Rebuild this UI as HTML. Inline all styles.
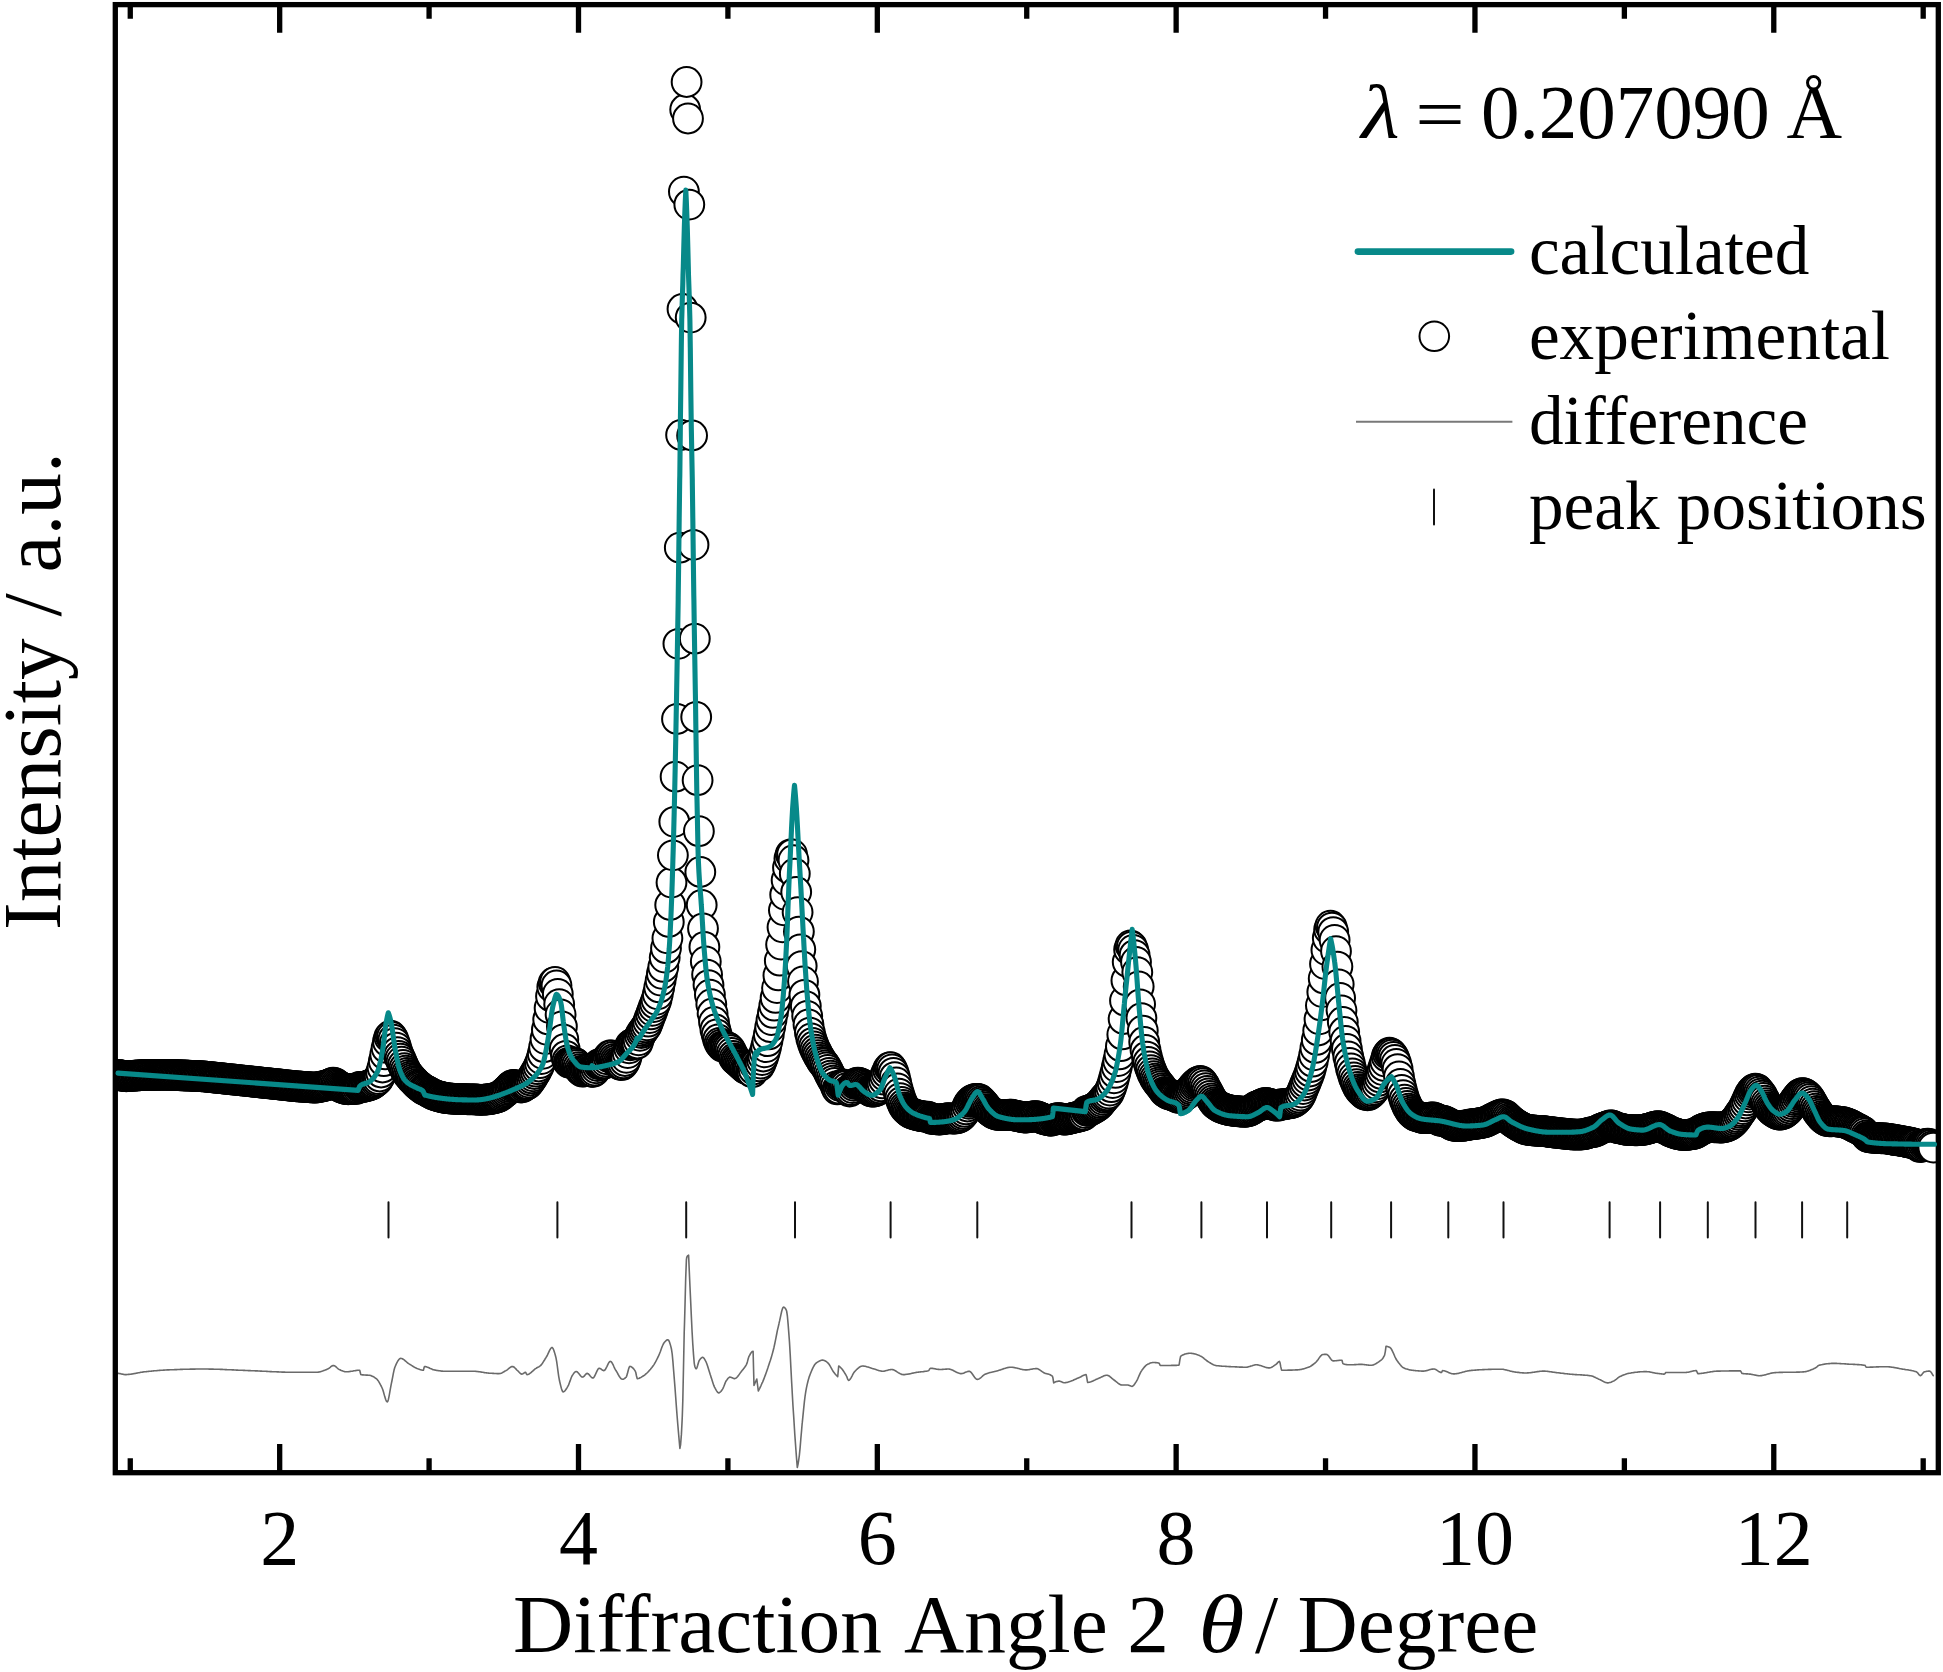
<!DOCTYPE html>
<html lang="en"><head><meta charset="utf-8"><title>Diffraction pattern</title>
<style>
html,body{margin:0;padding:0;background:#fff;overflow:hidden}
svg{display:block}
text{font-family:"Liberation Serif","Times New Roman",serif;fill:#000}
.i{font-style:italic}
</style></head><body>
<svg width="1943" height="1672" viewBox="0 0 1943 1672">
<rect width="1943" height="1672" fill="#fff"/>
<defs><clipPath id="c"><rect x="115.3" y="4.63" width="1823.0" height="1468.07"/></clipPath></defs>
<g clip-path="url(#c)">
<g fill="#fff" stroke="#000" stroke-width="2.0"><circle cx="115.3" cy="1075.6" r="14.9"/><circle cx="116.7" cy="1075.3" r="14.9"/><circle cx="118" cy="1074.9" r="14.9"/><circle cx="119.4" cy="1075" r="14.9"/><circle cx="120.8" cy="1075.3" r="14.9"/><circle cx="122.2" cy="1075.7" r="14.9"/><circle cx="123.5" cy="1076" r="14.9"/><circle cx="124.9" cy="1076.2" r="14.9"/><circle cx="126.3" cy="1076.3" r="14.9"/><circle cx="127.6" cy="1076.2" r="14.9"/><circle cx="129" cy="1076.1" r="14.9"/><circle cx="130.4" cy="1076" r="14.9"/><circle cx="131.7" cy="1075.9" r="14.9"/><circle cx="133.1" cy="1075.8" r="14.9"/><circle cx="134.5" cy="1075.7" r="14.9"/><circle cx="135.9" cy="1075.6" r="14.9"/><circle cx="137.2" cy="1075.5" r="14.9"/><circle cx="138.6" cy="1075.4" r="14.9"/><circle cx="140" cy="1075.3" r="14.9"/><circle cx="141.3" cy="1075.2" r="14.9"/><circle cx="142.7" cy="1075.1" r="14.9"/><circle cx="144.1" cy="1075" r="14.9"/><circle cx="145.4" cy="1075" r="14.9"/><circle cx="146.8" cy="1075" r="14.9"/><circle cx="148.2" cy="1074.9" r="14.9"/><circle cx="149.6" cy="1074.9" r="14.9"/><circle cx="150.9" cy="1074.9" r="14.9"/><circle cx="152.3" cy="1074.9" r="14.9"/><circle cx="153.7" cy="1074.9" r="14.9"/><circle cx="155" cy="1074.9" r="14.9"/><circle cx="156.4" cy="1074.9" r="14.9"/><circle cx="157.8" cy="1074.8" r="14.9"/><circle cx="159.1" cy="1074.8" r="14.9"/><circle cx="160.5" cy="1074.8" r="14.9"/><circle cx="161.9" cy="1074.8" r="14.9"/><circle cx="163.3" cy="1074.8" r="14.9"/><circle cx="164.6" cy="1074.8" r="14.9"/><circle cx="166" cy="1074.8" r="14.9"/><circle cx="167.4" cy="1074.8" r="14.9"/><circle cx="168.7" cy="1074.8" r="14.9"/><circle cx="170.1" cy="1074.8" r="14.9"/><circle cx="171.5" cy="1074.9" r="14.9"/><circle cx="172.8" cy="1075" r="14.9"/><circle cx="174.2" cy="1075" r="14.9"/><circle cx="175.6" cy="1075.1" r="14.9"/><circle cx="177" cy="1075.1" r="14.9"/><circle cx="178.3" cy="1075.2" r="14.9"/><circle cx="179.7" cy="1075.3" r="14.9"/><circle cx="181.1" cy="1075.3" r="14.9"/><circle cx="182.4" cy="1075.4" r="14.9"/><circle cx="183.8" cy="1075.5" r="14.9"/><circle cx="185.2" cy="1075.5" r="14.9"/><circle cx="186.5" cy="1075.6" r="14.9"/><circle cx="187.9" cy="1075.6" r="14.9"/><circle cx="189.3" cy="1075.7" r="14.9"/><circle cx="190.7" cy="1075.8" r="14.9"/><circle cx="192" cy="1075.8" r="14.9"/><circle cx="193.4" cy="1075.9" r="14.9"/><circle cx="194.8" cy="1076" r="14.9"/><circle cx="196.1" cy="1076" r="14.9"/><circle cx="197.5" cy="1076.1" r="14.9"/><circle cx="198.9" cy="1076.1" r="14.9"/><circle cx="200.2" cy="1076.2" r="14.9"/><circle cx="201.6" cy="1076.3" r="14.9"/><circle cx="203" cy="1076.4" r="14.9"/><circle cx="204.4" cy="1076.5" r="14.9"/><circle cx="205.7" cy="1076.6" r="14.9"/><circle cx="207.1" cy="1076.8" r="14.9"/><circle cx="208.5" cy="1076.9" r="14.9"/><circle cx="209.8" cy="1077.1" r="14.9"/><circle cx="211.2" cy="1077.2" r="14.9"/><circle cx="212.6" cy="1077.4" r="14.9"/><circle cx="213.9" cy="1077.5" r="14.9"/><circle cx="215.3" cy="1077.7" r="14.9"/><circle cx="216.7" cy="1077.8" r="14.9"/><circle cx="218.1" cy="1077.9" r="14.9"/><circle cx="219.4" cy="1078.1" r="14.9"/><circle cx="220.8" cy="1078.2" r="14.9"/><circle cx="222.2" cy="1078.4" r="14.9"/><circle cx="223.5" cy="1078.5" r="14.9"/><circle cx="224.9" cy="1078.7" r="14.9"/><circle cx="226.3" cy="1078.8" r="14.9"/><circle cx="227.6" cy="1079" r="14.9"/><circle cx="229" cy="1079.1" r="14.9"/><circle cx="230.4" cy="1079.3" r="14.9"/><circle cx="231.8" cy="1079.4" r="14.9"/><circle cx="233.1" cy="1079.5" r="14.9"/><circle cx="234.5" cy="1079.7" r="14.9"/><circle cx="235.9" cy="1079.8" r="14.9"/><circle cx="237.2" cy="1080" r="14.9"/><circle cx="238.6" cy="1080.1" r="14.9"/><circle cx="240" cy="1080.3" r="14.9"/><circle cx="241.3" cy="1080.4" r="14.9"/><circle cx="242.7" cy="1080.6" r="14.9"/><circle cx="244.1" cy="1080.7" r="14.9"/><circle cx="245.5" cy="1080.8" r="14.9"/><circle cx="246.8" cy="1081" r="14.9"/><circle cx="248.2" cy="1081.1" r="14.9"/><circle cx="249.6" cy="1081.3" r="14.9"/><circle cx="250.9" cy="1081.4" r="14.9"/><circle cx="252.3" cy="1081.6" r="14.9"/><circle cx="253.7" cy="1081.7" r="14.9"/><circle cx="255" cy="1081.9" r="14.9"/><circle cx="256.4" cy="1082" r="14.9"/><circle cx="257.8" cy="1082.2" r="14.9"/><circle cx="259.2" cy="1082.3" r="14.9"/><circle cx="260.5" cy="1082.5" r="14.9"/><circle cx="261.9" cy="1082.6" r="14.9"/><circle cx="263.3" cy="1082.8" r="14.9"/><circle cx="264.6" cy="1082.9" r="14.9"/><circle cx="266" cy="1083.1" r="14.9"/><circle cx="267.4" cy="1083.2" r="14.9"/><circle cx="268.7" cy="1083.4" r="14.9"/><circle cx="270.1" cy="1083.5" r="14.9"/><circle cx="271.5" cy="1083.6" r="14.9"/><circle cx="272.9" cy="1083.8" r="14.9"/><circle cx="274.2" cy="1083.9" r="14.9"/><circle cx="275.6" cy="1084.1" r="14.9"/><circle cx="277" cy="1084.2" r="14.9"/><circle cx="278.3" cy="1084.4" r="14.9"/><circle cx="279.7" cy="1084.5" r="14.9"/><circle cx="281.1" cy="1084.7" r="14.9"/><circle cx="282.4" cy="1084.8" r="14.9"/><circle cx="283.8" cy="1085" r="14.9"/><circle cx="285.2" cy="1085.1" r="14.9"/><circle cx="286.6" cy="1085.3" r="14.9"/><circle cx="287.9" cy="1085.4" r="14.9"/><circle cx="289.3" cy="1085.6" r="14.9"/><circle cx="290.7" cy="1085.7" r="14.9"/><circle cx="292" cy="1085.9" r="14.9"/><circle cx="293.4" cy="1086" r="14.9"/><circle cx="294.8" cy="1086.2" r="14.9"/><circle cx="296.1" cy="1086.3" r="14.9"/><circle cx="297.5" cy="1086.4" r="14.9"/><circle cx="298.9" cy="1086.5" r="14.9"/><circle cx="300.3" cy="1086.6" r="14.9"/><circle cx="301.6" cy="1086.7" r="14.9"/><circle cx="303" cy="1086.8" r="14.9"/><circle cx="304.4" cy="1086.9" r="14.9"/><circle cx="305.7" cy="1087" r="14.9"/><circle cx="307.1" cy="1087.1" r="14.9"/><circle cx="308.5" cy="1087.2" r="14.9"/><circle cx="309.8" cy="1087.3" r="14.9"/><circle cx="311.2" cy="1087.4" r="14.9"/><circle cx="312.6" cy="1087.5" r="14.9"/><circle cx="314" cy="1087.6" r="14.9"/><circle cx="315.3" cy="1087.6" r="14.9"/><circle cx="316.7" cy="1087.5" r="14.9"/><circle cx="318.1" cy="1087.3" r="14.9"/><circle cx="319.4" cy="1087" r="14.9"/><circle cx="320.8" cy="1086.7" r="14.9"/><circle cx="322.2" cy="1086.4" r="14.9"/><circle cx="323.5" cy="1086.1" r="14.9"/><circle cx="324.9" cy="1085.8" r="14.9"/><circle cx="326.3" cy="1085.5" r="14.9"/><circle cx="327.7" cy="1085.1" r="14.9"/><circle cx="329" cy="1084.5" r="14.9"/><circle cx="330.4" cy="1083.8" r="14.9"/><circle cx="331.8" cy="1083.1" r="14.9"/><circle cx="333.1" cy="1082.7" r="14.9"/><circle cx="334.5" cy="1083" r="14.9"/><circle cx="335.9" cy="1084" r="14.9"/><circle cx="337.2" cy="1085" r="14.9"/><circle cx="338.6" cy="1086" r="14.9"/><circle cx="340" cy="1086.8" r="14.9"/><circle cx="341.4" cy="1087.4" r="14.9"/><circle cx="342.7" cy="1087.9" r="14.9"/><circle cx="344.1" cy="1088.5" r="14.9"/><circle cx="345.5" cy="1089" r="14.9"/><circle cx="346.8" cy="1089.2" r="14.9"/><circle cx="348.2" cy="1089.3" r="14.9"/><circle cx="349.6" cy="1089.2" r="14.9"/><circle cx="350.9" cy="1089.1" r="14.9"/><circle cx="352.3" cy="1089.1" r="14.9"/><circle cx="353.7" cy="1089" r="14.9"/><circle cx="355.1" cy="1088.9" r="14.9"/><circle cx="356.4" cy="1088.9" r="14.9"/><circle cx="357.8" cy="1088.1" r="14.9"/><circle cx="359.2" cy="1086.9" r="14.9"/><circle cx="360.5" cy="1086.9" r="14.9"/><circle cx="361.9" cy="1087.2" r="14.9"/><circle cx="363.3" cy="1086.9" r="14.9"/><circle cx="364.6" cy="1086.6" r="14.9"/><circle cx="366" cy="1086.3" r="14.9"/><circle cx="367.4" cy="1085.9" r="14.9"/><circle cx="368.8" cy="1085.4" r="14.9"/><circle cx="370.1" cy="1085" r="14.9"/><circle cx="371.5" cy="1084.4" r="14.9"/><circle cx="372.9" cy="1083.7" r="14.9"/><circle cx="374.2" cy="1082.7" r="14.9"/><circle cx="375.6" cy="1081.6" r="14.9"/><circle cx="377" cy="1080.5" r="14.9"/><circle cx="378.3" cy="1079.1" r="14.9"/><circle cx="379.7" cy="1076.5" r="14.9"/><circle cx="381.1" cy="1072.5" r="14.9"/><circle cx="382.5" cy="1067.5" r="14.9"/><circle cx="383.8" cy="1061.2" r="14.9"/><circle cx="385.2" cy="1054.4" r="14.9"/><circle cx="386.6" cy="1047.9" r="14.9"/><circle cx="387.9" cy="1041.5" r="14.9"/><circle cx="389.3" cy="1037.1" r="14.9"/><circle cx="390.7" cy="1035.7" r="14.9"/><circle cx="392" cy="1036.9" r="14.9"/><circle cx="393.4" cy="1039.6" r="14.9"/><circle cx="394.8" cy="1043.2" r="14.9"/><circle cx="396.2" cy="1047.6" r="14.9"/><circle cx="397.5" cy="1052.1" r="14.9"/><circle cx="398.9" cy="1055.8" r="14.9"/><circle cx="400.3" cy="1058.7" r="14.9"/><circle cx="401.6" cy="1061.7" r="14.9"/><circle cx="403" cy="1065" r="14.9"/><circle cx="404.4" cy="1068.1" r="14.9"/><circle cx="405.7" cy="1070.7" r="14.9"/><circle cx="407.1" cy="1073" r="14.9"/><circle cx="408.5" cy="1074.9" r="14.9"/><circle cx="409.9" cy="1076.6" r="14.9"/><circle cx="411.2" cy="1078.2" r="14.9"/><circle cx="412.6" cy="1079.7" r="14.9"/><circle cx="414" cy="1081.1" r="14.9"/><circle cx="415.3" cy="1082.5" r="14.9"/><circle cx="416.7" cy="1084" r="14.9"/><circle cx="418.1" cy="1085.2" r="14.9"/><circle cx="419.4" cy="1086.2" r="14.9"/><circle cx="420.8" cy="1087.2" r="14.9"/><circle cx="422.2" cy="1088.4" r="14.9"/><circle cx="423.6" cy="1089.5" r="14.9"/><circle cx="424.9" cy="1090" r="14.9"/><circle cx="426.3" cy="1090.6" r="14.9"/><circle cx="427.7" cy="1091.4" r="14.9"/><circle cx="429" cy="1092.2" r="14.9"/><circle cx="430.4" cy="1093" r="14.9"/><circle cx="431.8" cy="1093.7" r="14.9"/><circle cx="433.1" cy="1094.4" r="14.9"/><circle cx="434.5" cy="1095.1" r="14.9"/><circle cx="435.9" cy="1095.5" r="14.9"/><circle cx="437.3" cy="1095.9" r="14.9"/><circle cx="438.6" cy="1096.3" r="14.9"/><circle cx="440" cy="1096.7" r="14.9"/><circle cx="441.4" cy="1097" r="14.9"/><circle cx="442.7" cy="1097.4" r="14.9"/><circle cx="444.1" cy="1097.7" r="14.9"/><circle cx="445.5" cy="1098" r="14.9"/><circle cx="446.8" cy="1098.2" r="14.9"/><circle cx="448.2" cy="1098.3" r="14.9"/><circle cx="449.6" cy="1098.4" r="14.9"/><circle cx="451" cy="1098.6" r="14.9"/><circle cx="452.3" cy="1098.7" r="14.9"/><circle cx="453.7" cy="1098.8" r="14.9"/><circle cx="455.1" cy="1098.8" r="14.9"/><circle cx="456.4" cy="1098.9" r="14.9"/><circle cx="457.8" cy="1099" r="14.9"/><circle cx="459.2" cy="1099" r="14.9"/><circle cx="460.5" cy="1099.1" r="14.9"/><circle cx="461.9" cy="1099.1" r="14.9"/><circle cx="463.3" cy="1099.2" r="14.9"/><circle cx="464.7" cy="1099.2" r="14.9"/><circle cx="466" cy="1099.2" r="14.9"/><circle cx="467.4" cy="1099.3" r="14.9"/><circle cx="468.8" cy="1099.3" r="14.9"/><circle cx="470.1" cy="1099.3" r="14.9"/><circle cx="471.5" cy="1099.3" r="14.9"/><circle cx="472.9" cy="1099.3" r="14.9"/><circle cx="474.2" cy="1099.4" r="14.9"/><circle cx="475.6" cy="1099.5" r="14.9"/><circle cx="477" cy="1099.6" r="14.9"/><circle cx="478.4" cy="1099.7" r="14.9"/><circle cx="479.7" cy="1099.8" r="14.9"/><circle cx="481.1" cy="1099.8" r="14.9"/><circle cx="482.5" cy="1099.8" r="14.9"/><circle cx="483.8" cy="1099.7" r="14.9"/><circle cx="485.2" cy="1099.6" r="14.9"/><circle cx="486.6" cy="1099.5" r="14.9"/><circle cx="487.9" cy="1099.4" r="14.9"/><circle cx="489.3" cy="1099.2" r="14.9"/><circle cx="490.7" cy="1099" r="14.9"/><circle cx="492.1" cy="1098.7" r="14.9"/><circle cx="493.4" cy="1098.4" r="14.9"/><circle cx="494.8" cy="1098" r="14.9"/><circle cx="496.2" cy="1097.7" r="14.9"/><circle cx="497.5" cy="1097.3" r="14.9"/><circle cx="498.9" cy="1096.7" r="14.9"/><circle cx="500.3" cy="1095.9" r="14.9"/><circle cx="501.6" cy="1094.8" r="14.9"/><circle cx="503" cy="1093.7" r="14.9"/><circle cx="504.4" cy="1092.6" r="14.9"/><circle cx="505.8" cy="1091.4" r="14.9"/><circle cx="507.1" cy="1090.1" r="14.9"/><circle cx="508.5" cy="1088.7" r="14.9"/><circle cx="509.9" cy="1087.2" r="14.9"/><circle cx="511.2" cy="1085.8" r="14.9"/><circle cx="512.6" cy="1085" r="14.9"/><circle cx="514" cy="1085" r="14.9"/><circle cx="515.3" cy="1085.5" r="14.9"/><circle cx="516.7" cy="1086" r="14.9"/><circle cx="518.1" cy="1086.6" r="14.9"/><circle cx="519.5" cy="1087.1" r="14.9"/><circle cx="520.8" cy="1087.5" r="14.9"/><circle cx="522.2" cy="1087.3" r="14.9"/><circle cx="523.6" cy="1086.3" r="14.9"/><circle cx="524.9" cy="1085.3" r="14.9"/><circle cx="526.3" cy="1084.8" r="14.9"/><circle cx="527.7" cy="1084.1" r="14.9"/><circle cx="529" cy="1082.6" r="14.9"/><circle cx="530.4" cy="1080.5" r="14.9"/><circle cx="531.8" cy="1078.4" r="14.9"/><circle cx="533.2" cy="1076.3" r="14.9"/><circle cx="534.5" cy="1074" r="14.9"/><circle cx="535.9" cy="1071.7" r="14.9"/><circle cx="537.3" cy="1069.2" r="14.9"/><circle cx="538.6" cy="1066.5" r="14.9"/><circle cx="540" cy="1063.2" r="14.9"/><circle cx="541.4" cy="1059.1" r="14.9"/><circle cx="542.8" cy="1053.8" r="14.9"/><circle cx="544.1" cy="1047.2" r="14.9"/><circle cx="545.5" cy="1039.1" r="14.9"/><circle cx="546.9" cy="1029.8" r="14.9"/><circle cx="548.2" cy="1019.5" r="14.9"/><circle cx="549.6" cy="1008.1" r="14.9"/><circle cx="551" cy="996.2" r="14.9"/><circle cx="552.3" cy="987.1" r="14.9"/><circle cx="553.7" cy="982.7" r="14.9"/><circle cx="555.1" cy="981.9" r="14.9"/><circle cx="556.5" cy="985.5" r="14.9"/><circle cx="557.8" cy="993.9" r="14.9"/><circle cx="559.2" cy="1004.2" r="14.9"/><circle cx="560.6" cy="1014.4" r="14.9"/><circle cx="561.9" cy="1026.5" r="14.9"/><circle cx="563.3" cy="1039.3" r="14.9"/><circle cx="564.7" cy="1049" r="14.9"/><circle cx="566" cy="1055.8" r="14.9"/><circle cx="567.4" cy="1060.5" r="14.9"/><circle cx="568.8" cy="1062.6" r="14.9"/><circle cx="570.1" cy="1062.9" r="14.9"/><circle cx="571.5" cy="1062.6" r="14.9"/><circle cx="572.9" cy="1062.4" r="14.9"/><circle cx="574.3" cy="1062.6" r="14.9"/><circle cx="575.6" cy="1063.4" r="14.9"/><circle cx="577" cy="1064.9" r="14.9"/><circle cx="578.4" cy="1067.1" r="14.9"/><circle cx="579.7" cy="1069.2" r="14.9"/><circle cx="581.1" cy="1070.8" r="14.9"/><circle cx="582.5" cy="1071.7" r="14.9"/><circle cx="583.8" cy="1071.4" r="14.9"/><circle cx="585.2" cy="1070.5" r="14.9"/><circle cx="586.6" cy="1069.8" r="14.9"/><circle cx="588" cy="1070" r="14.9"/><circle cx="589.3" cy="1070.9" r="14.9"/><circle cx="590.7" cy="1071.5" r="14.9"/><circle cx="592.1" cy="1071.8" r="14.9"/><circle cx="593.4" cy="1071.8" r="14.9"/><circle cx="594.8" cy="1070.6" r="14.9"/><circle cx="596.2" cy="1068.3" r="14.9"/><circle cx="597.5" cy="1066.1" r="14.9"/><circle cx="598.9" cy="1064.3" r="14.9"/><circle cx="600.3" cy="1063.7" r="14.9"/><circle cx="601.7" cy="1063.9" r="14.9"/><circle cx="603" cy="1064.1" r="14.9"/><circle cx="604.4" cy="1063.4" r="14.9"/><circle cx="605.8" cy="1061.6" r="14.9"/><circle cx="607.1" cy="1059.3" r="14.9"/><circle cx="608.5" cy="1057.1" r="14.9"/><circle cx="609.9" cy="1055.4" r="14.9"/><circle cx="611.2" cy="1055.5" r="14.9"/><circle cx="612.6" cy="1057" r="14.9"/><circle cx="614" cy="1058.8" r="14.9"/><circle cx="615.4" cy="1060.5" r="14.9"/><circle cx="616.7" cy="1062.1" r="14.9"/><circle cx="618.1" cy="1063.3" r="14.9"/><circle cx="619.5" cy="1064.3" r="14.9"/><circle cx="620.8" cy="1065" r="14.9"/><circle cx="622.2" cy="1064.9" r="14.9"/><circle cx="623.6" cy="1063.4" r="14.9"/><circle cx="625" cy="1061" r="14.9"/><circle cx="626.3" cy="1057.8" r="14.9"/><circle cx="627.7" cy="1053.1" r="14.9"/><circle cx="629.1" cy="1048.3" r="14.9"/><circle cx="630.4" cy="1045.3" r="14.9"/><circle cx="631.8" cy="1044.2" r="14.9"/><circle cx="633.2" cy="1043.6" r="14.9"/><circle cx="634.5" cy="1043" r="14.9"/><circle cx="635.9" cy="1043.5" r="14.9"/><circle cx="637.3" cy="1043.5" r="14.9"/><circle cx="638.6" cy="1040.3" r="14.9"/><circle cx="640" cy="1035.8" r="14.9"/><circle cx="641.4" cy="1033" r="14.9"/><circle cx="642.8" cy="1031.2" r="14.9"/><circle cx="644.1" cy="1029.3" r="14.9"/><circle cx="645.5" cy="1027.4" r="14.9"/><circle cx="646.9" cy="1025.3" r="14.9"/><circle cx="648.2" cy="1021.7" r="14.9"/><circle cx="649.6" cy="1018.1" r="14.9"/><circle cx="651" cy="1014.4" r="14.9"/><circle cx="652.4" cy="1010.8" r="14.9"/><circle cx="653.7" cy="1007.1" r="14.9"/><circle cx="655.1" cy="1003.5" r="14.9"/><circle cx="656.5" cy="999.8" r="14.9"/><circle cx="657.8" cy="994.3" r="14.9"/><circle cx="659.2" cy="987.4" r="14.9"/><circle cx="660.6" cy="980.6" r="14.9"/><circle cx="661.9" cy="973.8" r="14.9"/><circle cx="663.3" cy="966.9" r="14.9"/><circle cx="664.7" cy="957.6" r="14.9"/><circle cx="666" cy="948.2" r="14.9"/><circle cx="667.4" cy="938.3" r="14.9"/><circle cx="668.8" cy="922" r="14.9"/><circle cx="670.2" cy="905" r="14.9"/><circle cx="671.5" cy="882.6" r="14.9"/><circle cx="672.9" cy="855.3" r="14.9"/><circle cx="674.3" cy="821.8" r="14.9"/><circle cx="675.6" cy="776.7" r="14.9"/><circle cx="677" cy="719" r="14.9"/><circle cx="678.4" cy="643.8" r="14.9"/><circle cx="679.8" cy="547.7" r="14.9"/><circle cx="681.1" cy="435" r="14.9"/><circle cx="682.5" cy="309" r="14.9"/><circle cx="683.9" cy="191.7" r="14.9"/><circle cx="685.2" cy="109.5" r="14.9"/><circle cx="686.6" cy="82" r="14.9"/><circle cx="688" cy="118.5" r="14.9"/><circle cx="689.3" cy="204.6" r="14.9"/><circle cx="690.7" cy="317.6" r="14.9"/><circle cx="692.1" cy="435.5" r="14.9"/><circle cx="693.5" cy="544.8" r="14.9"/><circle cx="694.8" cy="638.7" r="14.9"/><circle cx="696.2" cy="717" r="14.9"/><circle cx="697.6" cy="780.2" r="14.9"/><circle cx="698.9" cy="831.2" r="14.9"/><circle cx="700.3" cy="872" r="14.9"/><circle cx="701.7" cy="905" r="14.9"/><circle cx="703" cy="928.5" r="14.9"/><circle cx="704.4" cy="947" r="14.9"/><circle cx="705.8" cy="961.4" r="14.9"/><circle cx="707.1" cy="974.6" r="14.9"/><circle cx="708.5" cy="985.1" r="14.9"/><circle cx="709.9" cy="994.7" r="14.9"/><circle cx="711.3" cy="1004.2" r="14.9"/><circle cx="712.6" cy="1013.5" r="14.9"/><circle cx="714" cy="1022" r="14.9"/><circle cx="715.4" cy="1029.5" r="14.9"/><circle cx="716.7" cy="1034.5" r="14.9"/><circle cx="718.1" cy="1039.5" r="14.9"/><circle cx="719.5" cy="1042.9" r="14.9"/><circle cx="720.9" cy="1044.7" r="14.9"/><circle cx="722.2" cy="1046.4" r="14.9"/><circle cx="723.6" cy="1046.7" r="14.9"/><circle cx="725" cy="1046.6" r="14.9"/><circle cx="726.3" cy="1046.6" r="14.9"/><circle cx="727.7" cy="1047.5" r="14.9"/><circle cx="729.1" cy="1048.4" r="14.9"/><circle cx="730.4" cy="1050.1" r="14.9"/><circle cx="731.8" cy="1052.9" r="14.9"/><circle cx="733.2" cy="1055.8" r="14.9"/><circle cx="734.5" cy="1058.4" r="14.9"/><circle cx="735.9" cy="1060" r="14.9"/><circle cx="737.3" cy="1061.1" r="14.9"/><circle cx="738.7" cy="1062.3" r="14.9"/><circle cx="740" cy="1063.5" r="14.9"/><circle cx="741.4" cy="1064.8" r="14.9"/><circle cx="742.8" cy="1066" r="14.9"/><circle cx="744.1" cy="1067.2" r="14.9"/><circle cx="745.5" cy="1068.4" r="14.9"/><circle cx="746.9" cy="1069.1" r="14.9"/><circle cx="748.2" cy="1069" r="14.9"/><circle cx="749.6" cy="1069.7" r="14.9"/><circle cx="751" cy="1071.5" r="14.9"/><circle cx="752.4" cy="1072.2" r="14.9"/><circle cx="753.7" cy="1069.5" r="14.9"/><circle cx="755.1" cy="1065.5" r="14.9"/><circle cx="756.5" cy="1064.3" r="14.9"/><circle cx="757.8" cy="1066.1" r="14.9"/><circle cx="759.2" cy="1066.3" r="14.9"/><circle cx="760.6" cy="1063.6" r="14.9"/><circle cx="762" cy="1060.1" r="14.9"/><circle cx="763.3" cy="1056.5" r="14.9"/><circle cx="764.7" cy="1052.3" r="14.9"/><circle cx="766.1" cy="1047.1" r="14.9"/><circle cx="767.4" cy="1041.2" r="14.9"/><circle cx="768.8" cy="1034.4" r="14.9"/><circle cx="770.2" cy="1027.1" r="14.9"/><circle cx="771.5" cy="1020" r="14.9"/><circle cx="772.9" cy="1012.9" r="14.9"/><circle cx="774.3" cy="1005.7" r="14.9"/><circle cx="775.6" cy="997.9" r="14.9"/><circle cx="777" cy="988.1" r="14.9"/><circle cx="778.4" cy="975.4" r="14.9"/><circle cx="779.8" cy="960.7" r="14.9"/><circle cx="781.1" cy="944.6" r="14.9"/><circle cx="782.5" cy="927.3" r="14.9"/><circle cx="783.9" cy="910.3" r="14.9"/><circle cx="785.2" cy="894.8" r="14.9"/><circle cx="786.6" cy="880.3" r="14.9"/><circle cx="788" cy="867.7" r="14.9"/><circle cx="789.4" cy="858.6" r="14.9"/><circle cx="790.7" cy="854.3" r="14.9"/><circle cx="792.1" cy="854.4" r="14.9"/><circle cx="793.5" cy="860.2" r="14.9"/><circle cx="794.8" cy="873.7" r="14.9"/><circle cx="796.2" cy="892" r="14.9"/><circle cx="797.6" cy="912.2" r="14.9"/><circle cx="798.9" cy="931.6" r="14.9"/><circle cx="800.3" cy="949.5" r="14.9"/><circle cx="801.7" cy="966.1" r="14.9"/><circle cx="803" cy="981.4" r="14.9"/><circle cx="804.4" cy="994.8" r="14.9"/><circle cx="805.8" cy="1006.1" r="14.9"/><circle cx="807.2" cy="1015.9" r="14.9"/><circle cx="808.5" cy="1024.5" r="14.9"/><circle cx="809.9" cy="1032.6" r="14.9"/><circle cx="811.3" cy="1038.4" r="14.9"/><circle cx="812.6" cy="1042.8" r="14.9"/><circle cx="814" cy="1046.5" r="14.9"/><circle cx="815.4" cy="1049.7" r="14.9"/><circle cx="816.8" cy="1052.5" r="14.9"/><circle cx="818.1" cy="1055.1" r="14.9"/><circle cx="819.5" cy="1057.6" r="14.9"/><circle cx="820.9" cy="1059.8" r="14.9"/><circle cx="822.2" cy="1061.9" r="14.9"/><circle cx="823.6" cy="1063.5" r="14.9"/><circle cx="825" cy="1065.3" r="14.9"/><circle cx="826.3" cy="1067.5" r="14.9"/><circle cx="827.7" cy="1070" r="14.9"/><circle cx="829.1" cy="1072.9" r="14.9"/><circle cx="830.5" cy="1075.7" r="14.9"/><circle cx="831.8" cy="1078.2" r="14.9"/><circle cx="833.2" cy="1080.6" r="14.9"/><circle cx="834.6" cy="1082.9" r="14.9"/><circle cx="835.9" cy="1086.4" r="14.9"/><circle cx="837.3" cy="1089.4" r="14.9"/><circle cx="838.7" cy="1088.6" r="14.9"/><circle cx="840" cy="1086.1" r="14.9"/><circle cx="841.4" cy="1084.9" r="14.9"/><circle cx="842.8" cy="1084.5" r="14.9"/><circle cx="844.1" cy="1084.8" r="14.9"/><circle cx="845.5" cy="1085.8" r="14.9"/><circle cx="846.9" cy="1088" r="14.9"/><circle cx="848.3" cy="1090.6" r="14.9"/><circle cx="849.6" cy="1091.5" r="14.9"/><circle cx="851" cy="1090.2" r="14.9"/><circle cx="852.4" cy="1088.1" r="14.9"/><circle cx="853.7" cy="1085.8" r="14.9"/><circle cx="855.1" cy="1084" r="14.9"/><circle cx="856.5" cy="1082.9" r="14.9"/><circle cx="857.9" cy="1082.7" r="14.9"/><circle cx="859.2" cy="1082.9" r="14.9"/><circle cx="860.6" cy="1083.5" r="14.9"/><circle cx="862" cy="1084.2" r="14.9"/><circle cx="863.3" cy="1085.3" r="14.9"/><circle cx="864.7" cy="1086.6" r="14.9"/><circle cx="866.1" cy="1087.8" r="14.9"/><circle cx="867.4" cy="1089" r="14.9"/><circle cx="868.8" cy="1090.1" r="14.9"/><circle cx="870.2" cy="1091" r="14.9"/><circle cx="871.5" cy="1091.5" r="14.9"/><circle cx="872.9" cy="1091.7" r="14.9"/><circle cx="874.3" cy="1091.6" r="14.9"/><circle cx="875.7" cy="1091.1" r="14.9"/><circle cx="877" cy="1090.5" r="14.9"/><circle cx="878.4" cy="1089.6" r="14.9"/><circle cx="879.8" cy="1088.4" r="14.9"/><circle cx="881.1" cy="1086.4" r="14.9"/><circle cx="882.5" cy="1083.4" r="14.9"/><circle cx="883.9" cy="1079.7" r="14.9"/><circle cx="885.2" cy="1076" r="14.9"/><circle cx="886.6" cy="1072.7" r="14.9"/><circle cx="888" cy="1069.6" r="14.9"/><circle cx="889.4" cy="1067.4" r="14.9"/><circle cx="890.7" cy="1067.2" r="14.9"/><circle cx="892.1" cy="1069.3" r="14.9"/><circle cx="893.5" cy="1072.8" r="14.9"/><circle cx="894.8" cy="1077.1" r="14.9"/><circle cx="896.2" cy="1082.5" r="14.9"/><circle cx="897.6" cy="1088.4" r="14.9"/><circle cx="899" cy="1093.7" r="14.9"/><circle cx="900.3" cy="1098.1" r="14.9"/><circle cx="901.7" cy="1101.8" r="14.9"/><circle cx="903.1" cy="1105" r="14.9"/><circle cx="904.4" cy="1107.3" r="14.9"/><circle cx="905.8" cy="1108.9" r="14.9"/><circle cx="907.2" cy="1110.2" r="14.9"/><circle cx="908.5" cy="1111.4" r="14.9"/><circle cx="909.9" cy="1112.4" r="14.9"/><circle cx="911.3" cy="1113.2" r="14.9"/><circle cx="912.6" cy="1113.8" r="14.9"/><circle cx="914" cy="1114.3" r="14.9"/><circle cx="915.4" cy="1114.7" r="14.9"/><circle cx="916.8" cy="1115.1" r="14.9"/><circle cx="918.1" cy="1115.5" r="14.9"/><circle cx="919.5" cy="1115.8" r="14.9"/><circle cx="920.9" cy="1116" r="14.9"/><circle cx="922.2" cy="1116.3" r="14.9"/><circle cx="923.6" cy="1116.5" r="14.9"/><circle cx="925" cy="1116.6" r="14.9"/><circle cx="926.4" cy="1116.8" r="14.9"/><circle cx="927.7" cy="1116.7" r="14.9"/><circle cx="929.1" cy="1117.1" r="14.9"/><circle cx="930.5" cy="1118.2" r="14.9"/><circle cx="931.8" cy="1118.9" r="14.9"/><circle cx="933.2" cy="1119.1" r="14.9"/><circle cx="934.6" cy="1119.2" r="14.9"/><circle cx="935.9" cy="1119.3" r="14.9"/><circle cx="937.3" cy="1119.4" r="14.9"/><circle cx="938.7" cy="1119.5" r="14.9"/><circle cx="940" cy="1119.5" r="14.9"/><circle cx="941.4" cy="1119.4" r="14.9"/><circle cx="942.8" cy="1119.2" r="14.9"/><circle cx="944.2" cy="1119" r="14.9"/><circle cx="945.5" cy="1118.7" r="14.9"/><circle cx="946.9" cy="1118.4" r="14.9"/><circle cx="948.3" cy="1118.2" r="14.9"/><circle cx="949.6" cy="1118.3" r="14.9"/><circle cx="951" cy="1118.4" r="14.9"/><circle cx="952.4" cy="1118.6" r="14.9"/><circle cx="953.8" cy="1118.6" r="14.9"/><circle cx="955.1" cy="1118.6" r="14.9"/><circle cx="956.5" cy="1118.4" r="14.9"/><circle cx="957.9" cy="1118.1" r="14.9"/><circle cx="959.2" cy="1117.6" r="14.9"/><circle cx="960.6" cy="1116.8" r="14.9"/><circle cx="962" cy="1115.6" r="14.9"/><circle cx="963.3" cy="1114" r="14.9"/><circle cx="964.7" cy="1111.9" r="14.9"/><circle cx="966.1" cy="1109.4" r="14.9"/><circle cx="967.5" cy="1106.5" r="14.9"/><circle cx="968.8" cy="1103.8" r="14.9"/><circle cx="970.2" cy="1101.9" r="14.9"/><circle cx="971.6" cy="1100.7" r="14.9"/><circle cx="972.9" cy="1100" r="14.9"/><circle cx="974.3" cy="1099.2" r="14.9"/><circle cx="975.7" cy="1098.8" r="14.9"/><circle cx="977" cy="1098.8" r="14.9"/><circle cx="978.4" cy="1098.9" r="14.9"/><circle cx="979.8" cy="1099.7" r="14.9"/><circle cx="981.1" cy="1101.1" r="14.9"/><circle cx="982.5" cy="1102.5" r="14.9"/><circle cx="983.9" cy="1104" r="14.9"/><circle cx="985.3" cy="1105.7" r="14.9"/><circle cx="986.6" cy="1107.5" r="14.9"/><circle cx="988" cy="1109.2" r="14.9"/><circle cx="989.4" cy="1110.4" r="14.9"/><circle cx="990.7" cy="1111.5" r="14.9"/><circle cx="992.1" cy="1112.5" r="14.9"/><circle cx="993.5" cy="1113.4" r="14.9"/><circle cx="994.9" cy="1114.1" r="14.9"/><circle cx="996.2" cy="1114.6" r="14.9"/><circle cx="997.6" cy="1114.9" r="14.9"/><circle cx="999" cy="1115.1" r="14.9"/><circle cx="1000.3" cy="1115.1" r="14.9"/><circle cx="1001.7" cy="1115.1" r="14.9"/><circle cx="1003.1" cy="1115.1" r="14.9"/><circle cx="1004.4" cy="1115" r="14.9"/><circle cx="1005.8" cy="1115" r="14.9"/><circle cx="1007.2" cy="1114.9" r="14.9"/><circle cx="1008.6" cy="1114.8" r="14.9"/><circle cx="1009.9" cy="1114.6" r="14.9"/><circle cx="1011.3" cy="1114.7" r="14.9"/><circle cx="1012.7" cy="1115" r="14.9"/><circle cx="1014" cy="1115.4" r="14.9"/><circle cx="1015.4" cy="1115.7" r="14.9"/><circle cx="1016.8" cy="1116" r="14.9"/><circle cx="1018.1" cy="1116.3" r="14.9"/><circle cx="1019.5" cy="1116.5" r="14.9"/><circle cx="1020.9" cy="1116.8" r="14.9"/><circle cx="1022.2" cy="1117" r="14.9"/><circle cx="1023.6" cy="1117.3" r="14.9"/><circle cx="1025" cy="1117.5" r="14.9"/><circle cx="1026.4" cy="1117.5" r="14.9"/><circle cx="1027.7" cy="1117.4" r="14.9"/><circle cx="1029.1" cy="1117.2" r="14.9"/><circle cx="1030.5" cy="1116.9" r="14.9"/><circle cx="1031.8" cy="1116.7" r="14.9"/><circle cx="1033.2" cy="1116.5" r="14.9"/><circle cx="1034.6" cy="1116.2" r="14.9"/><circle cx="1036" cy="1116.1" r="14.9"/><circle cx="1037.3" cy="1116.4" r="14.9"/><circle cx="1038.7" cy="1117" r="14.9"/><circle cx="1040.1" cy="1117.6" r="14.9"/><circle cx="1041.4" cy="1118.1" r="14.9"/><circle cx="1042.8" cy="1118.7" r="14.9"/><circle cx="1044.2" cy="1119.2" r="14.9"/><circle cx="1045.5" cy="1119.6" r="14.9"/><circle cx="1046.9" cy="1119.9" r="14.9"/><circle cx="1048.3" cy="1120.3" r="14.9"/><circle cx="1049.7" cy="1120.5" r="14.9"/><circle cx="1051" cy="1120.8" r="14.9"/><circle cx="1052.4" cy="1120.4" r="14.9"/><circle cx="1053.8" cy="1119.4" r="14.9"/><circle cx="1055.1" cy="1118.7" r="14.9"/><circle cx="1056.5" cy="1118.5" r="14.9"/><circle cx="1057.9" cy="1118.2" r="14.9"/><circle cx="1059.2" cy="1118.1" r="14.9"/><circle cx="1060.6" cy="1118.4" r="14.9"/><circle cx="1062" cy="1119" r="14.9"/><circle cx="1063.3" cy="1119.5" r="14.9"/><circle cx="1064.7" cy="1119.7" r="14.9"/><circle cx="1066.1" cy="1119.5" r="14.9"/><circle cx="1067.5" cy="1119.2" r="14.9"/><circle cx="1068.8" cy="1118.9" r="14.9"/><circle cx="1070.2" cy="1118.6" r="14.9"/><circle cx="1071.6" cy="1118.3" r="14.9"/><circle cx="1072.9" cy="1118" r="14.9"/><circle cx="1074.3" cy="1117.6" r="14.9"/><circle cx="1075.7" cy="1117.3" r="14.9"/><circle cx="1077.1" cy="1117" r="14.9"/><circle cx="1078.4" cy="1116.7" r="14.9"/><circle cx="1079.8" cy="1116.3" r="14.9"/><circle cx="1081.2" cy="1115.9" r="14.9"/><circle cx="1082.5" cy="1115.4" r="14.9"/><circle cx="1083.9" cy="1115" r="14.9"/><circle cx="1085.3" cy="1113.1" r="14.9"/><circle cx="1086.6" cy="1110.8" r="14.9"/><circle cx="1088" cy="1110.7" r="14.9"/><circle cx="1089.4" cy="1110.9" r="14.9"/><circle cx="1090.8" cy="1110" r="14.9"/><circle cx="1092.1" cy="1109.2" r="14.9"/><circle cx="1093.5" cy="1108.5" r="14.9"/><circle cx="1094.9" cy="1107.7" r="14.9"/><circle cx="1096.2" cy="1106.9" r="14.9"/><circle cx="1097.6" cy="1105.9" r="14.9"/><circle cx="1099" cy="1104.7" r="14.9"/><circle cx="1100.3" cy="1103.2" r="14.9"/><circle cx="1101.7" cy="1101.6" r="14.9"/><circle cx="1103.1" cy="1099.8" r="14.9"/><circle cx="1104.5" cy="1097.9" r="14.9"/><circle cx="1105.8" cy="1096.4" r="14.9"/><circle cx="1107.2" cy="1095.3" r="14.9"/><circle cx="1108.6" cy="1093.6" r="14.9"/><circle cx="1109.9" cy="1090.6" r="14.9"/><circle cx="1111.3" cy="1087.2" r="14.9"/><circle cx="1112.7" cy="1083.1" r="14.9"/><circle cx="1114" cy="1078.3" r="14.9"/><circle cx="1115.4" cy="1072.9" r="14.9"/><circle cx="1116.8" cy="1067.1" r="14.9"/><circle cx="1118.2" cy="1061.1" r="14.9"/><circle cx="1119.5" cy="1054.4" r="14.9"/><circle cx="1120.9" cy="1046.2" r="14.9"/><circle cx="1122.3" cy="1034.4" r="14.9"/><circle cx="1123.6" cy="1019" r="14.9"/><circle cx="1125" cy="1000.7" r="14.9"/><circle cx="1126.4" cy="980.5" r="14.9"/><circle cx="1127.7" cy="961.9" r="14.9"/><circle cx="1129.1" cy="949.4" r="14.9"/><circle cx="1130.5" cy="945.4" r="14.9"/><circle cx="1131.8" cy="946.6" r="14.9"/><circle cx="1133.2" cy="949.9" r="14.9"/><circle cx="1134.6" cy="955.1" r="14.9"/><circle cx="1136" cy="961.9" r="14.9"/><circle cx="1137.3" cy="972.2" r="14.9"/><circle cx="1138.7" cy="986.5" r="14.9"/><circle cx="1140.1" cy="1004.3" r="14.9"/><circle cx="1141.4" cy="1018.1" r="14.9"/><circle cx="1142.8" cy="1030.6" r="14.9"/><circle cx="1144.2" cy="1042" r="14.9"/><circle cx="1145.5" cy="1050" r="14.9"/><circle cx="1146.9" cy="1056.6" r="14.9"/><circle cx="1148.3" cy="1062" r="14.9"/><circle cx="1149.7" cy="1066.4" r="14.9"/><circle cx="1151" cy="1070.1" r="14.9"/><circle cx="1152.4" cy="1073.4" r="14.9"/><circle cx="1153.8" cy="1076.2" r="14.9"/><circle cx="1155.1" cy="1078.7" r="14.9"/><circle cx="1156.5" cy="1080.7" r="14.9"/><circle cx="1157.9" cy="1082.7" r="14.9"/><circle cx="1159.2" cy="1084.4" r="14.9"/><circle cx="1160.6" cy="1086.1" r="14.9"/><circle cx="1162" cy="1088.1" r="14.9"/><circle cx="1163.4" cy="1090" r="14.9"/><circle cx="1164.7" cy="1091.8" r="14.9"/><circle cx="1166.1" cy="1092.8" r="14.9"/><circle cx="1167.5" cy="1093.6" r="14.9"/><circle cx="1168.8" cy="1094.3" r="14.9"/><circle cx="1170.2" cy="1094.8" r="14.9"/><circle cx="1171.6" cy="1095.1" r="14.9"/><circle cx="1173" cy="1095.5" r="14.9"/><circle cx="1174.3" cy="1095.9" r="14.9"/><circle cx="1175.7" cy="1096.4" r="14.9"/><circle cx="1177.1" cy="1097.2" r="14.9"/><circle cx="1178.4" cy="1097.9" r="14.9"/><circle cx="1179.8" cy="1098" r="14.9"/><circle cx="1181.2" cy="1097.6" r="14.9"/><circle cx="1182.5" cy="1097" r="14.9"/><circle cx="1183.9" cy="1096.1" r="14.9"/><circle cx="1185.3" cy="1095.1" r="14.9"/><circle cx="1186.7" cy="1093.9" r="14.9"/><circle cx="1188" cy="1092.6" r="14.9"/><circle cx="1189.4" cy="1091.1" r="14.9"/><circle cx="1190.8" cy="1089.5" r="14.9"/><circle cx="1192.1" cy="1087.8" r="14.9"/><circle cx="1193.5" cy="1086.1" r="14.9"/><circle cx="1194.9" cy="1084.6" r="14.9"/><circle cx="1196.2" cy="1083.3" r="14.9"/><circle cx="1197.6" cy="1082.2" r="14.9"/><circle cx="1199" cy="1081.3" r="14.9"/><circle cx="1200.4" cy="1081" r="14.9"/><circle cx="1201.7" cy="1081.6" r="14.9"/><circle cx="1203.1" cy="1083.2" r="14.9"/><circle cx="1204.5" cy="1085.5" r="14.9"/><circle cx="1205.8" cy="1088.2" r="14.9"/><circle cx="1207.2" cy="1090.8" r="14.9"/><circle cx="1208.6" cy="1093.3" r="14.9"/><circle cx="1209.9" cy="1095.9" r="14.9"/><circle cx="1211.3" cy="1098.3" r="14.9"/><circle cx="1212.7" cy="1100.5" r="14.9"/><circle cx="1214" cy="1102.5" r="14.9"/><circle cx="1215.4" cy="1104" r="14.9"/><circle cx="1216.8" cy="1105.1" r="14.9"/><circle cx="1218.2" cy="1105.9" r="14.9"/><circle cx="1219.5" cy="1106.7" r="14.9"/><circle cx="1220.9" cy="1107.4" r="14.9"/><circle cx="1222.3" cy="1108" r="14.9"/><circle cx="1223.6" cy="1108.5" r="14.9"/><circle cx="1225" cy="1109.1" r="14.9"/><circle cx="1226.4" cy="1109.5" r="14.9"/><circle cx="1227.8" cy="1109.8" r="14.9"/><circle cx="1229.1" cy="1110.1" r="14.9"/><circle cx="1230.5" cy="1110.4" r="14.9"/><circle cx="1231.9" cy="1110.6" r="14.9"/><circle cx="1233.2" cy="1110.8" r="14.9"/><circle cx="1234.6" cy="1110.9" r="14.9"/><circle cx="1236" cy="1111.1" r="14.9"/><circle cx="1237.3" cy="1111.2" r="14.9"/><circle cx="1238.7" cy="1111.4" r="14.9"/><circle cx="1240.1" cy="1111.5" r="14.9"/><circle cx="1241.5" cy="1111.6" r="14.9"/><circle cx="1242.8" cy="1111.7" r="14.9"/><circle cx="1244.2" cy="1111.8" r="14.9"/><circle cx="1245.6" cy="1111.8" r="14.9"/><circle cx="1246.9" cy="1111.6" r="14.9"/><circle cx="1248.3" cy="1111.3" r="14.9"/><circle cx="1249.7" cy="1110.8" r="14.9"/><circle cx="1251" cy="1110.1" r="14.9"/><circle cx="1252.4" cy="1109.2" r="14.9"/><circle cx="1253.8" cy="1108.3" r="14.9"/><circle cx="1255.2" cy="1107.3" r="14.9"/><circle cx="1256.5" cy="1106.4" r="14.9"/><circle cx="1257.9" cy="1105.9" r="14.9"/><circle cx="1259.3" cy="1105.5" r="14.9"/><circle cx="1260.6" cy="1104.9" r="14.9"/><circle cx="1262" cy="1104.2" r="14.9"/><circle cx="1263.4" cy="1103.5" r="14.9"/><circle cx="1264.7" cy="1103.1" r="14.9"/><circle cx="1266.1" cy="1102.9" r="14.9"/><circle cx="1267.5" cy="1103.2" r="14.9"/><circle cx="1268.9" cy="1103.7" r="14.9"/><circle cx="1270.2" cy="1104.2" r="14.9"/><circle cx="1271.6" cy="1104.5" r="14.9"/><circle cx="1273" cy="1104.8" r="14.9"/><circle cx="1274.3" cy="1105.1" r="14.9"/><circle cx="1275.7" cy="1105.5" r="14.9"/><circle cx="1277.1" cy="1105.7" r="14.9"/><circle cx="1278.4" cy="1105.7" r="14.9"/><circle cx="1279.8" cy="1105" r="14.9"/><circle cx="1281.2" cy="1104.2" r="14.9"/><circle cx="1282.5" cy="1104.3" r="14.9"/><circle cx="1283.9" cy="1104.4" r="14.9"/><circle cx="1285.3" cy="1104" r="14.9"/><circle cx="1286.7" cy="1103.8" r="14.9"/><circle cx="1288" cy="1103.6" r="14.9"/><circle cx="1289.4" cy="1103.4" r="14.9"/><circle cx="1290.8" cy="1103.2" r="14.9"/><circle cx="1292.1" cy="1102.8" r="14.9"/><circle cx="1293.5" cy="1102.3" r="14.9"/><circle cx="1294.9" cy="1101.6" r="14.9"/><circle cx="1296.2" cy="1100.6" r="14.9"/><circle cx="1297.6" cy="1099.3" r="14.9"/><circle cx="1299" cy="1097.7" r="14.9"/><circle cx="1300.4" cy="1095.6" r="14.9"/><circle cx="1301.7" cy="1092.6" r="14.9"/><circle cx="1303.1" cy="1089.1" r="14.9"/><circle cx="1304.5" cy="1085.5" r="14.9"/><circle cx="1305.8" cy="1082.4" r="14.9"/><circle cx="1307.2" cy="1079.1" r="14.9"/><circle cx="1308.6" cy="1075.5" r="14.9"/><circle cx="1310" cy="1071.5" r="14.9"/><circle cx="1311.3" cy="1067" r="14.9"/><circle cx="1312.7" cy="1061.7" r="14.9"/><circle cx="1314.1" cy="1055.3" r="14.9"/><circle cx="1315.4" cy="1047.9" r="14.9"/><circle cx="1316.8" cy="1039.9" r="14.9"/><circle cx="1318.2" cy="1030.5" r="14.9"/><circle cx="1319.5" cy="1019.3" r="14.9"/><circle cx="1320.9" cy="1005.4" r="14.9"/><circle cx="1322.3" cy="992.1" r="14.9"/><circle cx="1323.7" cy="978.4" r="14.9"/><circle cx="1325" cy="964.1" r="14.9"/><circle cx="1326.4" cy="950.1" r="14.9"/><circle cx="1327.8" cy="938.1" r="14.9"/><circle cx="1329.1" cy="929.5" r="14.9"/><circle cx="1330.5" cy="925.7" r="14.9"/><circle cx="1331.9" cy="927.6" r="14.9"/><circle cx="1333.2" cy="932.1" r="14.9"/><circle cx="1334.6" cy="939.9" r="14.9"/><circle cx="1336" cy="951.2" r="14.9"/><circle cx="1337.4" cy="966.6" r="14.9"/><circle cx="1338.7" cy="984.3" r="14.9"/><circle cx="1340.1" cy="997.9" r="14.9"/><circle cx="1341.5" cy="1010.4" r="14.9"/><circle cx="1342.8" cy="1022" r="14.9"/><circle cx="1344.2" cy="1032" r="14.9"/><circle cx="1345.6" cy="1040.9" r="14.9"/><circle cx="1346.9" cy="1049" r="14.9"/><circle cx="1348.3" cy="1056.5" r="14.9"/><circle cx="1349.7" cy="1062.8" r="14.9"/><circle cx="1351" cy="1068.4" r="14.9"/><circle cx="1352.4" cy="1073.3" r="14.9"/><circle cx="1353.8" cy="1077.4" r="14.9"/><circle cx="1355.2" cy="1080.9" r="14.9"/><circle cx="1356.5" cy="1084.1" r="14.9"/><circle cx="1357.9" cy="1086.9" r="14.9"/><circle cx="1359.3" cy="1089.1" r="14.9"/><circle cx="1360.6" cy="1090.7" r="14.9"/><circle cx="1362" cy="1092.1" r="14.9"/><circle cx="1363.4" cy="1093.4" r="14.9"/><circle cx="1364.8" cy="1094.4" r="14.9"/><circle cx="1366.1" cy="1095.1" r="14.9"/><circle cx="1367.5" cy="1095.3" r="14.9"/><circle cx="1368.9" cy="1094.9" r="14.9"/><circle cx="1370.2" cy="1094" r="14.9"/><circle cx="1371.6" cy="1092.7" r="14.9"/><circle cx="1373" cy="1091.2" r="14.9"/><circle cx="1374.3" cy="1089.6" r="14.9"/><circle cx="1375.7" cy="1087.3" r="14.9"/><circle cx="1377.1" cy="1084.3" r="14.9"/><circle cx="1378.5" cy="1080.9" r="14.9"/><circle cx="1379.8" cy="1077.4" r="14.9"/><circle cx="1381.2" cy="1073.9" r="14.9"/><circle cx="1382.6" cy="1070.1" r="14.9"/><circle cx="1383.9" cy="1066" r="14.9"/><circle cx="1385.3" cy="1061.6" r="14.9"/><circle cx="1386.7" cy="1056.5" r="14.9"/><circle cx="1388" cy="1053.9" r="14.9"/><circle cx="1389.4" cy="1052.7" r="14.9"/><circle cx="1390.8" cy="1053.3" r="14.9"/><circle cx="1392.2" cy="1054.7" r="14.9"/><circle cx="1393.5" cy="1056.8" r="14.9"/><circle cx="1394.9" cy="1060" r="14.9"/><circle cx="1396.3" cy="1063.9" r="14.9"/><circle cx="1397.6" cy="1069.1" r="14.9"/><circle cx="1399" cy="1076.5" r="14.9"/><circle cx="1400.4" cy="1084" r="14.9"/><circle cx="1401.7" cy="1089.8" r="14.9"/><circle cx="1403.1" cy="1095.1" r="14.9"/><circle cx="1404.5" cy="1099.6" r="14.9"/><circle cx="1405.9" cy="1103" r="14.9"/><circle cx="1407.2" cy="1106" r="14.9"/><circle cx="1408.6" cy="1108.6" r="14.9"/><circle cx="1410" cy="1110.7" r="14.9"/><circle cx="1411.3" cy="1112.4" r="14.9"/><circle cx="1412.7" cy="1113.8" r="14.9"/><circle cx="1414.1" cy="1115.1" r="14.9"/><circle cx="1415.4" cy="1115.8" r="14.9"/><circle cx="1416.8" cy="1116.2" r="14.9"/><circle cx="1418.2" cy="1116.6" r="14.9"/><circle cx="1419.5" cy="1117.1" r="14.9"/><circle cx="1420.9" cy="1117.6" r="14.9"/><circle cx="1422.3" cy="1118" r="14.9"/><circle cx="1423.7" cy="1118.2" r="14.9"/><circle cx="1425" cy="1118.2" r="14.9"/><circle cx="1426.4" cy="1118.1" r="14.9"/><circle cx="1427.8" cy="1118" r="14.9"/><circle cx="1429.1" cy="1117.8" r="14.9"/><circle cx="1430.5" cy="1117.7" r="14.9"/><circle cx="1431.9" cy="1117.5" r="14.9"/><circle cx="1433.2" cy="1117.5" r="14.9"/><circle cx="1434.6" cy="1117.8" r="14.9"/><circle cx="1436" cy="1118.4" r="14.9"/><circle cx="1437.4" cy="1119.2" r="14.9"/><circle cx="1438.7" cy="1120" r="14.9"/><circle cx="1440.1" cy="1120.8" r="14.9"/><circle cx="1441.5" cy="1121.1" r="14.9"/><circle cx="1442.8" cy="1120.7" r="14.9"/><circle cx="1444.2" cy="1120.8" r="14.9"/><circle cx="1445.6" cy="1121.6" r="14.9"/><circle cx="1447" cy="1122.3" r="14.9"/><circle cx="1448.3" cy="1123" r="14.9"/><circle cx="1449.7" cy="1123.8" r="14.9"/><circle cx="1451.1" cy="1124.5" r="14.9"/><circle cx="1452.4" cy="1125.3" r="14.9"/><circle cx="1453.8" cy="1125.8" r="14.9"/><circle cx="1455.2" cy="1126" r="14.9"/><circle cx="1456.5" cy="1126" r="14.9"/><circle cx="1457.9" cy="1126" r="14.9"/><circle cx="1459.3" cy="1126" r="14.9"/><circle cx="1460.7" cy="1126" r="14.9"/><circle cx="1462" cy="1125.9" r="14.9"/><circle cx="1463.4" cy="1125.7" r="14.9"/><circle cx="1464.8" cy="1125.6" r="14.9"/><circle cx="1466.1" cy="1125.3" r="14.9"/><circle cx="1467.5" cy="1125.1" r="14.9"/><circle cx="1468.9" cy="1124.8" r="14.9"/><circle cx="1470.2" cy="1124.5" r="14.9"/><circle cx="1471.6" cy="1124.4" r="14.9"/><circle cx="1473" cy="1124.2" r="14.9"/><circle cx="1474.4" cy="1124" r="14.9"/><circle cx="1475.7" cy="1123.9" r="14.9"/><circle cx="1477.1" cy="1123.7" r="14.9"/><circle cx="1478.5" cy="1123.4" r="14.9"/><circle cx="1479.8" cy="1123.2" r="14.9"/><circle cx="1481.2" cy="1123" r="14.9"/><circle cx="1482.6" cy="1122.8" r="14.9"/><circle cx="1483.9" cy="1122.4" r="14.9"/><circle cx="1485.3" cy="1122" r="14.9"/><circle cx="1486.7" cy="1121.4" r="14.9"/><circle cx="1488" cy="1120.8" r="14.9"/><circle cx="1489.4" cy="1120.1" r="14.9"/><circle cx="1490.8" cy="1119.4" r="14.9"/><circle cx="1492.2" cy="1118.6" r="14.9"/><circle cx="1493.5" cy="1117.9" r="14.9"/><circle cx="1494.9" cy="1117.3" r="14.9"/><circle cx="1496.3" cy="1116.7" r="14.9"/><circle cx="1497.6" cy="1116" r="14.9"/><circle cx="1499" cy="1115.3" r="14.9"/><circle cx="1500.4" cy="1114.7" r="14.9"/><circle cx="1501.8" cy="1114.4" r="14.9"/><circle cx="1503.1" cy="1114.4" r="14.9"/><circle cx="1504.5" cy="1114.9" r="14.9"/><circle cx="1505.9" cy="1115.7" r="14.9"/><circle cx="1507.2" cy="1117" r="14.9"/><circle cx="1508.6" cy="1118.3" r="14.9"/><circle cx="1510" cy="1119.7" r="14.9"/><circle cx="1511.3" cy="1120.9" r="14.9"/><circle cx="1512.7" cy="1122" r="14.9"/><circle cx="1514.1" cy="1123" r="14.9"/><circle cx="1515.5" cy="1123.8" r="14.9"/><circle cx="1516.8" cy="1124.7" r="14.9"/><circle cx="1518.2" cy="1125.5" r="14.9"/><circle cx="1519.6" cy="1126.3" r="14.9"/><circle cx="1520.9" cy="1127.1" r="14.9"/><circle cx="1522.3" cy="1127.8" r="14.9"/><circle cx="1523.7" cy="1128.5" r="14.9"/><circle cx="1525" cy="1129.1" r="14.9"/><circle cx="1526.4" cy="1129.5" r="14.9"/><circle cx="1527.8" cy="1129.7" r="14.9"/><circle cx="1529.2" cy="1129.9" r="14.9"/><circle cx="1530.5" cy="1130.1" r="14.9"/><circle cx="1531.9" cy="1130.3" r="14.9"/><circle cx="1533.3" cy="1130.4" r="14.9"/><circle cx="1534.6" cy="1130.6" r="14.9"/><circle cx="1536" cy="1130.7" r="14.9"/><circle cx="1537.4" cy="1130.8" r="14.9"/><circle cx="1538.7" cy="1130.9" r="14.9"/><circle cx="1540.1" cy="1131" r="14.9"/><circle cx="1541.5" cy="1131" r="14.9"/><circle cx="1542.9" cy="1131.1" r="14.9"/><circle cx="1544.2" cy="1131.2" r="14.9"/><circle cx="1545.6" cy="1131.4" r="14.9"/><circle cx="1547" cy="1131.6" r="14.9"/><circle cx="1548.3" cy="1131.8" r="14.9"/><circle cx="1549.7" cy="1132" r="14.9"/><circle cx="1551.1" cy="1132.2" r="14.9"/><circle cx="1552.4" cy="1132.3" r="14.9"/><circle cx="1553.8" cy="1132.5" r="14.9"/><circle cx="1555.2" cy="1132.7" r="14.9"/><circle cx="1556.5" cy="1132.8" r="14.9"/><circle cx="1557.9" cy="1133" r="14.9"/><circle cx="1559.3" cy="1133.1" r="14.9"/><circle cx="1560.7" cy="1133.3" r="14.9"/><circle cx="1562" cy="1133.4" r="14.9"/><circle cx="1563.4" cy="1133.6" r="14.9"/><circle cx="1564.8" cy="1133.7" r="14.9"/><circle cx="1566.1" cy="1133.9" r="14.9"/><circle cx="1567.5" cy="1134" r="14.9"/><circle cx="1568.9" cy="1134.2" r="14.9"/><circle cx="1570.2" cy="1134.3" r="14.9"/><circle cx="1571.6" cy="1134.4" r="14.9"/><circle cx="1573" cy="1134.5" r="14.9"/><circle cx="1574.4" cy="1134.6" r="14.9"/><circle cx="1575.7" cy="1134.6" r="14.9"/><circle cx="1577.1" cy="1134.6" r="14.9"/><circle cx="1578.5" cy="1134.6" r="14.9"/><circle cx="1579.8" cy="1134.6" r="14.9"/><circle cx="1581.2" cy="1134.5" r="14.9"/><circle cx="1582.6" cy="1134.4" r="14.9"/><circle cx="1584" cy="1134.2" r="14.9"/><circle cx="1585.3" cy="1133.9" r="14.9"/><circle cx="1586.7" cy="1133.5" r="14.9"/><circle cx="1588.1" cy="1133.1" r="14.9"/><circle cx="1589.4" cy="1132.7" r="14.9"/><circle cx="1590.8" cy="1132.4" r="14.9"/><circle cx="1592.2" cy="1132.2" r="14.9"/><circle cx="1593.5" cy="1132.1" r="14.9"/><circle cx="1594.9" cy="1131.7" r="14.9"/><circle cx="1596.3" cy="1131.1" r="14.9"/><circle cx="1597.7" cy="1130.4" r="14.9"/><circle cx="1599" cy="1129.6" r="14.9"/><circle cx="1600.4" cy="1128.9" r="14.9"/><circle cx="1601.8" cy="1128.3" r="14.9"/><circle cx="1603.1" cy="1127.8" r="14.9"/><circle cx="1604.5" cy="1127.4" r="14.9"/><circle cx="1605.9" cy="1127" r="14.9"/><circle cx="1607.2" cy="1126.5" r="14.9"/><circle cx="1608.6" cy="1125.9" r="14.9"/><circle cx="1610" cy="1125.3" r="14.9"/><circle cx="1611.4" cy="1125.3" r="14.9"/><circle cx="1612.7" cy="1125.7" r="14.9"/><circle cx="1614.1" cy="1126.4" r="14.9"/><circle cx="1615.5" cy="1127.2" r="14.9"/><circle cx="1616.8" cy="1127.8" r="14.9"/><circle cx="1618.2" cy="1128.2" r="14.9"/><circle cx="1619.6" cy="1128.4" r="14.9"/><circle cx="1620.9" cy="1128.6" r="14.9"/><circle cx="1622.3" cy="1129" r="14.9"/><circle cx="1623.7" cy="1129.3" r="14.9"/><circle cx="1625" cy="1129.6" r="14.9"/><circle cx="1626.4" cy="1129.9" r="14.9"/><circle cx="1627.8" cy="1130" r="14.9"/><circle cx="1629.2" cy="1130.1" r="14.9"/><circle cx="1630.5" cy="1130.1" r="14.9"/><circle cx="1631.9" cy="1130.2" r="14.9"/><circle cx="1633.3" cy="1130.2" r="14.9"/><circle cx="1634.6" cy="1130.3" r="14.9"/><circle cx="1636" cy="1130.3" r="14.9"/><circle cx="1637.4" cy="1130.3" r="14.9"/><circle cx="1638.8" cy="1130.2" r="14.9"/><circle cx="1640.1" cy="1130.2" r="14.9"/><circle cx="1641.5" cy="1130.1" r="14.9"/><circle cx="1642.9" cy="1130" r="14.9"/><circle cx="1644.2" cy="1129.7" r="14.9"/><circle cx="1645.6" cy="1129.3" r="14.9"/><circle cx="1647" cy="1129" r="14.9"/><circle cx="1648.3" cy="1128.7" r="14.9"/><circle cx="1649.7" cy="1128.3" r="14.9"/><circle cx="1651.1" cy="1127.8" r="14.9"/><circle cx="1652.5" cy="1127.4" r="14.9"/><circle cx="1653.8" cy="1126.9" r="14.9"/><circle cx="1655.2" cy="1126.6" r="14.9"/><circle cx="1656.6" cy="1126.4" r="14.9"/><circle cx="1657.9" cy="1126.2" r="14.9"/><circle cx="1659.3" cy="1126.3" r="14.9"/><circle cx="1660.7" cy="1126.6" r="14.9"/><circle cx="1662" cy="1127.3" r="14.9"/><circle cx="1663.4" cy="1128.1" r="14.9"/><circle cx="1664.8" cy="1128.7" r="14.9"/><circle cx="1666.2" cy="1129.1" r="14.9"/><circle cx="1667.5" cy="1129.8" r="14.9"/><circle cx="1668.9" cy="1130.8" r="14.9"/><circle cx="1670.3" cy="1131.5" r="14.9"/><circle cx="1671.6" cy="1132.1" r="14.9"/><circle cx="1673" cy="1132.6" r="14.9"/><circle cx="1674.4" cy="1133.1" r="14.9"/><circle cx="1675.7" cy="1133.5" r="14.9"/><circle cx="1677.1" cy="1133.9" r="14.9"/><circle cx="1678.5" cy="1134.3" r="14.9"/><circle cx="1679.9" cy="1134.6" r="14.9"/><circle cx="1681.2" cy="1134.8" r="14.9"/><circle cx="1682.6" cy="1134.9" r="14.9"/><circle cx="1684" cy="1135" r="14.9"/><circle cx="1685.3" cy="1135" r="14.9"/><circle cx="1686.7" cy="1134.9" r="14.9"/><circle cx="1688.1" cy="1134.8" r="14.9"/><circle cx="1689.4" cy="1134.6" r="14.9"/><circle cx="1690.8" cy="1134.4" r="14.9"/><circle cx="1692.2" cy="1134.2" r="14.9"/><circle cx="1693.6" cy="1134" r="14.9"/><circle cx="1694.9" cy="1133.6" r="14.9"/><circle cx="1696.3" cy="1132.9" r="14.9"/><circle cx="1697.7" cy="1132.1" r="14.9"/><circle cx="1699" cy="1131.2" r="14.9"/><circle cx="1700.4" cy="1130.3" r="14.9"/><circle cx="1701.8" cy="1129.5" r="14.9"/><circle cx="1703.1" cy="1128.8" r="14.9"/><circle cx="1704.5" cy="1128.3" r="14.9"/><circle cx="1705.9" cy="1127.8" r="14.9"/><circle cx="1707.2" cy="1127.6" r="14.9"/><circle cx="1708.6" cy="1127.4" r="14.9"/><circle cx="1710" cy="1127.3" r="14.9"/><circle cx="1711.4" cy="1127.2" r="14.9"/><circle cx="1712.7" cy="1127.2" r="14.9"/><circle cx="1714.1" cy="1127.3" r="14.9"/><circle cx="1715.5" cy="1127.3" r="14.9"/><circle cx="1716.8" cy="1127.3" r="14.9"/><circle cx="1718.2" cy="1127.4" r="14.9"/><circle cx="1719.6" cy="1127.5" r="14.9"/><circle cx="1721" cy="1127.5" r="14.9"/><circle cx="1722.3" cy="1127.5" r="14.9"/><circle cx="1723.7" cy="1127.3" r="14.9"/><circle cx="1725.1" cy="1127" r="14.9"/><circle cx="1726.4" cy="1126.5" r="14.9"/><circle cx="1727.8" cy="1125.9" r="14.9"/><circle cx="1729.2" cy="1125.3" r="14.9"/><circle cx="1730.5" cy="1124.5" r="14.9"/><circle cx="1731.9" cy="1123.5" r="14.9"/><circle cx="1733.3" cy="1122.2" r="14.9"/><circle cx="1734.7" cy="1120.7" r="14.9"/><circle cx="1736" cy="1119" r="14.9"/><circle cx="1737.4" cy="1117.2" r="14.9"/><circle cx="1738.8" cy="1115" r="14.9"/><circle cx="1740.1" cy="1112.9" r="14.9"/><circle cx="1741.5" cy="1111.2" r="14.9"/><circle cx="1742.9" cy="1109.1" r="14.9"/><circle cx="1744.2" cy="1106.4" r="14.9"/><circle cx="1745.6" cy="1103.5" r="14.9"/><circle cx="1747" cy="1100.4" r="14.9"/><circle cx="1748.4" cy="1097.3" r="14.9"/><circle cx="1749.7" cy="1094.5" r="14.9"/><circle cx="1751.1" cy="1092.3" r="14.9"/><circle cx="1752.5" cy="1090.6" r="14.9"/><circle cx="1753.8" cy="1089.4" r="14.9"/><circle cx="1755.2" cy="1088.6" r="14.9"/><circle cx="1756.6" cy="1088.8" r="14.9"/><circle cx="1757.9" cy="1089.9" r="14.9"/><circle cx="1759.3" cy="1091.7" r="14.9"/><circle cx="1760.7" cy="1093.6" r="14.9"/><circle cx="1762.1" cy="1095.6" r="14.9"/><circle cx="1763.4" cy="1098" r="14.9"/><circle cx="1764.8" cy="1100.7" r="14.9"/><circle cx="1766.2" cy="1103.2" r="14.9"/><circle cx="1767.5" cy="1105.4" r="14.9"/><circle cx="1768.9" cy="1107.3" r="14.9"/><circle cx="1770.3" cy="1109" r="14.9"/><circle cx="1771.6" cy="1110.4" r="14.9"/><circle cx="1773" cy="1111.4" r="14.9"/><circle cx="1774.4" cy="1112.3" r="14.9"/><circle cx="1775.8" cy="1113.2" r="14.9"/><circle cx="1777.1" cy="1114" r="14.9"/><circle cx="1778.5" cy="1114.5" r="14.9"/><circle cx="1779.9" cy="1114.7" r="14.9"/><circle cx="1781.2" cy="1114.5" r="14.9"/><circle cx="1782.6" cy="1114" r="14.9"/><circle cx="1784" cy="1113.4" r="14.9"/><circle cx="1785.3" cy="1112.6" r="14.9"/><circle cx="1786.7" cy="1111.6" r="14.9"/><circle cx="1788.1" cy="1110.3" r="14.9"/><circle cx="1789.5" cy="1108.5" r="14.9"/><circle cx="1790.8" cy="1106.4" r="14.9"/><circle cx="1792.2" cy="1104.2" r="14.9"/><circle cx="1793.6" cy="1102.1" r="14.9"/><circle cx="1794.9" cy="1100.2" r="14.9"/><circle cx="1796.3" cy="1098.4" r="14.9"/><circle cx="1797.7" cy="1096.6" r="14.9"/><circle cx="1799" cy="1095" r="14.9"/><circle cx="1800.4" cy="1093.8" r="14.9"/><circle cx="1801.8" cy="1093.2" r="14.9"/><circle cx="1803.2" cy="1093.2" r="14.9"/><circle cx="1804.5" cy="1093.7" r="14.9"/><circle cx="1805.9" cy="1094.6" r="14.9"/><circle cx="1807.3" cy="1095.7" r="14.9"/><circle cx="1808.6" cy="1097.1" r="14.9"/><circle cx="1810" cy="1098.9" r="14.9"/><circle cx="1811.4" cy="1101.2" r="14.9"/><circle cx="1812.7" cy="1103.7" r="14.9"/><circle cx="1814.1" cy="1106.2" r="14.9"/><circle cx="1815.5" cy="1108.6" r="14.9"/><circle cx="1816.9" cy="1110.8" r="14.9"/><circle cx="1818.2" cy="1112.7" r="14.9"/><circle cx="1819.6" cy="1114.5" r="14.9"/><circle cx="1821" cy="1116.2" r="14.9"/><circle cx="1822.3" cy="1117.7" r="14.9"/><circle cx="1823.7" cy="1118.9" r="14.9"/><circle cx="1825.1" cy="1120" r="14.9"/><circle cx="1826.4" cy="1120.8" r="14.9"/><circle cx="1827.8" cy="1121.2" r="14.9"/><circle cx="1829.2" cy="1121.3" r="14.9"/><circle cx="1830.6" cy="1121.3" r="14.9"/><circle cx="1831.9" cy="1121.3" r="14.9"/><circle cx="1833.3" cy="1121.2" r="14.9"/><circle cx="1834.7" cy="1121.2" r="14.9"/><circle cx="1836" cy="1121.4" r="14.9"/><circle cx="1837.4" cy="1121.5" r="14.9"/><circle cx="1838.8" cy="1121.7" r="14.9"/><circle cx="1840.1" cy="1121.8" r="14.9"/><circle cx="1841.5" cy="1122" r="14.9"/><circle cx="1842.9" cy="1122.2" r="14.9"/><circle cx="1844.2" cy="1122.5" r="14.9"/><circle cx="1845.6" cy="1122.9" r="14.9"/><circle cx="1847" cy="1123.4" r="14.9"/><circle cx="1848.4" cy="1123.9" r="14.9"/><circle cx="1849.7" cy="1124.5" r="14.9"/><circle cx="1851.1" cy="1125.2" r="14.9"/><circle cx="1852.5" cy="1126" r="14.9"/><circle cx="1853.8" cy="1126.7" r="14.9"/><circle cx="1855.2" cy="1127.4" r="14.9"/><circle cx="1856.6" cy="1128.1" r="14.9"/><circle cx="1858" cy="1128.8" r="14.9"/><circle cx="1859.3" cy="1129.5" r="14.9"/><circle cx="1860.7" cy="1130.3" r="14.9"/><circle cx="1862.1" cy="1131.1" r="14.9"/><circle cx="1863.4" cy="1132" r="14.9"/><circle cx="1864.8" cy="1133.4" r="14.9"/><circle cx="1866.2" cy="1135.3" r="14.9"/><circle cx="1867.5" cy="1136.8" r="14.9"/><circle cx="1868.9" cy="1137.3" r="14.9"/><circle cx="1870.3" cy="1137.4" r="14.9"/><circle cx="1871.7" cy="1137.6" r="14.9"/><circle cx="1873" cy="1137.7" r="14.9"/><circle cx="1874.4" cy="1137.9" r="14.9"/><circle cx="1875.8" cy="1138" r="14.9"/><circle cx="1877.1" cy="1138.1" r="14.9"/><circle cx="1878.5" cy="1138.1" r="14.9"/><circle cx="1879.9" cy="1138.2" r="14.9"/><circle cx="1881.2" cy="1138.3" r="14.9"/><circle cx="1882.6" cy="1138.3" r="14.9"/><circle cx="1884" cy="1138.3" r="14.9"/><circle cx="1885.4" cy="1138.4" r="14.9"/><circle cx="1886.7" cy="1138.6" r="14.9"/><circle cx="1888.1" cy="1138.8" r="14.9"/><circle cx="1889.5" cy="1139" r="14.9"/><circle cx="1890.8" cy="1139.3" r="14.9"/><circle cx="1892.2" cy="1139.5" r="14.9"/><circle cx="1893.6" cy="1139.7" r="14.9"/><circle cx="1894.9" cy="1139.9" r="14.9"/><circle cx="1896.3" cy="1140.2" r="14.9"/><circle cx="1897.7" cy="1140.4" r="14.9"/><circle cx="1899.1" cy="1140.6" r="14.9"/><circle cx="1900.4" cy="1140.8" r="14.9"/><circle cx="1901.8" cy="1141.1" r="14.9"/><circle cx="1903.2" cy="1141.3" r="14.9"/><circle cx="1904.5" cy="1141.6" r="14.9"/><circle cx="1905.9" cy="1141.8" r="14.9"/><circle cx="1907.3" cy="1142.1" r="14.9"/><circle cx="1908.6" cy="1142.4" r="14.9"/><circle cx="1910" cy="1142.7" r="14.9"/><circle cx="1911.4" cy="1143" r="14.9"/><circle cx="1912.8" cy="1143.3" r="14.9"/><circle cx="1914.1" cy="1143.6" r="14.9"/><circle cx="1915.5" cy="1144" r="14.9"/><circle cx="1916.9" cy="1144.7" r="14.9"/><circle cx="1918.2" cy="1145.8" r="14.9"/><circle cx="1919.6" cy="1146.9" r="14.9"/><circle cx="1921" cy="1147" r="14.9"/><circle cx="1922.3" cy="1146" r="14.9"/><circle cx="1923.7" cy="1144.8" r="14.9"/><circle cx="1925.1" cy="1144.1" r="14.9"/><circle cx="1926.5" cy="1143.8" r="14.9"/><circle cx="1927.8" cy="1143.6" r="14.9"/><circle cx="1929.2" cy="1143.8" r="14.9"/><circle cx="1930.6" cy="1144.9" r="14.9"/><circle cx="1931.9" cy="1146.4" r="14.9"/><circle cx="1933.3" cy="1147.6" r="14.9"/></g>
<path d="M115.8 1374.6 L116.5 1374.1 L117.2 1373.7 L117.9 1373.4 L118.1 1373.4 L118.6 1373.4 L119.3 1373.5 L120 1373.6 L120.7 1373.8 L121.4 1374 L122.1 1374.1 L122.8 1374.3 L123.5 1374.4 L124.2 1374.5 L124.9 1374.6 L125.1 1374.6 L125.6 1374.6 L126.3 1374.6 L127 1374.5 L127.7 1374.5 L128.4 1374.4 L129.1 1374.4 L129.8 1374.3 L130.5 1374.2 L131.2 1374.1 L131.9 1374 L132.6 1373.9 L133.3 1373.7 L134 1373.6 L134.7 1373.5 L135.4 1373.4 L136.1 1373.2 L136.8 1373.1 L137.5 1373 L138.2 1372.8 L138.9 1372.7 L139.6 1372.6 L140.3 1372.4 L141 1372.3 L141.7 1372.2 L142.4 1372.1 L143.1 1372 L143.8 1371.9 L144.5 1371.8 L144.7 1371.8 L145.2 1371.7 L145.9 1371.7 L146.6 1371.6 L147.3 1371.5 L148 1371.5 L148.7 1371.4 L149.4 1371.3 L150.1 1371.2 L150.8 1371.2 L151.5 1371.1 L152.2 1371 L152.9 1371 L153.6 1370.9 L154.3 1370.8 L155 1370.8 L155.7 1370.7 L156.4 1370.7 L157.1 1370.6 L157.8 1370.5 L158.5 1370.5 L159.2 1370.4 L159.9 1370.4 L160.6 1370.3 L161.3 1370.3 L162 1370.2 L162.7 1370.2 L163.5 1370.1 L164.2 1370.1 L164.9 1370 L165.6 1370 L166.3 1370 L167 1369.9 L167.7 1369.9 L167.9 1369.9 L168.4 1369.9 L169.1 1369.9 L169.8 1369.8 L170.5 1369.8 L171.2 1369.8 L171.9 1369.7 L172.6 1369.7 L173.3 1369.7 L174 1369.7 L174.7 1369.6 L175.4 1369.6 L176.1 1369.6 L176.8 1369.6 L177.5 1369.5 L178.2 1369.5 L178.9 1369.5 L179.6 1369.5 L180.3 1369.4 L181 1369.4 L181.7 1369.4 L182.4 1369.4 L183.1 1369.3 L183.8 1369.3 L184.5 1369.3 L185.2 1369.3 L185.9 1369.3 L186.6 1369.2 L187.3 1369.2 L188 1369.2 L188.7 1369.2 L189.4 1369.2 L190.1 1369.1 L190.8 1369.1 L191.5 1369.1 L192.2 1369.1 L192.9 1369.1 L193.6 1369.1 L194.3 1369.1 L195 1369.1 L195.7 1369 L196.4 1369 L197.1 1369 L197.8 1369 L198.5 1369 L199.2 1369 L199.9 1369 L200.6 1369 L201.3 1369 L202 1369 L202.6 1369 L202.7 1369 L203.4 1369 L204.1 1369 L204.8 1369 L205.5 1369 L206.2 1369 L206.9 1369 L207.6 1369 L208.3 1369 L209 1369.1 L209.7 1369.1 L210.4 1369.1 L211.1 1369.1 L211.8 1369.1 L212.5 1369.1 L213.2 1369.1 L213.9 1369.2 L214.6 1369.2 L215.3 1369.2 L216 1369.2 L216.7 1369.2 L217.4 1369.3 L218.1 1369.3 L218.8 1369.3 L219.5 1369.3 L220.2 1369.4 L220.9 1369.4 L221.6 1369.4 L222.3 1369.4 L223 1369.5 L223.7 1369.5 L224.4 1369.5 L225.1 1369.6 L225.8 1369.6 L226.5 1369.6 L227.2 1369.7 L227.9 1369.7 L228.6 1369.7 L229.3 1369.7 L230 1369.8 L230.7 1369.8 L231.4 1369.8 L232.1 1369.9 L232.8 1369.9 L233.5 1369.9 L234.2 1370 L234.9 1370 L235.6 1370 L236.3 1370.1 L237 1370.1 L237.7 1370.1 L238.4 1370.2 L239.1 1370.2 L239.8 1370.2 L240.5 1370.3 L241.2 1370.3 L241.9 1370.3 L242.6 1370.3 L243.3 1370.4 L244 1370.4 L244.7 1370.4 L245.4 1370.5 L246.1 1370.5 L246.8 1370.5 L247.5 1370.5 L248.2 1370.6 L248.9 1370.6 L249 1370.6 L249.6 1370.6 L250.3 1370.6 L251 1370.7 L251.7 1370.7 L252.4 1370.7 L253.1 1370.8 L253.8 1370.8 L254.5 1370.8 L255.2 1370.9 L255.9 1370.9 L256.6 1370.9 L257.4 1370.9 L258.1 1371 L258.8 1371 L259.5 1371 L260.2 1371.1 L260.9 1371.1 L261.6 1371.1 L262.3 1371.2 L263 1371.2 L263.7 1371.2 L264.4 1371.3 L265.1 1371.3 L265.8 1371.3 L266.5 1371.4 L267.2 1371.4 L267.9 1371.5 L268.6 1371.5 L269.3 1371.5 L270 1371.6 L270.7 1371.6 L271.4 1371.6 L272.1 1371.7 L272.8 1371.7 L273.5 1371.7 L274.2 1371.7 L274.9 1371.8 L275.6 1371.8 L276.3 1371.8 L277 1371.9 L277.7 1371.9 L278.4 1371.9 L279.1 1372 L279.8 1372 L280.5 1372 L281.2 1372 L281.9 1372.1 L282.6 1372.1 L283.3 1372.1 L284 1372.1 L284.7 1372.1 L285.4 1372.2 L286.1 1372.2 L286.8 1372.2 L287.5 1372.2 L288.2 1372.2 L288.9 1372.2 L289.6 1372.3 L290.3 1372.3 L291 1372.3 L291.7 1372.3 L292.4 1372.3 L293.1 1372.3 L293.8 1372.3 L294.5 1372.3 L295.2 1372.3 L295.3 1372.3 L295.9 1372.3 L296.6 1372.3 L297.3 1372.3 L298 1372.3 L298.7 1372.3 L299.4 1372.3 L300.1 1372.3 L300.8 1372.3 L301.5 1372.3 L302.2 1372.3 L302.9 1372.3 L303.6 1372.3 L304.3 1372.3 L305 1372.3 L305.7 1372.3 L306.4 1372.3 L307.1 1372.3 L307.8 1372.3 L308.5 1372.3 L309.2 1372.3 L309.9 1372.3 L310.6 1372.3 L311.3 1372.3 L312 1372.3 L312.7 1372.3 L313.4 1372.3 L314.1 1372.3 L314.8 1372.3 L315.5 1372.3 L316.1 1372.3 L316.2 1372.3 L316.9 1372.3 L317.6 1372.2 L318.3 1372.1 L319 1372 L319.7 1371.9 L320.4 1371.7 L321.1 1371.5 L321.8 1371.3 L322.5 1371 L323.2 1370.8 L323.9 1370.5 L324.6 1370.2 L325.3 1370 L326 1369.7 L326.7 1369.4 L327.4 1369.1 L327.7 1369 L328.1 1368.8 L328.8 1368.4 L329.5 1367.8 L330.2 1367.3 L330.9 1366.7 L331.6 1366.2 L332.3 1365.8 L333 1365.6 L333.5 1365.5 L333.7 1365.5 L334.4 1365.7 L335.1 1366.1 L335.8 1366.7 L336.5 1367.3 L337.2 1368 L337.9 1368.6 L338.6 1369.1 L339.3 1369.5 L339.3 1369.5 L340 1369.8 L340.7 1370.2 L341.4 1370.5 L342.1 1370.8 L342.8 1371.1 L343.5 1371.3 L344.2 1371.5 L344.9 1371.7 L345.6 1371.8 L346.2 1371.8 L346.3 1371.8 L347 1371.8 L347.7 1371.7 L348.4 1371.7 L349.1 1371.6 L349.8 1371.5 L350.5 1371.4 L351.3 1371.3 L352 1371.2 L352.7 1371.1 L353.4 1370.9 L354.1 1370.8 L354.8 1370.7 L355.5 1370.6 L356.2 1370.5 L356.9 1370.4 L357.6 1370.3 L358.3 1370.3 L359 1370.2 L359.7 1370.2 L359.7 1370.2 L360.4 1373 L360.8 1374.6 L361.1 1374.7 L361.8 1374.8 L362.5 1374.9 L363.2 1374.9 L363.9 1375 L364.6 1375 L365.3 1375 L366 1375.1 L366.7 1375.1 L367.4 1375.1 L368.1 1375.2 L368.8 1375.2 L369.4 1375.3 L369.5 1375.3 L370.2 1375.4 L370.9 1375.6 L371.6 1375.9 L372.3 1376.2 L373 1376.5 L373.7 1376.9 L374.4 1377.3 L375.1 1377.8 L375.8 1378.3 L376.3 1378.7 L376.5 1378.8 L377.2 1379.5 L377.9 1380.4 L378.6 1381.4 L379.3 1382.6 L380 1383.8 L380.7 1385.2 L381.4 1386.5 L382.1 1388 L382.1 1388 L382.8 1389.7 L383.5 1392 L384.2 1394.6 L384.9 1397.1 L385.6 1399.3 L386.3 1401 L387 1401.8 L387.2 1401.9 L387.7 1401.4 L388.4 1399.4 L389.1 1396.1 L389.8 1392.2 L390.5 1388.1 L391.2 1384.4 L391.4 1383.4 L391.9 1381 L392.6 1377.3 L393.3 1373.6 L394 1370.3 L394.7 1367.7 L394.9 1367.2 L395.4 1366 L396.1 1364.4 L396.8 1362.9 L397.5 1361.6 L398.2 1360.4 L398.9 1359.5 L399.6 1358.8 L400.3 1358.5 L400.7 1358.4 L401 1358.4 L401.7 1358.6 L402.4 1358.8 L403.1 1359.2 L403.8 1359.7 L404.5 1360.2 L405.2 1360.8 L405.9 1361.4 L406.6 1362 L407.3 1362.6 L408 1363.2 L408.7 1363.6 L408.8 1363.7 L409.4 1364.1 L410.1 1364.5 L410.8 1364.9 L411.5 1365.4 L412.2 1365.8 L412.9 1366.3 L413.6 1366.7 L414.3 1367.1 L415 1367.5 L415.7 1367.8 L416.4 1368.2 L417.1 1368.5 L417.8 1368.7 L418 1368.8 L418.5 1369 L419.2 1369.2 L419.9 1369.5 L420.6 1369.7 L421.3 1369.9 L422 1370.1 L422.7 1370.2 L423.4 1370.2 L423.4 1370.2 L424.1 1367.5 L424.5 1366.5 L424.8 1366.5 L425.5 1366.6 L426.2 1366.7 L426.9 1367 L427.6 1367.2 L428.3 1367.5 L429 1367.8 L429.7 1368.2 L430.4 1368.5 L431.1 1368.8 L431.8 1369.1 L432.5 1369.4 L433.2 1369.7 L433.9 1369.8 L434.2 1369.9 L434.6 1370 L435.3 1370.1 L436 1370.2 L436.7 1370.4 L437.4 1370.5 L438.1 1370.6 L438.8 1370.7 L439.5 1370.8 L440.2 1370.9 L440.9 1371 L441.6 1371.1 L442.3 1371.1 L443 1371.2 L443.7 1371.2 L444.4 1371.3 L445.2 1371.3 L445.8 1371.3 L445.9 1371.3 L446.6 1371.3 L447.3 1371.3 L448 1371.3 L448.7 1371.3 L449.4 1371.3 L450.1 1371.3 L450.8 1371.3 L451.5 1371.3 L452.2 1371.3 L452.9 1371.3 L453.6 1371.3 L454.3 1371.3 L455 1371.3 L455.7 1371.3 L456.4 1371.3 L457.1 1371.3 L457.8 1371.3 L458.5 1371.3 L459.2 1371.3 L459.9 1371.3 L460.6 1371.3 L461.3 1371.3 L462 1371.3 L462.7 1371.3 L463.4 1371.3 L464.1 1371.3 L464.8 1371.3 L465.5 1371.3 L466.2 1371.3 L466.9 1371.3 L467.6 1371.3 L468.3 1371.3 L469 1371.3 L469.7 1371.3 L470.4 1371.3 L471.1 1371.3 L471.8 1371.3 L472.5 1371.3 L473.2 1371.3 L473.6 1371.3 L473.9 1371.3 L474.6 1371.3 L475.3 1371.3 L476 1371.4 L476.7 1371.5 L477.4 1371.5 L478.1 1371.6 L478.8 1371.7 L479.5 1371.8 L480.2 1371.9 L480.9 1372 L481.6 1372.1 L482.3 1372.2 L483 1372.3 L483.7 1372.5 L484.4 1372.6 L485.1 1372.7 L485.8 1372.8 L486.5 1372.9 L487.2 1373 L487.9 1373 L488.6 1373.1 L489.3 1373.2 L489.8 1373.2 L490 1373.2 L490.7 1373.3 L491.4 1373.3 L492.1 1373.3 L492.8 1373.4 L493.5 1373.4 L494.2 1373.5 L494.9 1373.5 L495.6 1373.5 L496.3 1373.5 L497 1373.6 L497.7 1373.6 L498.4 1373.6 L499.1 1373.6 L499.1 1373.6 L499.8 1373.5 L500.5 1373.4 L501.2 1373.2 L501.9 1372.9 L502.6 1372.5 L503.3 1372.1 L504 1371.7 L504.7 1371.3 L505.4 1370.9 L506 1370.6 L506.1 1370.5 L506.8 1370.1 L507.5 1369.6 L508.2 1369 L508.9 1368.4 L509.6 1367.8 L510.3 1367.3 L511 1366.9 L511.7 1366.6 L512.4 1366.5 L512.5 1366.5 L513.1 1366.6 L513.8 1367 L514.5 1367.5 L515.2 1368.2 L515.9 1368.9 L516.6 1369.7 L517.3 1370.4 L517.6 1370.6 L518 1371 L518.7 1371.7 L519.4 1372.5 L520.1 1373.2 L520.8 1373.8 L521.5 1374.1 L521.8 1374.1 L522.2 1374 L522.9 1373.7 L523.6 1373.3 L524.3 1372.8 L525 1372.4 L525.7 1372.3 L525.7 1372.3 L526.4 1373.8 L526.9 1374.6 L527.1 1374.6 L527.8 1374.5 L528.5 1374.2 L529.2 1373.9 L529.9 1373.4 L530.6 1372.9 L531.3 1372.3 L532 1371.7 L532.7 1371.1 L533.4 1370.4 L534.1 1369.8 L534.8 1369.2 L535.5 1368.7 L536.1 1368.3 L536.2 1368.2 L536.9 1367.8 L537.6 1367.4 L538.3 1367.1 L539.1 1366.7 L539.8 1366.2 L540 1366 L540.5 1365.6 L541.2 1364.9 L541.9 1364 L542.6 1363 L543.3 1361.9 L544 1360.8 L544.7 1359.7 L545.4 1358.5 L546.1 1357.4 L546.5 1356.7 L546.8 1356.3 L547.5 1354.9 L548.2 1353.4 L548.9 1351.9 L549.6 1350.4 L550.3 1349.1 L551 1348.1 L551.7 1347.6 L552 1347.5 L552.4 1347.6 L553.1 1348.6 L553.8 1350.2 L554.5 1352.4 L555.2 1354.8 L555.7 1356.7 L555.9 1357.4 L556.6 1361.1 L557.3 1366 L558 1371.3 L558.7 1376.3 L559.4 1380.2 L559.5 1380.8 L560.1 1383.2 L560.8 1386.1 L561.5 1388.7 L562.2 1390.7 L562.9 1391.8 L563.2 1391.9 L563.6 1391.8 L564.3 1391.4 L565 1390.7 L565.7 1389.8 L566.4 1388.7 L567.1 1387.6 L567.8 1386.4 L567.8 1386.4 L568.5 1385.1 L569.2 1383.3 L569.9 1381.4 L570.6 1379.4 L571.3 1377.5 L572 1376 L572.4 1375.3 L572.7 1374.9 L573.4 1373.9 L574.1 1372.9 L574.8 1372.2 L575.5 1371.7 L576.1 1371.5 L576.2 1371.5 L576.9 1371.7 L577.6 1372.2 L578.3 1373 L579 1373.8 L579.7 1374.7 L580.4 1375.6 L581.1 1376.3 L581.8 1376.9 L582.5 1377.1 L582.6 1377.1 L583.2 1376.9 L583.9 1376.4 L584.6 1375.6 L585.3 1374.8 L586 1374 L586.7 1373.5 L587.2 1373.4 L587.4 1373.4 L588.1 1373.7 L588.8 1374.3 L589.5 1375.1 L590.2 1376 L590.9 1376.8 L591.6 1377.5 L592.3 1377.9 L592.8 1378 L593 1378 L593.7 1377.5 L594.4 1376.5 L595.1 1375.2 L595.8 1373.6 L596.5 1372.1 L597.2 1370.6 L597.9 1369.3 L598.6 1368.5 L599.3 1368.2 L599.3 1368.2 L600 1368.4 L600.7 1368.7 L601.4 1369.3 L602.1 1369.8 L602.8 1370.3 L603.5 1370.6 L603.9 1370.6 L604.2 1370.5 L604.9 1370 L605.6 1369 L606.3 1367.7 L607 1366.3 L607.7 1364.8 L608.4 1363.4 L609.1 1362.3 L609.8 1361.6 L610.4 1361.4 L610.5 1361.4 L611.2 1361.8 L611.9 1362.6 L612.6 1363.8 L613.3 1365.2 L614 1366.8 L614.7 1368.3 L615.4 1369.7 L616 1370.6 L616.1 1370.8 L616.8 1371.9 L617.5 1373.2 L618.2 1374.5 L618.9 1375.7 L619.6 1376.8 L620.3 1377.8 L621 1378.6 L621.7 1379.1 L622.4 1379.3 L622.4 1379.3 L623.1 1379.2 L623.8 1378.9 L624.5 1378.5 L625.2 1378 L625.9 1377.3 L626.2 1377.1 L626.6 1376.3 L627.3 1374.1 L628 1371.3 L628.7 1368.6 L629.4 1366.8 L629.9 1366.4 L630.1 1366.4 L630.8 1366.6 L631.5 1366.9 L632.2 1367.5 L633 1368.1 L633.7 1368.9 L634.4 1369.9 L635.1 1370.9 L635.4 1371.5 L635.8 1372.5 L636.5 1376 L637.2 1378.5 L637.3 1378.6 L637.9 1378.6 L638.6 1378.4 L639.3 1378.2 L640 1377.8 L640.7 1377.5 L641.4 1377.1 L642.1 1376.6 L642.8 1376.2 L642.8 1376.2 L643.5 1375.8 L644.2 1375.3 L644.9 1374.8 L645.6 1374.2 L646.3 1373.6 L647 1373 L647.7 1372.3 L648.4 1371.6 L649.1 1370.8 L649.8 1370 L650.5 1369.2 L651.2 1368.3 L651.9 1367.5 L652.6 1366.6 L653 1366 L653.3 1365.6 L654 1364.6 L654.7 1363.4 L655.4 1362.2 L656.1 1360.9 L656.8 1359.5 L657.5 1358.1 L658.2 1356.7 L658.6 1355.8 L658.9 1355.2 L659.6 1353.5 L660.3 1351.7 L661 1349.7 L661.7 1347.8 L662.4 1346 L663.1 1344.5 L663.8 1343.2 L664.1 1342.8 L664.5 1342.3 L665.2 1341.5 L665.9 1340.8 L666.6 1340.2 L667.3 1339.8 L667.8 1339.7 L668 1339.7 L668.7 1340.4 L669.4 1341.8 L670.1 1343.9 L670.8 1346.4 L671.5 1349.3 L671.5 1349.3 L672.2 1354 L672.9 1361.4 L673.6 1370.2 L674.3 1378.9 L674.3 1379 L675 1387.7 L675.7 1397.2 L676.4 1406.9 L677.1 1416 L677.1 1416 L677.8 1424.5 L678.5 1432.7 L679.2 1440.7 L679.9 1448.4 L680.6 1444.5 L681.4 1434.4 L682.1 1420.6 L682.3 1416 L682.8 1400.7 L683.5 1367.5 L684.2 1333.1 L684.5 1323.4 L685 1305.5 L685.7 1278.1 L686.4 1259.9 L686.7 1257.6 L687.1 1256.6 L687.9 1255.6 L688.6 1255.2 L689.3 1271.4 L690 1287 L690.4 1295.6 L690.7 1302.1 L691.4 1317.5 L692.1 1332 L692.8 1344.2 L692.9 1345.6 L693.5 1354.4 L694.2 1362.8 L694.7 1366 L694.9 1366.6 L695.6 1368.3 L696.2 1368.8 L696.3 1368.8 L697 1367.6 L697.7 1365.3 L698.4 1362.7 L699.1 1360.7 L699.3 1360.4 L699.8 1359.7 L700.5 1358.8 L701.2 1358.1 L701.9 1357.5 L702.6 1357.3 L702.7 1357.3 L703.3 1357.6 L704 1358.3 L704.7 1359.4 L705.4 1360.7 L705.8 1361.4 L706.1 1362 L706.8 1363.7 L707.5 1365.7 L708.2 1368 L708.9 1370.3 L709.6 1372.6 L710.3 1374.8 L710.5 1375.3 L711 1376.9 L711.7 1379.1 L712.4 1381.3 L713.1 1383.4 L713.8 1385.4 L714.5 1387.1 L715.1 1388.2 L715.2 1388.4 L715.9 1389.7 L716.6 1390.9 L717.3 1391.9 L718 1392.6 L718.7 1392.9 L718.8 1392.9 L719.4 1392.7 L720.1 1392.2 L720.9 1391.5 L721.6 1390.5 L722.3 1389.5 L722.5 1389.2 L723 1388.4 L723.7 1386.8 L724.4 1385 L725.1 1383.1 L725.8 1381.5 L726.2 1380.8 L726.5 1380.4 L727.2 1379.5 L727.9 1378.5 L728.6 1377.8 L729.3 1377.3 L729.9 1377.1 L730 1377.1 L730.7 1377.2 L731.4 1377.5 L732.1 1377.8 L732.8 1378.1 L733.5 1378.4 L734.2 1378.6 L734.5 1378.6 L734.9 1378.6 L735.6 1378.3 L736.3 1377.9 L737 1377.2 L737.7 1376.5 L738.4 1375.6 L739.1 1374.6 L739.8 1373.6 L740.5 1372.6 L741.2 1371.7 L741.9 1370.7 L742 1370.6 L742.6 1369.9 L743.3 1369.1 L744 1368.2 L744.7 1367.3 L745.4 1366.3 L746.1 1365.1 L746.6 1364.1 L746.8 1363.7 L747.5 1361.4 L748.2 1358.7 L748.9 1356.6 L749 1356.4 L749.6 1355.3 L750.3 1354 L751 1352.9 L751.7 1352 L752.4 1351.4 L753.1 1351.2 L754 1385.4 L756.8 1379 L758.3 1391 L759 1389.7 L759.7 1388.3 L760.4 1386.8 L761.1 1385.3 L761.8 1383.7 L762.3 1382.7 L762.6 1382.1 L763.3 1380.4 L764 1378.6 L764.7 1376.8 L765.4 1374.9 L766.1 1373 L766.8 1371 L767.5 1368.9 L767.9 1367.8 L768.2 1366.8 L768.9 1364.7 L769.6 1362.5 L770.4 1360.3 L771.1 1358 L771.8 1355.6 L772.5 1353.1 L773.2 1350.5 L773.5 1349.3 L773.9 1347.7 L774.6 1344.5 L775.3 1341.1 L776 1337.6 L776.7 1334 L777.4 1330.4 L778.2 1327.1 L778.9 1324 L779 1323.4 L779.6 1320.9 L780.3 1317.6 L781 1314.3 L781.7 1311.3 L782.4 1308.9 L783.1 1307.4 L783.6 1307.1 L783.8 1307.1 L784.5 1307.5 L785.2 1308.3 L786 1309.5 L786.4 1310.4 L786.7 1311.3 L787.4 1316.2 L788.1 1323.9 L788.8 1332.9 L789.2 1338.2 L789.5 1342.4 L790.2 1354.3 L790.9 1367.9 L791.6 1381.5 L792 1388.2 L792.3 1394 L793 1406.2 L793.8 1418.1 L794.5 1429.5 L794.8 1434.5 L795.2 1439.9 L795.9 1449.7 L796.6 1458.9 L797.3 1467.5 L798 1464.3 L798.7 1460 L799.4 1455 L799.4 1454.8 L800.1 1447.9 L800.8 1439.2 L801.6 1430.3 L802.2 1423 L802.3 1422.4 L803 1415.3 L803.7 1408.3 L804.4 1401.7 L805.1 1396 L805.8 1391.3 L805.9 1390.8 L806.5 1387.7 L807.2 1384.4 L807.9 1381.5 L808.6 1378.9 L809.3 1376.6 L810.1 1374.5 L810.5 1373.4 L810.8 1372.7 L811.5 1371 L812.2 1369.4 L812.9 1367.9 L813.6 1366.5 L814.3 1365.3 L815 1364.3 L815.7 1363.5 L816.1 1363.2 L816.4 1362.9 L817.1 1362.4 L817.9 1361.9 L818.6 1361.5 L819.3 1361.1 L820 1360.7 L820.7 1360.4 L821.4 1360.2 L822.1 1360.1 L822.6 1360.1 L822.8 1360.1 L823.5 1360.2 L824.2 1360.5 L824.9 1360.8 L825.7 1361.2 L826.4 1361.7 L827.1 1362.2 L827.2 1362.3 L827.8 1362.8 L828.5 1363.6 L829.2 1364.5 L829.9 1365.7 L830.6 1366.9 L831.3 1368.1 L832 1369.4 L832.7 1370.6 L833.4 1371.8 L834.2 1372.8 L834.6 1373.4 L834.9 1373.7 L835.6 1374.5 L836.3 1375.3 L837 1376 L837.7 1376.7 L838.7 1366 L839.4 1366.4 L840.1 1367 L840.8 1367.7 L841.5 1368.5 L842.2 1369.3 L842.9 1370.3 L843.6 1371.3 L844.3 1372.4 L845 1373.5 L845.7 1374.7 L846.4 1375.9 L846.6 1376.2 L847.1 1377.4 L847.8 1379.4 L848.5 1380.4 L848.5 1380.4 L849.2 1380.2 L849.9 1379.5 L850.6 1378.6 L851.3 1377.4 L852 1376.1 L852.7 1374.7 L853.4 1373.4 L854.1 1372.3 L854.8 1371.4 L855 1371.2 L855.5 1370.7 L856.2 1370 L856.9 1369.3 L857.6 1368.7 L858.3 1368.1 L859 1367.5 L859.7 1367 L860.4 1366.6 L861.1 1366.2 L861.8 1366.1 L862.4 1366 L862.5 1366 L863.2 1366 L863.9 1366.1 L864.6 1366.2 L865.3 1366.3 L866 1366.5 L866.7 1366.7 L867.4 1366.9 L868.1 1367.1 L868.8 1367.3 L869.5 1367.6 L870.2 1367.8 L870.9 1368 L871.6 1368.3 L872.3 1368.5 L873 1368.7 L873.5 1368.8 L873.7 1368.9 L874.4 1369.1 L875.1 1369.3 L875.8 1369.5 L876.5 1369.7 L877.2 1370 L877.9 1370.2 L878.6 1370.4 L879.3 1370.7 L880 1370.8 L880.7 1371 L881.4 1371.1 L882.1 1371.2 L882.8 1371.2 L882.8 1371.2 L883.5 1371.2 L884.2 1371.1 L884.9 1371 L885.6 1370.8 L886.3 1370.6 L887 1370.4 L887.7 1370.2 L888.4 1370 L889.1 1369.8 L889.8 1369.7 L890.5 1369.6 L891.2 1369.5 L891.6 1369.5 L891.9 1369.5 L892.6 1369.6 L893.3 1369.8 L894 1370.1 L894.7 1370.4 L895.4 1370.8 L896.1 1371.2 L896.8 1371.7 L897.5 1372.1 L898.2 1372.6 L898.9 1373 L899.6 1373.4 L900.3 1373.8 L901 1374.1 L901.7 1374.4 L902.4 1374.5 L903.1 1374.6 L903.2 1374.6 L903.8 1374.6 L904.5 1374.6 L905.2 1374.5 L905.9 1374.4 L906.6 1374.3 L907.3 1374.2 L908 1374.1 L908.7 1374 L909.4 1373.9 L910.1 1373.7 L910.8 1373.6 L911.5 1373.4 L912.2 1373.3 L912.9 1373.1 L913.6 1373 L914.3 1372.8 L915 1372.7 L915.7 1372.5 L916.4 1372.4 L917.1 1372.3 L917.1 1372.3 L917.8 1372.2 L918.5 1372.1 L919.2 1372 L919.9 1372 L920.6 1371.9 L921.3 1371.8 L922 1371.8 L922.7 1371.7 L923.4 1371.6 L924.1 1371.5 L924.8 1371.4 L925.5 1371.3 L926.2 1371.2 L926.9 1371.1 L927.6 1370.9 L928.3 1370.7 L928.6 1370.6 L929 1370.2 L929.7 1369 L930.4 1368.3 L930.5 1368.3 L931.1 1368.3 L931.8 1368.4 L932.5 1368.4 L933.2 1368.5 L933.9 1368.6 L934.6 1368.8 L935.3 1368.9 L936 1369 L936.7 1369.2 L937.4 1369.3 L938.1 1369.4 L938.8 1369.4 L939.5 1369.5 L940.2 1369.5 L940.2 1369.5 L940.9 1369.5 L941.6 1369.5 L942.3 1369.4 L943 1369.4 L943.7 1369.3 L944.4 1369.2 L945.1 1369.2 L945.8 1369.1 L946.6 1369.1 L947.3 1369 L948 1369 L948.3 1369 L948.7 1369 L949.4 1369.1 L950.1 1369.2 L950.8 1369.4 L951.5 1369.7 L952.2 1370 L952.9 1370.3 L953.6 1370.7 L954.3 1371.1 L955 1371.4 L955.7 1371.8 L956.4 1372.2 L957.1 1372.5 L957.8 1372.8 L958.5 1373.1 L959.2 1373.3 L959.9 1373.5 L960.6 1373.6 L961.1 1373.6 L961.3 1373.6 L962 1373.5 L962.7 1373.4 L963.4 1373.2 L964.1 1372.9 L964.8 1372.6 L965.5 1372.3 L966.2 1372 L966.9 1371.8 L967.6 1371.5 L968.3 1371.4 L969 1371.3 L969.2 1371.3 L969.7 1371.4 L970.4 1371.8 L971.1 1372.4 L971.8 1373.2 L972.5 1374.2 L973.2 1375.2 L973.9 1376.3 L974.6 1377.3 L975.3 1378.1 L976 1378.8 L976.7 1379.3 L977.3 1379.4 L977.4 1379.4 L978.1 1379.3 L978.8 1379 L979.5 1378.6 L980.2 1378.1 L980.9 1377.6 L981.6 1377 L982.3 1376.3 L983 1375.7 L983.7 1375.2 L984.4 1374.7 L985.1 1374.2 L985.4 1374.1 L985.8 1374 L986.5 1373.7 L987.2 1373.4 L987.9 1373.2 L988.6 1373 L989.3 1372.8 L990 1372.6 L990.7 1372.4 L991.4 1372.2 L992.1 1372.1 L992.8 1371.9 L993.5 1371.7 L994.2 1371.6 L994.9 1371.4 L995.6 1371.2 L996.3 1371.1 L997 1370.9 L997.7 1370.7 L998.1 1370.6 L998.4 1370.5 L999.1 1370.3 L999.8 1370.1 L1000.5 1369.9 L1001.2 1369.6 L1001.9 1369.4 L1002.6 1369.1 L1003.3 1368.9 L1004 1368.6 L1004.7 1368.4 L1005.4 1368.2 L1006.1 1368 L1006.8 1367.8 L1007.5 1367.6 L1008.2 1367.5 L1008.9 1367.4 L1009.6 1367.3 L1010.3 1367.2 L1010.9 1367.2 L1011 1367.2 L1011.7 1367.2 L1012.4 1367.3 L1013.1 1367.4 L1013.8 1367.5 L1014.5 1367.6 L1015.2 1367.7 L1015.9 1367.9 L1016.6 1368.1 L1017.3 1368.3 L1018 1368.4 L1018.7 1368.6 L1019.4 1368.8 L1020.1 1369 L1020.8 1369.2 L1021.5 1369.3 L1022.2 1369.5 L1022.9 1369.6 L1023.6 1369.7 L1024.3 1369.8 L1025 1369.9 L1025.7 1369.9 L1025.9 1369.9 L1026.4 1369.9 L1027.1 1369.9 L1027.8 1369.8 L1028.5 1369.7 L1029.2 1369.6 L1029.9 1369.5 L1030.6 1369.3 L1031.3 1369.2 L1032 1369.1 L1032.7 1369 L1033.4 1368.8 L1034.1 1368.8 L1034.8 1368.7 L1035.5 1368.6 L1036.2 1368.6 L1036.3 1368.6 L1036.9 1368.6 L1037.6 1368.8 L1038.3 1369.1 L1039 1369.5 L1039.7 1369.9 L1040.4 1370.4 L1041.1 1370.9 L1041.8 1371.4 L1042.5 1371.9 L1043.2 1372.3 L1043.9 1372.7 L1044.4 1373 L1044.6 1373.1 L1045.3 1373.4 L1046 1373.6 L1046.7 1373.8 L1047.4 1373.9 L1048.1 1374.1 L1048.8 1374.3 L1049.5 1374.5 L1050.2 1374.8 L1050.9 1375.2 L1051.6 1375.6 L1052.3 1376.2 L1052.5 1376.4 L1053 1378.3 L1053.7 1382.9 L1054.4 1382.5 L1055.1 1382.1 L1055.8 1381.8 L1056.5 1381.5 L1057.2 1381.4 L1057.9 1381.2 L1058.6 1381.1 L1059.3 1381.1 L1059.5 1381.1 L1060 1381.2 L1060.7 1381.4 L1061.4 1381.7 L1062.1 1382.1 L1062.8 1382.4 L1063.5 1382.6 L1064.1 1382.7 L1064.2 1382.7 L1064.9 1382.7 L1065.6 1382.6 L1066.3 1382.5 L1067 1382.4 L1067.7 1382.2 L1068.4 1382 L1069.1 1381.8 L1069.8 1381.6 L1070.5 1381.3 L1071.2 1381.1 L1071.9 1380.8 L1072.6 1380.5 L1073.3 1380.2 L1074 1379.8 L1074.7 1379.5 L1075.4 1379.2 L1076.1 1378.9 L1076.8 1378.6 L1077.5 1378.3 L1078.2 1378 L1078.9 1377.7 L1079.2 1377.6 L1079.6 1377.4 L1080.3 1377.1 L1081 1376.7 L1081.7 1376.3 L1082.4 1375.9 L1083.1 1375.5 L1083.8 1375.2 L1084.5 1374.9 L1085.2 1374.7 L1085.9 1374.6 L1086.1 1374.6 L1086.6 1376.7 L1087.4 1381.4 L1087.7 1382.4 L1088.1 1382.4 L1088.8 1382.3 L1089.5 1382.2 L1090.2 1382 L1090.9 1381.8 L1091.6 1381.5 L1092.3 1381.2 L1093 1380.9 L1093.7 1380.6 L1094.4 1380.2 L1095.1 1379.9 L1095.8 1379.5 L1096.5 1379.2 L1097.2 1378.9 L1097.7 1378.7 L1097.9 1378.6 L1098.6 1378.4 L1099.3 1378 L1100 1377.7 L1100.7 1377.4 L1101.4 1377 L1102.1 1376.7 L1102.8 1376.4 L1103.5 1376.1 L1104.2 1375.8 L1104.9 1375.6 L1105.6 1375.4 L1106.3 1375.3 L1107 1375.3 L1107 1375.3 L1107.7 1375.4 L1108.4 1375.6 L1109.1 1376 L1109.8 1376.5 L1110.5 1377.1 L1111.2 1377.7 L1111.9 1378.3 L1112.6 1378.9 L1113.3 1379.5 L1113.9 1379.9 L1114 1380 L1114.7 1380.5 L1115.4 1381 L1116.1 1381.6 L1116.8 1382.2 L1117.5 1382.7 L1118.2 1383.3 L1118.9 1383.8 L1119.6 1384.2 L1120.3 1384.6 L1121 1384.9 L1121.7 1385 L1122 1385 L1122.4 1385 L1123.1 1385 L1123.8 1385 L1124.5 1385 L1125.2 1385 L1125.9 1385 L1126.6 1385 L1127.3 1385 L1127.8 1385 L1128 1385 L1128.7 1385.2 L1129.4 1385.5 L1130.1 1385.8 L1130.8 1386.1 L1131.5 1386.3 L1132 1386.4 L1132.2 1386.4 L1132.9 1386 L1133.6 1385.4 L1134.3 1384.5 L1135 1383.5 L1135.7 1382.4 L1135.9 1382.2 L1136.4 1381.4 L1137.1 1380.1 L1137.8 1378.6 L1138.5 1377 L1139.2 1375.4 L1139.9 1373.9 L1140.6 1372.4 L1141.3 1371.2 L1141.7 1370.6 L1142 1370.1 L1142.7 1369.2 L1143.4 1368.3 L1144.1 1367.4 L1144.8 1366.6 L1145.5 1365.9 L1146.2 1365.2 L1146.9 1364.7 L1147.5 1364.4 L1147.6 1364.3 L1148.3 1364 L1149 1363.7 L1149.7 1363.3 L1150.4 1363.1 L1151.1 1362.8 L1151.8 1362.7 L1152.5 1362.5 L1153.2 1362.5 L1153.3 1362.5 L1154 1362.5 L1154.7 1362.5 L1155.4 1362.6 L1156.1 1362.6 L1156.8 1362.7 L1157.5 1362.8 L1158.2 1363 L1158.9 1363.1 L1159.1 1363.2 L1159.6 1364.1 L1160.2 1365.5 L1160.3 1365.5 L1161 1365.5 L1161.7 1365.5 L1162.4 1365.5 L1163.1 1365.5 L1163.8 1365.5 L1164.5 1365.5 L1165.2 1365.5 L1165.9 1365.5 L1166.6 1365.5 L1167.3 1365.5 L1168 1365.5 L1168.7 1365.5 L1169.4 1365.5 L1170.1 1365.5 L1170.8 1365.5 L1171.5 1365.4 L1172.2 1365.4 L1172.9 1365.4 L1173.6 1365.4 L1174.3 1365.4 L1175 1365.4 L1175.7 1365.4 L1176.4 1365.4 L1177.1 1365.3 L1177.8 1365.3 L1178.5 1365.3 L1178.8 1365.3 L1179.2 1364.3 L1179.9 1359.6 L1180.6 1356.3 L1180.6 1356.3 L1181.3 1355.8 L1182 1355.4 L1182.7 1355 L1183.4 1354.7 L1184.1 1354.4 L1184.8 1354.1 L1185.5 1353.9 L1186.2 1353.7 L1186.9 1353.6 L1187.6 1353.5 L1188.3 1353.4 L1189 1353.3 L1189.7 1353.3 L1190.3 1353.3 L1190.4 1353.3 L1191.1 1353.3 L1191.8 1353.4 L1192.5 1353.5 L1193.2 1353.6 L1193.9 1353.8 L1194.6 1353.9 L1195.3 1354.1 L1196 1354.3 L1196.7 1354.6 L1197.4 1354.8 L1198.1 1355.1 L1198.8 1355.3 L1199.5 1355.6 L1199.6 1355.6 L1200.2 1355.9 L1200.9 1356.2 L1201.6 1356.6 L1202.3 1357.1 L1203 1357.6 L1203.7 1358.2 L1204.4 1358.8 L1205.1 1359.3 L1205.8 1359.9 L1206.5 1360.5 L1207.2 1361 L1207.9 1361.5 L1208.6 1361.9 L1208.9 1362.1 L1209.3 1362.4 L1210 1362.8 L1210.7 1363.2 L1211.4 1363.6 L1212.1 1364.1 L1212.8 1364.4 L1213.5 1364.8 L1214.2 1365.1 L1214.9 1365.3 L1215.6 1365.5 L1215.8 1365.5 L1216.3 1365.6 L1217 1365.7 L1217.7 1365.8 L1218.4 1365.8 L1219.1 1365.9 L1219.8 1366 L1220.6 1366 L1221.3 1366.1 L1222 1366.2 L1222.7 1366.2 L1223.4 1366.3 L1224.1 1366.3 L1224.8 1366.3 L1225.5 1366.4 L1226.2 1366.4 L1226.9 1366.5 L1227.6 1366.5 L1228.3 1366.5 L1229 1366.6 L1229.7 1366.6 L1230.4 1366.6 L1231.1 1366.7 L1231.8 1366.7 L1232 1366.7 L1232.5 1366.7 L1233.2 1366.8 L1233.9 1366.8 L1234.6 1366.8 L1235.3 1366.9 L1236 1366.9 L1236.7 1366.9 L1237.4 1367 L1238.1 1367 L1238.8 1367 L1239.5 1367.1 L1240.2 1367.1 L1240.9 1367.1 L1241.6 1367.1 L1242.3 1367.1 L1243 1367.2 L1243.7 1367.2 L1244.4 1367.2 L1245.1 1367.2 L1245.8 1367.2 L1245.9 1367.2 L1246.5 1367.2 L1247.2 1367.1 L1247.9 1367 L1248.6 1366.8 L1249.3 1366.6 L1250 1366.4 L1250.7 1366.1 L1251.4 1365.9 L1252.1 1365.7 L1252.8 1365.4 L1253.5 1365.2 L1254.2 1365.1 L1254.9 1364.9 L1255.6 1364.8 L1256.3 1364.8 L1256.3 1364.8 L1257 1364.8 L1257.7 1364.9 L1258.4 1365 L1259.1 1365.2 L1259.8 1365.4 L1260.5 1365.6 L1261.2 1365.8 L1261.9 1366.1 L1262.6 1366.3 L1263.3 1366.6 L1264 1366.8 L1264.7 1367.1 L1265.4 1367.3 L1266.1 1367.5 L1266.8 1367.6 L1267.5 1367.8 L1268.2 1367.9 L1268.9 1367.9 L1269.1 1367.9 L1269.6 1367.9 L1270.3 1367.7 L1271 1367.5 L1271.7 1367.2 L1272.4 1366.8 L1273.1 1366.4 L1273.8 1365.9 L1274.5 1365.4 L1275.2 1364.9 L1275.9 1364.4 L1276 1364.4 L1276.6 1363.9 L1277.3 1363.1 L1278 1362.3 L1278.7 1361.7 L1279.4 1361.4 L1279.5 1361.4 L1280.1 1363.1 L1280.8 1366.9 L1281.5 1369.9 L1281.8 1370.2 L1282.2 1370.2 L1282.9 1370.2 L1283.6 1370.2 L1284.3 1370.2 L1285 1370.2 L1285.7 1370.2 L1286.5 1370.2 L1287.2 1370.2 L1287.9 1370.1 L1288.6 1370.1 L1289.3 1370.1 L1290 1370.1 L1290.7 1370.1 L1291.4 1370.1 L1292.1 1370.1 L1292.8 1370 L1293.5 1370 L1294.2 1370 L1294.9 1370 L1295.6 1369.9 L1296.3 1369.9 L1296.9 1369.9 L1297 1369.9 L1297.7 1369.9 L1298.4 1369.8 L1299.1 1369.7 L1299.8 1369.6 L1300.5 1369.5 L1301.2 1369.4 L1301.9 1369.2 L1302.6 1369 L1303.3 1368.9 L1304 1368.7 L1304.7 1368.5 L1305.4 1368.3 L1306.1 1368 L1306.8 1367.8 L1307.5 1367.6 L1308.2 1367.3 L1308.5 1367.2 L1308.9 1367.1 L1309.6 1366.7 L1310.3 1366.4 L1311 1366 L1311.7 1365.5 L1312.4 1365 L1313.1 1364.5 L1313.8 1364 L1314.5 1363.4 L1315.2 1362.8 L1315.6 1362.5 L1315.9 1362.2 L1316.6 1361.5 L1317.3 1360.6 L1318 1359.7 L1318.7 1358.6 L1319.4 1357.6 L1320.1 1356.7 L1320.8 1355.9 L1321.5 1355.2 L1322.2 1354.7 L1322.9 1354.5 L1323 1354.5 L1323.6 1354.5 L1324.3 1354.4 L1325 1354.4 L1325.7 1354.4 L1326.4 1354.4 L1326.5 1354.4 L1327.1 1354.6 L1327.8 1355.1 L1328.5 1355.8 L1329.2 1356.7 L1329.9 1357.7 L1330.6 1358.7 L1331.3 1359.6 L1332 1360.4 L1332.7 1360.8 L1333.2 1360.9 L1333.4 1360.9 L1334.1 1360.9 L1334.8 1360.8 L1335.5 1360.8 L1336.2 1360.7 L1336.9 1360.6 L1337.6 1360.5 L1338.3 1360.5 L1339 1360.4 L1339.7 1360.3 L1340.4 1360.3 L1341.1 1360.2 L1341.8 1360.2 L1342 1360.2 L1342.5 1362.2 L1342.9 1363.5 L1343.2 1363.7 L1343.9 1363.9 L1344.6 1364.2 L1345.3 1364.4 L1346 1364.5 L1346.7 1364.6 L1347.4 1364.7 L1348.1 1364.8 L1348.8 1364.8 L1349.4 1364.8 L1349.5 1364.8 L1350.2 1364.8 L1350.9 1364.8 L1351.6 1364.8 L1352.3 1364.7 L1353.1 1364.7 L1353.8 1364.7 L1354.5 1364.6 L1355.2 1364.6 L1355.9 1364.6 L1356.6 1364.5 L1357.3 1364.5 L1358 1364.5 L1358.7 1364.4 L1359.4 1364.4 L1360.1 1364.4 L1360.8 1364.4 L1361 1364.4 L1361.5 1364.4 L1362.2 1364.4 L1362.9 1364.5 L1363.6 1364.5 L1364.3 1364.6 L1365 1364.7 L1365.7 1364.8 L1366.4 1364.9 L1367.1 1365 L1367.8 1365 L1368.5 1365.1 L1369.2 1365.2 L1369.9 1365.2 L1370.6 1365.3 L1371.3 1365.3 L1371.4 1365.3 L1372 1365.3 L1372.7 1365.1 L1373.4 1364.9 L1374.1 1364.6 L1374.8 1364.3 L1375.5 1363.9 L1376.2 1363.5 L1376.9 1363 L1377.6 1362.6 L1378.3 1362.1 L1378.3 1362.1 L1379 1361.7 L1379.7 1361.2 L1380.4 1360.7 L1381.1 1360.2 L1381.8 1359.5 L1382.5 1358.7 L1383.2 1357.7 L1383.9 1356.5 L1384.6 1355.1 L1384.6 1355.1 L1385.3 1351.6 L1386 1346.3 L1386.7 1346.4 L1387.4 1346.5 L1388.1 1346.7 L1388.8 1347 L1389.5 1347.3 L1389.9 1347.5 L1390.2 1347.7 L1390.9 1348.4 L1391.6 1349.5 L1392.3 1350.8 L1393 1352.3 L1393.7 1353.9 L1394.4 1355.5 L1395.1 1357.1 L1395.8 1358.5 L1396.5 1359.8 L1396.8 1360.2 L1397.2 1360.8 L1397.9 1361.7 L1398.6 1362.7 L1399.3 1363.6 L1400 1364.5 L1400.7 1365.3 L1401.4 1366.1 L1402.1 1366.8 L1402.8 1367.3 L1403.5 1367.8 L1403.8 1367.9 L1404.2 1368.1 L1404.9 1368.4 L1405.6 1368.7 L1406.3 1368.9 L1407 1369.1 L1407.7 1369.3 L1408.4 1369.5 L1409.1 1369.7 L1409.8 1369.9 L1410.5 1370 L1411.2 1370.1 L1411.9 1370.2 L1411.9 1370.2 L1412.6 1370.3 L1413.3 1370.4 L1414 1370.5 L1414.7 1370.5 L1415.4 1370.6 L1416.1 1370.7 L1416.8 1370.8 L1417.5 1370.8 L1418.2 1370.9 L1418.9 1370.9 L1419.6 1371 L1420.3 1371 L1421 1371 L1421.7 1371.1 L1422.4 1371.1 L1423.1 1371.1 L1423.5 1371.1 L1423.8 1371.1 L1424.5 1371 L1425.2 1370.9 L1425.9 1370.8 L1426.6 1370.6 L1427.3 1370.5 L1428 1370.2 L1428.7 1370 L1429.4 1369.8 L1430.1 1369.6 L1430.8 1369.4 L1431.5 1369.3 L1432.2 1369.1 L1432.9 1369.1 L1433.6 1369 L1433.9 1369 L1434.3 1369 L1435 1369.2 L1435.7 1369.5 L1436.4 1369.9 L1437.1 1370.4 L1437.8 1370.9 L1438.5 1371.3 L1439.2 1371.8 L1439.9 1372.1 L1440.6 1372.4 L1441.4 1372.5 L1441.5 1372.5 L1442.1 1371.4 L1442.5 1370.6 L1442.8 1370.6 L1443.5 1370.7 L1444.2 1370.8 L1444.9 1371 L1445.6 1371.2 L1446.3 1371.5 L1447 1371.8 L1447.7 1372.1 L1448.4 1372.4 L1449.1 1372.7 L1449.8 1373 L1450.5 1373.3 L1451.2 1373.5 L1451.9 1373.7 L1452.6 1373.8 L1453.3 1373.9 L1453.6 1373.9 L1454 1373.9 L1454.7 1373.9 L1455.4 1373.8 L1456.1 1373.7 L1456.8 1373.6 L1457.5 1373.5 L1458.2 1373.4 L1458.9 1373.2 L1459.6 1373 L1460.3 1372.8 L1461 1372.7 L1461.7 1372.5 L1462.4 1372.3 L1463.1 1372.1 L1463.8 1371.9 L1464.5 1371.7 L1465.2 1371.5 L1465.9 1371.3 L1466.6 1371.2 L1467.3 1371 L1468 1370.9 L1468.7 1370.7 L1469.4 1370.6 L1469.8 1370.6 L1470.1 1370.6 L1470.8 1370.5 L1471.5 1370.4 L1472.2 1370.4 L1472.9 1370.3 L1473.6 1370.2 L1474.3 1370.2 L1475 1370.1 L1475.7 1370.1 L1476.4 1370 L1477.1 1370 L1477.8 1369.9 L1478.5 1369.9 L1479.2 1369.8 L1479.9 1369.8 L1480.6 1369.7 L1481.3 1369.7 L1482 1369.7 L1482.7 1369.6 L1483.4 1369.6 L1484.1 1369.6 L1484.8 1369.5 L1485.5 1369.5 L1486 1369.5 L1486.2 1369.5 L1486.9 1369.5 L1487.6 1369.5 L1488.3 1369.4 L1489 1369.4 L1489.7 1369.4 L1490.4 1369.4 L1491.1 1369.4 L1491.8 1369.3 L1492.5 1369.3 L1493.2 1369.3 L1493.9 1369.3 L1494.6 1369.3 L1495.3 1369.3 L1496 1369.2 L1496.7 1369.2 L1497.4 1369.2 L1498.1 1369.2 L1498.8 1369.2 L1499.5 1369.2 L1500.2 1369.2 L1500.9 1369.2 L1501.1 1369.2 L1501.6 1369.2 L1502.3 1369.3 L1503 1369.3 L1503.7 1369.4 L1504.4 1369.6 L1505.1 1369.7 L1505.8 1369.9 L1506.5 1370 L1507.2 1370.2 L1507.9 1370.4 L1508.6 1370.6 L1509.3 1370.8 L1510 1371 L1510.7 1371.2 L1511.4 1371.3 L1512.1 1371.5 L1512.8 1371.6 L1513.5 1371.8 L1513.8 1371.8 L1514.2 1371.9 L1514.9 1372 L1515.6 1372.1 L1516.3 1372.2 L1517 1372.3 L1517.7 1372.4 L1518.4 1372.4 L1519.1 1372.5 L1519.8 1372.6 L1520.5 1372.7 L1521.2 1372.8 L1521.9 1372.8 L1522.6 1372.9 L1523.3 1372.9 L1524 1373 L1524.7 1373 L1525.4 1373 L1525.4 1373 L1526.1 1373 L1526.8 1373 L1527.5 1372.9 L1528.2 1372.9 L1528.9 1372.8 L1529.6 1372.7 L1530.3 1372.7 L1531 1372.6 L1531.7 1372.5 L1532.4 1372.4 L1533.1 1372.3 L1533.8 1372.2 L1534.5 1372.1 L1535.2 1372 L1535.9 1371.9 L1536.6 1371.7 L1537.3 1371.6 L1538 1371.6 L1538.7 1371.5 L1539.4 1371.4 L1540.1 1371.3 L1540.8 1371.2 L1541.5 1371.2 L1542.2 1371.1 L1542.9 1371.1 L1543.6 1371.1 L1543.9 1371.1 L1544.3 1371.1 L1545 1371.1 L1545.7 1371.2 L1546.4 1371.2 L1547.1 1371.3 L1547.8 1371.4 L1548.5 1371.5 L1549.2 1371.6 L1549.9 1371.7 L1550.7 1371.8 L1551.4 1371.9 L1552.1 1372 L1552.8 1372.1 L1553.5 1372.2 L1554.2 1372.3 L1554.9 1372.4 L1555.5 1372.5 L1555.6 1372.5 L1556.3 1372.6 L1557 1372.7 L1557.7 1372.8 L1558.4 1372.8 L1559.1 1372.9 L1559.8 1373 L1560.5 1373.1 L1561.2 1373.2 L1561.9 1373.2 L1562.6 1373.3 L1563.3 1373.4 L1564 1373.5 L1564.7 1373.6 L1565.4 1373.7 L1566.1 1373.7 L1566.8 1373.8 L1567.5 1373.9 L1568.2 1374 L1568.9 1374 L1569.6 1374.1 L1570.3 1374.2 L1571 1374.2 L1571.7 1374.3 L1571.7 1374.3 L1572.4 1374.4 L1573.1 1374.4 L1573.8 1374.5 L1574.5 1374.5 L1575.2 1374.6 L1575.9 1374.6 L1576.6 1374.6 L1577.3 1374.7 L1578 1374.7 L1578.7 1374.8 L1579.4 1374.8 L1580.1 1374.8 L1580.8 1374.9 L1581.5 1374.9 L1582.2 1375 L1582.9 1375 L1583.6 1375.1 L1584.3 1375.1 L1585 1375.2 L1585.7 1375.2 L1586.4 1375.3 L1587.1 1375.3 L1587.8 1375.4 L1588.5 1375.5 L1589.2 1375.6 L1589.9 1375.7 L1590.2 1375.7 L1590.6 1375.8 L1591.3 1375.9 L1592 1376.1 L1592.7 1376.3 L1593.4 1376.6 L1594.1 1376.9 L1594.8 1377.2 L1595.5 1377.5 L1596.2 1377.9 L1596.9 1378.2 L1597.6 1378.5 L1598.3 1378.9 L1599 1379.2 L1599.5 1379.4 L1599.7 1379.5 L1600.4 1379.8 L1601.1 1380.2 L1601.8 1380.6 L1602.5 1381 L1603.2 1381.4 L1603.9 1381.8 L1604.6 1382.1 L1605.3 1382.4 L1606 1382.6 L1606.7 1382.8 L1607.4 1382.9 L1607.6 1382.9 L1608.1 1382.9 L1608.8 1382.8 L1609.5 1382.6 L1610.2 1382.4 L1610.9 1382.2 L1611.6 1381.9 L1612.3 1381.6 L1613 1381.3 L1613.4 1381.1 L1613.7 1381 L1614.4 1380.6 L1615.1 1380.1 L1615.8 1379.6 L1616.5 1379.1 L1617.2 1378.5 L1617.9 1377.9 L1618.6 1377.4 L1619.3 1376.9 L1620 1376.5 L1620.3 1376.4 L1620.7 1376.2 L1621.4 1375.9 L1622.1 1375.6 L1622.8 1375.3 L1623.5 1375 L1624.2 1374.7 L1624.9 1374.5 L1625.6 1374.2 L1626.3 1374 L1627 1373.8 L1627.7 1373.6 L1628.4 1373.4 L1629.1 1373.3 L1629.6 1373.2 L1629.8 1373.2 L1630.5 1373.1 L1631.2 1372.9 L1631.9 1372.8 L1632.6 1372.7 L1633.3 1372.6 L1634 1372.5 L1634.7 1372.4 L1635.4 1372.3 L1636.1 1372.3 L1636.8 1372.2 L1637.5 1372.1 L1638.2 1372 L1638.9 1371.9 L1639.6 1371.9 L1640.3 1371.8 L1641 1371.8 L1641.7 1371.7 L1642.4 1371.7 L1643.1 1371.7 L1643.8 1371.6 L1644.5 1371.6 L1645.2 1371.6 L1645.8 1371.6 L1645.9 1371.6 L1646.6 1371.6 L1647.3 1371.7 L1648 1371.7 L1648.7 1371.8 L1649.4 1371.9 L1650.1 1372 L1650.8 1372.2 L1651.5 1372.3 L1652.2 1372.5 L1652.9 1372.6 L1653.6 1372.7 L1654.3 1372.9 L1655 1373 L1655.7 1373.2 L1656.4 1373.3 L1657.1 1373.4 L1657.4 1373.4 L1657.8 1373.5 L1658.5 1373.5 L1659.2 1373.6 L1660 1373.7 L1660.7 1373.8 L1661.4 1373.9 L1662.1 1374 L1662.8 1374 L1663.5 1374.1 L1664.2 1374.1 L1664.3 1374.1 L1664.9 1373.7 L1665.6 1372.7 L1665.9 1372.5 L1666.3 1372.5 L1667 1372.5 L1667.7 1372.5 L1668.4 1372.5 L1669.1 1372.5 L1669.8 1372.5 L1670.5 1372.5 L1671.2 1372.5 L1671.9 1372.5 L1672.6 1372.5 L1673.3 1372.5 L1674 1372.5 L1674.7 1372.5 L1675.4 1372.5 L1676.1 1372.5 L1676.8 1372.5 L1677.5 1372.5 L1678.2 1372.5 L1678.9 1372.5 L1679.6 1372.5 L1680.3 1372.5 L1681 1372.5 L1681.7 1372.5 L1682.4 1372.5 L1683.1 1372.5 L1683.8 1372.5 L1684.5 1372.5 L1685.2 1372.5 L1685.2 1372.5 L1685.9 1372.5 L1686.6 1372.4 L1687.3 1372.3 L1688 1372.2 L1688.7 1372.1 L1689.4 1371.9 L1690.1 1371.7 L1690.8 1371.5 L1691.5 1371.4 L1692.2 1371.2 L1692.9 1371 L1693.6 1370.9 L1694.3 1370.8 L1695 1370.7 L1695.7 1370.6 L1696.3 1370.6 L1696.4 1370.6 L1697.1 1372.1 L1697.8 1373.6 L1697.9 1373.6 L1698.5 1373.6 L1699.2 1373.6 L1699.9 1373.5 L1700.6 1373.5 L1701.3 1373.4 L1702 1373.3 L1702.7 1373.2 L1703.4 1373.1 L1704.1 1373 L1704.8 1372.9 L1705.5 1372.8 L1706.2 1372.7 L1706.9 1372.5 L1707.6 1372.4 L1708.3 1372.3 L1709 1372.2 L1709.7 1372 L1710.4 1371.9 L1711.1 1371.8 L1711.8 1371.7 L1712.5 1371.6 L1713.2 1371.5 L1713.9 1371.4 L1714.6 1371.3 L1715.3 1371.2 L1716 1371.2 L1716.7 1371.1 L1717.4 1371.1 L1717.6 1371.1 L1718.1 1371.1 L1718.8 1371.1 L1719.5 1371.1 L1720.2 1371.1 L1720.9 1371 L1721.6 1371 L1722.3 1371 L1723 1371 L1723.7 1371 L1724.4 1371 L1725.1 1371 L1725.8 1371 L1726.5 1371 L1727.2 1371 L1727.9 1371 L1728.6 1371 L1729.3 1370.9 L1730 1370.9 L1730.7 1370.9 L1731.4 1370.9 L1732.1 1370.9 L1732.8 1370.9 L1733.5 1370.9 L1734.2 1370.9 L1734.9 1370.9 L1735.6 1370.9 L1736.3 1370.9 L1737 1370.9 L1737.7 1370.9 L1738.4 1370.9 L1739.1 1370.9 L1739.8 1370.9 L1740.5 1370.9 L1740.5 1370.9 L1741.2 1372 L1741.9 1373.4 L1742 1373.4 L1742.6 1373.5 L1743.3 1373.6 L1744 1373.7 L1744.7 1373.8 L1745.4 1373.8 L1746.1 1373.9 L1746.8 1373.9 L1747.5 1373.9 L1748.2 1374 L1748.9 1374 L1749.6 1374.1 L1750 1374.1 L1750.3 1374.1 L1751 1374.2 L1751.7 1374.4 L1752.4 1374.5 L1753.1 1374.7 L1753.8 1374.8 L1754.5 1375 L1755.2 1375.1 L1755.9 1375.3 L1756.6 1375.4 L1757.3 1375.5 L1758 1375.6 L1758.7 1375.7 L1759.4 1375.7 L1759.5 1375.7 L1760.1 1375.7 L1760.8 1375.6 L1761.5 1375.6 L1762.2 1375.5 L1762.9 1375.3 L1763.6 1375.2 L1764.3 1375 L1765 1374.9 L1765.7 1374.7 L1766.4 1374.5 L1767.1 1374.3 L1767.8 1374.1 L1768.5 1373.9 L1769.3 1373.7 L1770 1373.5 L1770.7 1373.3 L1771.4 1373.1 L1772.1 1373 L1772.8 1372.9 L1773.5 1372.7 L1774.2 1372.7 L1774.9 1372.6 L1775 1372.6 L1775.6 1372.6 L1776.3 1372.5 L1777 1372.5 L1777.7 1372.5 L1778.4 1372.5 L1779.1 1372.4 L1779.8 1372.4 L1780.5 1372.4 L1781.2 1372.4 L1781.9 1372.4 L1782.6 1372.4 L1783.3 1372.3 L1784 1372.3 L1784.7 1372.3 L1785.4 1372.3 L1786.1 1372.3 L1786.8 1372.3 L1787.5 1372.3 L1788.2 1372.3 L1788.9 1372.3 L1789.6 1372.3 L1790.3 1372.3 L1791 1372.2 L1791.7 1372.2 L1792.4 1372.2 L1793.1 1372.2 L1793.8 1372.2 L1794.5 1372.2 L1795.2 1372.2 L1795.9 1372.2 L1796.6 1372.1 L1797.3 1372.1 L1798 1372.1 L1798.7 1372.1 L1799.4 1372.1 L1800.1 1372 L1800.8 1372 L1801.5 1372 L1802.2 1372 L1802.9 1371.9 L1803.3 1371.9 L1803.6 1371.9 L1804.3 1371.8 L1805 1371.7 L1805.7 1371.6 L1806.4 1371.5 L1807.1 1371.3 L1807.8 1371.1 L1808.5 1370.9 L1809.2 1370.6 L1809.9 1370.4 L1810.6 1370.1 L1811.3 1369.8 L1812 1369.5 L1812.7 1369.2 L1813.4 1368.9 L1814.1 1368.5 L1814.8 1368.2 L1815.5 1367.8 L1816.1 1367.5 L1816.2 1367.4 L1816.9 1366.9 L1817.6 1366.2 L1818.3 1365.6 L1818.7 1365.4 L1819 1365.3 L1819.7 1365.1 L1820.4 1365 L1821.1 1364.8 L1821.8 1364.7 L1822.5 1364.5 L1823.2 1364.4 L1823.9 1364.3 L1824.6 1364.1 L1825.3 1364 L1826 1363.9 L1826.7 1363.8 L1827.4 1363.8 L1828.1 1363.7 L1828.8 1363.6 L1829.5 1363.6 L1830.2 1363.5 L1830.9 1363.5 L1831.6 1363.4 L1832.3 1363.4 L1833 1363.4 L1833.7 1363.4 L1834.1 1363.4 L1834.4 1363.4 L1835.1 1363.4 L1835.8 1363.4 L1836.5 1363.4 L1837.2 1363.5 L1837.9 1363.5 L1838.6 1363.5 L1839.3 1363.5 L1840 1363.6 L1840.7 1363.6 L1841.4 1363.7 L1842.1 1363.7 L1842.8 1363.7 L1843.5 1363.8 L1844.2 1363.8 L1844.9 1363.9 L1845.6 1363.9 L1846.3 1364 L1847 1364 L1847.7 1364.1 L1848.4 1364.1 L1849.1 1364.2 L1849.6 1364.2 L1849.8 1364.2 L1850.5 1364.3 L1851.2 1364.3 L1851.9 1364.3 L1852.6 1364.3 L1853.3 1364.4 L1854 1364.4 L1854.7 1364.4 L1855.4 1364.5 L1856.1 1364.5 L1856.8 1364.5 L1857.5 1364.6 L1858.2 1364.6 L1858.9 1364.6 L1859.6 1364.7 L1860.3 1364.8 L1861 1364.8 L1861.7 1364.9 L1862.4 1365 L1863.1 1365.1 L1863.8 1365.2 L1864.5 1365.3 L1865 1365.4 L1865.2 1365.6 L1865.9 1366.9 L1866.3 1367.2 L1866.6 1367.2 L1867.3 1367.2 L1868 1367.2 L1868.7 1367.2 L1869.4 1367.2 L1870.1 1367.1 L1870.8 1367.1 L1871.5 1367.1 L1872.2 1367.1 L1872.9 1367.1 L1873.6 1367 L1874.3 1367 L1875 1367 L1875.7 1367 L1876.4 1366.9 L1877.1 1366.9 L1877.8 1366.9 L1878.6 1366.9 L1879.3 1366.8 L1880 1366.8 L1880.7 1366.8 L1881.4 1366.8 L1882.1 1366.7 L1882.8 1366.7 L1883.5 1366.7 L1884.2 1366.7 L1884.9 1366.7 L1885.6 1366.7 L1885.6 1366.7 L1886.3 1366.7 L1887 1366.7 L1887.7 1366.8 L1888.4 1366.8 L1889.1 1366.9 L1889.8 1366.9 L1890.5 1367 L1891.2 1367.1 L1891.9 1367.2 L1892.6 1367.3 L1893.3 1367.4 L1894 1367.5 L1894.7 1367.6 L1895.4 1367.8 L1896.1 1367.9 L1896.8 1368 L1897.5 1368.1 L1898.2 1368.3 L1898.9 1368.4 L1899.6 1368.6 L1900.3 1368.7 L1901 1368.8 L1901.7 1369 L1902.4 1369.1 L1903.1 1369.2 L1903.6 1369.3 L1903.8 1369.3 L1904.5 1369.4 L1905.2 1369.5 L1905.9 1369.7 L1906.6 1369.8 L1907.3 1369.8 L1908 1369.9 L1908.7 1370 L1909.4 1370.2 L1910.1 1370.3 L1910.8 1370.4 L1911.5 1370.5 L1912.2 1370.7 L1912.9 1370.8 L1913.6 1371 L1914.3 1371.2 L1915 1371.4 L1915.7 1371.6 L1916.4 1371.9 L1916.5 1371.9 L1917.1 1372.3 L1917.8 1373.1 L1918.5 1374 L1919.2 1374.9 L1919.9 1375.5 L1920.4 1375.7 L1920.6 1375.7 L1921.3 1375.2 L1922 1374.4 L1922.7 1373.4 L1923.4 1372.5 L1924.1 1371.9 L1924.2 1371.9 L1924.8 1371.7 L1925.5 1371.6 L1926.2 1371.4 L1926.9 1371.3 L1927.6 1371.2 L1928.3 1371.1 L1929 1371.1 L1929.4 1371.1 L1929.7 1371.1 L1930.4 1371.5 L1931.1 1372.3 L1931.8 1373.3 L1932.5 1374.5 L1933.2 1375.7" fill="none" stroke="#6a6a6a" stroke-width="1.6" stroke-linejoin="round" stroke-linecap="round"/>
<path d="M388.5 1202.2V1237.4M557.4 1202.2V1237.4M686.2 1202.2V1237.4M795 1202.2V1237.4M890.6 1202.2V1237.4M977.3 1202.2V1237.4M1131.5 1202.2V1237.4M1201.4 1202.2V1237.4M1267 1202.2V1237.4M1331.2 1202.2V1237.4M1391.1 1202.2V1237.4M1448.3 1202.2V1237.4M1503.5 1202.2V1237.4M1609.6 1202.2V1237.4M1660.1 1202.2V1237.4M1707.8 1202.2V1237.4M1755.5 1202.2V1237.4M1802.1 1202.2V1237.4M1847.2 1202.2V1237.4" fill="none" stroke="#111" stroke-width="2" stroke-linecap="round"/>
</g>
<g stroke="#000" stroke-width="5.3" fill="none"><path d="M130.27 4.63 V18.7 M130.27 1472.70 V1458.2"/><path d="M279.68 4.63 V32.8 M279.68 1472.70 V1443.9"/><path d="M429.09 4.63 V18.7 M429.09 1472.70 V1458.2"/><path d="M578.50 4.63 V32.8 M578.50 1472.70 V1443.9"/><path d="M727.91 4.63 V18.7 M727.91 1472.70 V1458.2"/><path d="M877.32 4.63 V32.8 M877.32 1472.70 V1443.9"/><path d="M1026.73 4.63 V18.7 M1026.73 1472.70 V1458.2"/><path d="M1176.14 4.63 V32.8 M1176.14 1472.70 V1443.9"/><path d="M1325.55 4.63 V18.7 M1325.55 1472.70 V1458.2"/><path d="M1474.96 4.63 V32.8 M1474.96 1472.70 V1443.9"/><path d="M1624.37 4.63 V18.7 M1624.37 1472.70 V1458.2"/><path d="M1773.78 4.63 V32.8 M1773.78 1472.70 V1443.9"/><path d="M1923.19 4.63 V18.7 M1923.19 1472.70 V1458.2"/><rect x="115.3" y="4.63" width="1823.0" height="1468.07"/></g>
<path d="M118 1073.1 L358.1 1090.4 L358.6 1089 L359.1 1087.7 L359.6 1086.6 L360.1 1085.9 L360.1 1085.9 L360.6 1085.5 L361.1 1085.1 L361.6 1084.8 L362.1 1084.6 L362.6 1084.3 L363.1 1084.1 L363.6 1084 L364.1 1083.8 L364.6 1083.6 L365.1 1083.5 L365.7 1083.4 L366.2 1083.2 L366.7 1083.1 L367.2 1082.9 L367.7 1082.7 L368.2 1082.5 L368.7 1082.2 L369.2 1081.9 L369.4 1081.8 L369.7 1081.6 L370.2 1081.3 L370.7 1080.9 L371.2 1080.4 L371.7 1080 L372.2 1079.5 L372.7 1079 L373.2 1078.4 L373.7 1077.8 L374.2 1077.2 L374.7 1076.5 L375.2 1075.7 L375.7 1074.9 L376.2 1074.1 L376.7 1073.2 L377.2 1072.2 L377.6 1071.5 L377.7 1071.2 L378.2 1070 L378.7 1068.4 L379.2 1066.6 L379.7 1064.6 L380.2 1062.4 L380.8 1060 L381.3 1057.4 L381.8 1054.7 L382.3 1051.9 L382.8 1049 L382.8 1048.8 L383.3 1045.7 L383.8 1041.6 L384.3 1037.2 L384.8 1032.7 L385.3 1028.4 L385.8 1024.8 L385.9 1024.1 L386.3 1021.9 L386.8 1019.2 L387.3 1016.8 L387.8 1014.6 L388.3 1012.8 L388.8 1014 L389.3 1015.5 L389.8 1017.2 L390.3 1019.1 L390.8 1021.2 L391 1022 L391.3 1023.5 L391.8 1026.3 L392.3 1029.6 L392.8 1033.2 L393.3 1036.9 L393.8 1040.6 L394.3 1044.1 L394.8 1047.2 L395.1 1048.8 L395.3 1050 L395.8 1052.6 L396.3 1055.2 L396.8 1057.8 L397.3 1060.2 L397.8 1062.6 L398.3 1064.8 L398.8 1066.8 L399.3 1068.6 L399.8 1070.2 L400.3 1071.5 L400.3 1071.6 L400.8 1072.8 L401.3 1073.9 L401.8 1075 L402.3 1076 L402.8 1076.9 L403.3 1077.8 L403.8 1078.6 L404.3 1079.4 L404.8 1080.1 L405.4 1080.7 L405.9 1081.3 L406.4 1081.8 L406.4 1081.8 L406.9 1082.2 L407.4 1082.6 L407.9 1083 L408.4 1083.4 L408.9 1083.7 L409.4 1084.1 L409.9 1084.4 L410.4 1084.7 L410.9 1085 L411.4 1085.2 L411.9 1085.5 L412.4 1085.8 L412.9 1086 L413.4 1086.2 L413.9 1086.5 L414.4 1086.7 L414.9 1087 L415.4 1087.2 L415.9 1087.5 L416.4 1087.7 L416.7 1087.9 L416.9 1088 L417.4 1088.2 L417.9 1088.5 L418.4 1088.7 L418.9 1088.8 L419.4 1089 L419.9 1089.2 L420.4 1089.4 L420.9 1089.7 L421.4 1089.9 L421.9 1090.2 L422.4 1090.6 L422.9 1091 L422.9 1091 L423.4 1091.8 L423.9 1093.1 L424.4 1094.3 L424.9 1095.1 L425 1095.1 L425.4 1095.2 L425.9 1095.3 L426.4 1095.5 L426.9 1095.6 L427.4 1095.7 L427.9 1095.8 L428.4 1095.9 L428.9 1096.1 L429.4 1096.2 L429.9 1096.3 L430.4 1096.4 L430.9 1096.5 L431.4 1096.6 L431.9 1096.7 L432.4 1096.8 L432.9 1096.9 L433.4 1097 L433.9 1097.1 L434.4 1097.2 L434.9 1097.3 L435.4 1097.4 L435.9 1097.4 L436.4 1097.5 L436.9 1097.6 L437.4 1097.7 L437.9 1097.8 L438.4 1097.9 L439 1097.9 L439.5 1098 L440 1098.1 L440.5 1098.1 L441 1098.2 L441.5 1098.3 L442 1098.3 L442.5 1098.4 L443 1098.5 L443.5 1098.5 L444 1098.6 L444.5 1098.6 L445 1098.7 L445.5 1098.8 L446 1098.8 L446.5 1098.9 L447 1098.9 L447.5 1099 L448 1099 L448.5 1099.1 L449 1099.1 L449.5 1099.1 L450 1099.2 L450.5 1099.2 L451 1099.3 L451.5 1099.3 L452 1099.3 L452.5 1099.4 L453 1099.4 L453.5 1099.4 L454 1099.5 L454.5 1099.5 L455 1099.5 L455.5 1099.6 L456 1099.6 L456.5 1099.6 L457 1099.6 L457.5 1099.7 L458 1099.7 L458.5 1099.7 L459 1099.7 L459.5 1099.8 L460 1099.8 L460.5 1099.8 L461 1099.8 L461.5 1099.8 L462 1099.8 L462.5 1099.9 L463 1099.9 L463.5 1099.9 L464 1099.9 L464.5 1099.9 L465 1099.9 L465.5 1099.9 L466 1099.9 L466.5 1099.9 L467 1099.9 L467.5 1100 L468 1100 L468.5 1100 L469 1100 L469.5 1100 L470 1100 L470.5 1100 L471 1100 L471.5 1100 L472 1100 L472.6 1100 L473.1 1100 L473.6 1100 L474.1 1100 L474.4 1100 L474.6 1100 L475.1 1100 L475.6 1100 L476.1 1100 L476.6 1100 L477.1 1099.9 L477.6 1099.9 L478.1 1099.9 L478.6 1099.8 L479.1 1099.8 L479.6 1099.8 L480.1 1099.7 L480.6 1099.7 L481.1 1099.6 L481.6 1099.5 L482.1 1099.5 L482.6 1099.4 L483.1 1099.3 L483.6 1099.3 L484.1 1099.2 L484.6 1099.1 L485.1 1099 L485.6 1098.9 L486.1 1098.8 L486.6 1098.7 L487.1 1098.6 L487.6 1098.5 L488.1 1098.4 L488.6 1098.3 L489.1 1098.2 L489.6 1098 L490.1 1097.9 L490.6 1097.8 L491.1 1097.7 L491.6 1097.5 L492.1 1097.4 L492.6 1097.3 L493.1 1097.1 L493.6 1097 L494.1 1096.8 L494.6 1096.7 L495.1 1096.5 L495.6 1096.4 L496.1 1096.2 L496.6 1096.1 L497.1 1095.9 L497.6 1095.7 L498.1 1095.6 L498.6 1095.4 L499.1 1095.2 L499.6 1095 L500.1 1094.9 L500.6 1094.7 L501.1 1094.5 L501.6 1094.3 L502.1 1094.1 L502.6 1094 L503.1 1093.8 L503.6 1093.6 L504.1 1093.4 L504.6 1093.2 L505.1 1093 L505.6 1092.8 L506.2 1092.6 L506.7 1092.4 L507.2 1092.2 L507.7 1092 L508.2 1091.8 L508.7 1091.6 L509.2 1091.4 L509.7 1091.2 L510.2 1091 L510.7 1090.8 L511.2 1090.5 L511.7 1090.3 L512.2 1090.1 L512.7 1089.9 L513.2 1089.7 L513.7 1089.5 L514.2 1089.3 L514.7 1089 L515.2 1088.8 L515.7 1088.6 L516.2 1088.4 L516.7 1088.2 L517.2 1087.9 L517.7 1087.7 L518.2 1087.5 L518.7 1087.3 L519.2 1087.1 L519.7 1086.8 L520.2 1086.6 L520.7 1086.4 L521.2 1086.2 L521.7 1085.9 L521.8 1085.9 L522.2 1085.7 L522.7 1085.5 L523.2 1085.2 L523.7 1085 L524.2 1084.7 L524.7 1084.4 L525.2 1084.1 L525.7 1083.8 L526.2 1083.5 L526.7 1083.2 L527.2 1082.8 L527.7 1082.5 L528.2 1082.1 L528.7 1081.7 L529.2 1081.3 L529.7 1080.9 L530 1080.7 L530.2 1080.5 L530.7 1080.1 L531.2 1079.7 L531.7 1079.3 L532.2 1078.8 L532.7 1078.4 L533.2 1077.9 L533.7 1077.5 L534.2 1077 L534.7 1076.5 L535.2 1076 L535.7 1075.4 L536.2 1074.9 L536.7 1074.3 L537.2 1073.7 L537.7 1073 L538.2 1072.3 L538.7 1071.6 L539.2 1070.8 L539.8 1070 L540.3 1069.2 L540.8 1068.3 L541.3 1067.4 L541.8 1066.4 L542.3 1065.4 L542.3 1065.3 L542.8 1064.2 L543.3 1062.7 L543.8 1060.9 L544.3 1058.9 L544.8 1056.7 L545.3 1054.3 L545.8 1051.8 L546.3 1049.1 L546.8 1046.3 L547.3 1043.5 L547.8 1040.6 L548.3 1037.8 L548.5 1036.5 L548.8 1034.8 L549.3 1031.4 L549.8 1027.7 L550.3 1023.7 L550.8 1019.7 L551.3 1015.9 L551.8 1012.3 L552.3 1009.2 L552.6 1007.6 L552.8 1006.7 L553.3 1004.4 L553.8 1002.3 L554.3 1000.3 L554.8 998.4 L555.3 996.8 L555.8 995.4 L556.3 994.3 L556.8 994.4 L557.3 994.8 L557.8 995.4 L558.3 996.2 L558.8 997.1 L559.3 998.3 L559.8 999.5 L560.3 1000.9 L560.7 1002 L560.8 1002.4 L561.3 1004.9 L561.8 1008.6 L562.3 1012.9 L562.8 1017.4 L563.3 1021.6 L563.7 1024.4 L563.8 1025.2 L564.3 1028.6 L564.8 1032.1 L565.3 1035.4 L565.8 1038.6 L566.3 1041.6 L566.8 1044.2 L567.3 1046.3 L567.5 1046.9 L567.8 1048 L568.3 1049.6 L568.8 1051 L569.3 1052.4 L569.8 1053.6 L570.3 1054.8 L570.8 1055.9 L571.3 1056.9 L571.8 1057.8 L572.3 1058.6 L572.8 1059.4 L573.3 1060.1 L573.5 1060.3 L573.8 1060.8 L574.4 1061.4 L574.9 1062 L575.4 1062.7 L575.9 1063.3 L576.4 1063.8 L576.9 1064.4 L577.4 1064.9 L577.9 1065.3 L578.4 1065.8 L578.9 1066.1 L579.4 1066.4 L579.9 1066.7 L580.4 1066.9 L580.9 1067 L580.9 1067 L581.4 1067.1 L581.9 1067.1 L582.4 1067.2 L582.9 1067.3 L583.4 1067.3 L583.9 1067.4 L584.4 1067.4 L584.9 1067.5 L585.4 1067.5 L585.9 1067.6 L586.4 1067.6 L586.9 1067.6 L587.4 1067.7 L587.9 1067.7 L588.4 1067.7 L588.9 1067.8 L589.4 1067.8 L589.9 1067.8 L590.4 1067.8 L590.9 1067.8 L591.4 1067.8 L592.1 1065.6 L593 1067.8 L593.5 1067.8 L594 1067.7 L594.5 1067.6 L595 1067.6 L595.5 1067.5 L596 1067.5 L596.5 1067.4 L597 1067.3 L597.5 1067.2 L598 1067.2 L598.6 1067.1 L599.1 1067 L599.6 1066.9 L600.1 1066.8 L600.6 1066.7 L601.1 1066.6 L601.6 1066.5 L602.1 1066.4 L602.6 1066.3 L603.1 1066.2 L603.6 1066.1 L604.1 1066 L604.6 1065.9 L605.1 1065.8 L605.6 1065.7 L606.1 1065.6 L606.6 1065.4 L607.1 1065.3 L607.6 1065.2 L608.1 1065.1 L608.6 1065 L609.1 1064.8 L609.3 1064.8 L609.7 1064.7 L610.2 1064.6 L610.7 1064.5 L611.2 1064.3 L611.7 1064.2 L612.2 1064.1 L612.7 1063.9 L613.2 1063.8 L613.7 1063.6 L614.2 1063.5 L614.7 1063.3 L615.2 1063.1 L615.7 1062.9 L616.2 1062.7 L616.7 1062.5 L617.2 1062.3 L617.7 1062.1 L618.2 1061.8 L618.3 1061.8 L618.7 1061.6 L619.2 1061.2 L619.7 1060.8 L620.2 1060.4 L620.8 1060 L621.3 1059.5 L621.8 1058.9 L622.3 1058.4 L622.8 1057.8 L623.3 1057.2 L623.8 1056.6 L624.3 1056.1 L624.8 1055.5 L625.3 1054.9 L625.8 1054.3 L625.8 1054.3 L626.3 1053.7 L626.8 1053.2 L627.3 1052.7 L627.8 1052.2 L628.3 1051.7 L628.8 1051.2 L629.3 1050.7 L629.8 1050.2 L630.3 1049.7 L630.8 1049.2 L631.3 1048.6 L631.9 1048 L632.4 1047.4 L632.9 1046.7 L633.4 1046 L633.9 1045.2 L634.4 1044.4 L634.9 1043.5 L635.4 1042.5 L635.9 1041.5 L636.2 1040.8 L636.4 1040.2 L636.9 1038.2 L637.4 1039.2 L637.7 1039.4 L637.9 1039.4 L638.4 1039.1 L638.9 1038.7 L639.4 1038.1 L639.9 1037.3 L640.4 1036.5 L640.9 1035.5 L641.4 1034.6 L641.9 1033.6 L642.4 1032.8 L642.9 1032 L643 1031.9 L643.5 1031.3 L644 1030.5 L644.5 1029.8 L645 1029.1 L645.5 1028.4 L646 1027.6 L646.5 1026.9 L647 1026.2 L647.5 1025.5 L648 1024.7 L648.2 1024.4 L648.5 1024 L649 1023.2 L649.5 1022.5 L650 1021.8 L650.5 1021.1 L651 1020.5 L651.5 1019.8 L652 1019.1 L652.5 1018.4 L653 1017.7 L653.5 1017 L654 1016.2 L654.5 1015.5 L655 1014.7 L655.6 1013.8 L656.1 1013 L656.6 1012.1 L657.1 1011.2 L657.6 1010.2 L657.9 1009.5 L658.1 1009.1 L658.6 1008 L659.1 1006.8 L659.6 1005.6 L660.1 1004.2 L660.6 1002.8 L661.1 1001.3 L661.6 999.7 L662.1 998 L662.6 996.3 L663.1 994.5 L663.1 994.4 L663.6 992.5 L664.1 990.3 L664.6 988 L665.1 985.4 L665.6 982.5 L666.1 979.6 L666.1 979.3 L666.6 975.7 L667.1 971.5 L667.7 966.7 L668.2 961.3 L668.7 955.4 L669.1 949.7 L669.2 948.8 L669.7 941.1 L670.2 931.8 L670.7 921.4 L671.2 910 L671.4 904.8 L671.7 897.6 L672.2 882.9 L672.7 866.8 L672.9 860 L673.2 849.9 L673.7 831.8 L674.2 812.3 L674.5 800 L674.7 790.9 L675.2 767.2 L675.7 741.7 L676.2 715 L676.5 700 L676.7 687.7 L677.2 659.8 L677.7 630.1 L678.2 600 L678.2 597.4 L678.7 559.7 L679.2 518.1 L679.7 480 L679.8 475.8 L680.3 432.1 L680.4 420 L680.8 389.4 L681.3 347.3 L681.7 320 L681.8 317 L682.3 298.7 L682.8 283.9 L683 275 L683.3 266.6 L683.8 246.8 L684.3 228.5 L684.4 225 L684.8 213.7 L685.3 200.8 L685.8 190 L686.3 200.7 L686.8 213.6 L687.2 225 L687.3 228.3 L687.8 246.5 L688.3 266.2 L688.5 275 L688.8 283.5 L689.3 298.3 L689.8 316.3 L689.9 320 L690.3 347.7 L690.8 391.2 L691.2 420 L691.3 427.6 L691.8 454 L692.3 480 L692.3 481.9 L692.8 517.7 L693.3 557.5 L693.8 595.6 L693.9 600 L694.3 628.5 L694.8 659.2 L695.3 690 L695.5 700 L695.8 723.3 L696.3 758.7 L696.8 791.5 L697 800 L697.4 819.3 L697.9 844.5 L698.3 860 L698.4 861.3 L698.9 871.7 L699.4 879.9 L699.9 886.6 L700.4 892.6 L700.9 898.8 L701.3 904.8 L701.4 905.9 L701.9 913.9 L702.4 922.2 L702.9 930.4 L703.4 938.4 L703.9 945.6 L704.2 949.7 L704.4 951.9 L704.9 957.9 L705.4 963.5 L705.9 968.7 L706.4 973.4 L706.9 977.5 L707.2 979.6 L707.4 980.8 L707.9 983.9 L708.4 986.7 L708.9 989.4 L709.4 991.9 L709.9 994.3 L710.4 996.5 L710.9 998.6 L711.4 1000.6 L711.9 1002.5 L712.4 1004.2 L712.9 1006 L713.4 1007.6 L713.9 1009.3 L714 1009.5 L714.4 1010.8 L714.9 1012.3 L715.4 1013.7 L715.9 1015.1 L716.4 1016.4 L716.9 1017.6 L717.4 1018.8 L717.9 1020 L718.4 1021.1 L718.9 1022.3 L719.5 1023.4 L719.9 1024.4 L720 1024.5 L720.5 1025.6 L721 1026.7 L721.5 1027.8 L722 1028.8 L722.5 1029.9 L723 1030.9 L723.5 1031.9 L724 1032.8 L724.5 1033.8 L725 1034.8 L725.5 1035.7 L726 1036.7 L726.5 1037.7 L727 1038.6 L727.4 1039.4 L727.5 1039.6 L728 1040.5 L728.5 1041.4 L729 1042.4 L729.5 1043.3 L730 1044.2 L730.5 1045.1 L731 1046 L731.5 1046.9 L732 1047.8 L732.5 1048.7 L733 1049.5 L733.5 1050.4 L734 1051.4 L734.5 1052.3 L735 1053.2 L735.5 1054.2 L735.6 1054.3 L736 1055.1 L736.5 1056.1 L737 1057 L737.5 1058 L738 1058.9 L738.5 1059.9 L739 1060.8 L739.5 1061.8 L740 1062.8 L740.5 1063.8 L741 1064.8 L741.6 1065.9 L742.1 1066.9 L742.6 1068 L743.1 1069.1 L743.1 1069.2 L743.6 1070.2 L744.1 1071.4 L744.6 1072.6 L745.1 1073.8 L745.6 1075 L746.1 1076.3 L746.6 1077.5 L747.1 1078.8 L747.6 1080.1 L748.1 1081.5 L748.6 1082.8 L749.1 1084.2 L749.1 1084.2 L749.6 1085.5 L750.1 1087 L750.6 1088.4 L751.1 1089.9 L751.6 1091.4 L752.1 1092.9 L752.6 1094.5 L753.1 1079.4 L753.7 1067.3 L754.2 1059.6 L754.3 1058.8 L754.7 1056 L755.3 1053.5 L755.8 1052.5 L756.6 1055 L757.1 1053.8 L757.6 1052.6 L758.1 1051.5 L758.6 1050.6 L759.1 1050 L759.2 1050 L759.6 1049.8 L760.1 1049.5 L760.6 1049.3 L761.1 1049.1 L761.7 1048.9 L762.2 1048.8 L762.7 1048.7 L763.2 1048.5 L763.7 1048.4 L764.2 1048.4 L764.7 1048.3 L765.2 1048.2 L765.7 1048.1 L766.2 1048 L766.7 1047.9 L767.2 1047.7 L767.7 1047.6 L768.2 1047.4 L768.7 1047.2 L769.1 1047 L769.2 1046.9 L769.7 1046.6 L770.2 1046.3 L770.7 1045.9 L771.3 1045.5 L771.8 1045 L772.3 1044.5 L772.8 1044 L773.3 1043.3 L773.8 1042.6 L774.3 1041.9 L774.8 1041.1 L775.3 1040.3 L775.8 1039.4 L776 1039 L776.3 1038.4 L776.8 1037 L777.3 1035.4 L777.8 1033.6 L778.3 1031.4 L778.8 1029.1 L779.3 1026.5 L779.8 1023.7 L780.4 1020.8 L780.9 1017.7 L780.9 1017.4 L781.4 1014.2 L781.9 1010 L782.4 1005.2 L782.9 999.9 L783.4 994.1 L783.9 988 L783.9 987.8 L784.4 981.2 L784.9 973.6 L785.4 965.2 L785.9 956 L786.4 946.3 L786.8 938.4 L786.9 935.8 L787.4 923.4 L787.9 909.7 L788.4 896.6 L788.5 895 L788.9 884.6 L789.4 873 L790 861.8 L790.5 850.9 L790.5 850 L791 840 L791.5 829.2 L792 819.1 L792.5 810.3 L792.5 810 L793 802.9 L793.5 796.1 L794 790.2 L794.5 785.3 L795 790.5 L795.5 796.4 L796 803 L796.5 810 L796.5 810.1 L797 818.3 L797.5 827.5 L798 837.2 L798.5 846.7 L798.7 850 L799 855.6 L799.5 864.3 L800 873 L800.5 881.6 L801 890 L801 890.5 L801.5 899.8 L802 909.3 L802.5 918.9 L803 928.3 L803.5 937.4 L803.6 938.4 L804 946.3 L804.5 955.2 L805 964 L805.6 972.5 L806.1 980.3 L806.6 987.2 L806.6 987.8 L807.1 993.5 L807.6 999.5 L808.1 1005.1 L808.6 1010.5 L809.1 1015.4 L809.6 1020 L810.1 1024.1 L810.5 1027.2 L810.6 1027.7 L811.1 1031 L811.6 1034.2 L812.1 1037.2 L812.6 1040 L813.1 1042.7 L813.6 1045.2 L814.1 1047.6 L814.6 1049.8 L815.1 1051.9 L815.6 1053.9 L816.1 1055.7 L816.4 1056.8 L816.6 1057.5 L817.1 1059.2 L817.6 1060.8 L818.1 1062.4 L818.6 1063.9 L819.1 1065.4 L819.6 1066.8 L820.1 1068 L820.6 1069.2 L821.1 1070.3 L821.6 1071.3 L822.1 1072.2 L822.4 1072.6 L822.6 1072.9 L823.1 1073.7 L823.6 1074.3 L824.1 1075 L824.6 1075.6 L825.1 1076.2 L825.6 1076.8 L826.1 1077.3 L826.6 1077.8 L827.1 1078.3 L827.7 1078.7 L828.2 1079.1 L828.7 1079.5 L829.2 1079.8 L829.7 1080.2 L830.2 1080.4 L830.3 1080.5 L830.7 1080.7 L831.2 1080.8 L831.7 1081 L832.2 1081.1 L832.7 1081.2 L833.2 1081.3 L833.7 1081.4 L834.2 1081.5 L834.7 1081.7 L835.2 1081.9 L835.7 1082.2 L836.2 1082.5 L836.2 1082.5 L836.7 1083.9 L837.2 1087.1 L837.7 1091.1 L838.2 1095.3 L838.7 1093.7 L839.2 1092.2 L839.7 1090.9 L840.2 1089.7 L840.7 1088.6 L841.2 1087.5 L841.7 1086.6 L842.2 1085.8 L842.7 1085.1 L843.2 1084.5 L843.7 1084 L844.2 1083.5 L844.7 1083.2 L845.2 1082.9 L845.7 1082.7 L846.2 1082.6 L846.7 1082.5 L847 1082.5 L847.2 1082.6 L847.7 1083 L848.2 1083.6 L848.7 1084.4 L849.2 1085 L849.7 1085.4 L850 1085.5 L850.2 1085.5 L850.7 1085.5 L851.3 1085.4 L851.8 1085.3 L852.3 1085.2 L852.8 1085 L853.3 1084.9 L853.8 1084.8 L854.3 1084.7 L854.8 1084.6 L855.3 1084.5 L855.8 1084.5 L855.9 1084.5 L856.3 1084.5 L856.8 1084.7 L857.3 1084.9 L857.8 1085.3 L858.3 1085.7 L858.8 1086.2 L859.3 1086.7 L859.8 1087.3 L860.3 1087.8 L860.8 1088.4 L861.3 1089 L861.8 1089.6 L862.3 1090.1 L862.8 1090.6 L863.3 1091 L863.8 1091.4 L863.8 1091.4 L864.3 1091.7 L864.8 1092.1 L865.3 1092.4 L865.8 1092.7 L866.3 1093.1 L866.8 1093.4 L867.3 1093.7 L867.8 1094 L868.3 1094.3 L868.8 1094.5 L869.3 1094.8 L869.8 1095 L870.3 1095.1 L870.8 1095.2 L871.3 1095.3 L871.7 1095.3 L871.8 1095.3 L872.3 1095.3 L872.8 1095.2 L873.3 1095 L873.8 1094.8 L874.3 1094.6 L874.8 1094.4 L875.3 1094 L875.8 1093.7 L876.3 1093.3 L876.8 1092.9 L877.4 1092.5 L877.9 1092.1 L878.4 1091.6 L878.9 1091.1 L879.4 1090.6 L879.6 1090.4 L879.9 1090.1 L880.4 1089.4 L880.9 1088.4 L881.4 1087.4 L881.9 1086.1 L882.4 1084.8 L882.9 1083.5 L883.4 1082.1 L883.9 1080.7 L884.4 1079.3 L884.9 1078 L885.4 1076.9 L885.5 1076.6 L885.9 1075.8 L886.4 1074.7 L886.9 1073.7 L887.4 1072.6 L887.9 1071.6 L888.4 1070.6 L888.9 1069.6 L889.4 1068.7 L889.9 1067.7 L890.4 1068.4 L890.9 1069.1 L891.4 1070 L891.9 1070.9 L892.4 1071.9 L892.9 1073 L893.4 1074.2 L893.9 1075.4 L894.4 1076.6 L894.4 1076.6 L894.9 1078.1 L895.4 1079.8 L895.9 1081.6 L896.4 1083.6 L896.9 1085.7 L897.4 1087.8 L897.9 1089.7 L898.4 1091.6 L898.9 1093.2 L899.3 1094.3 L899.4 1094.6 L899.9 1095.9 L900.4 1097.1 L900.9 1098.3 L901.4 1099.4 L901.9 1100.5 L902.4 1101.5 L902.9 1102.5 L903.4 1103.4 L903.9 1104.2 L904.4 1105 L904.9 1105.7 L905.3 1106.2 L905.4 1106.4 L905.9 1107 L906.4 1107.5 L906.9 1108.1 L907.4 1108.6 L907.9 1109.1 L908.4 1109.6 L908.9 1110.1 L909.4 1110.5 L909.9 1110.9 L910.5 1111.3 L911 1111.7 L911.5 1112.1 L912 1112.4 L912.5 1112.7 L913 1113 L913.2 1113.1 L913.5 1113.2 L914 1113.5 L914.5 1113.7 L915 1114 L915.5 1114.2 L916 1114.4 L916.5 1114.7 L917 1114.9 L917.5 1115.1 L918 1115.3 L918.5 1115.5 L919 1115.6 L919.5 1115.8 L920 1116 L920.5 1116.2 L921 1116.3 L921.5 1116.5 L922 1116.6 L922.5 1116.8 L923 1116.9 L923.5 1117.1 L924 1117.2 L924.5 1117.4 L925 1117.5 L925.5 1117.6 L926 1117.8 L926.5 1117.9 L927 1118 L927 1118 L927.5 1118.1 L928 1118.2 L928.5 1118.2 L929 1118.3 L929.5 1118.5 L929.5 1118.5 L930 1119.9 L930.5 1122.5 L931 1122.5 L931.5 1122.5 L932 1122.5 L932.5 1122.5 L933 1122.5 L933.5 1122.4 L934 1122.4 L934.5 1122.4 L935 1122.4 L935.5 1122.4 L936 1122.3 L936.5 1122.3 L937 1122.3 L937.5 1122.3 L938 1122.2 L938.5 1122.2 L939 1122.2 L939.5 1122.1 L940 1122.1 L940.5 1122 L941 1122 L941.2 1122 L941.5 1122 L942 1121.9 L942.5 1121.9 L943 1121.8 L943.5 1121.8 L944 1121.7 L944.5 1121.7 L945 1121.6 L945.5 1121.5 L946.1 1121.4 L946.6 1121.4 L947.1 1121.3 L947.6 1121.2 L948.1 1121.1 L948.6 1121 L949.1 1120.9 L949.6 1120.8 L950.1 1120.7 L950.6 1120.6 L951.1 1120.4 L951.6 1120.3 L952.1 1120.2 L952.6 1120.1 L953.1 1119.9 L953.5 1119.8 L953.6 1119.8 L954.1 1119.6 L954.6 1119.4 L955.1 1119.2 L955.6 1119 L956.1 1118.7 L956.6 1118.5 L957.1 1118.2 L957.6 1117.9 L958.1 1117.5 L958.6 1117.2 L959.1 1116.8 L959.6 1116.4 L960.1 1116 L960.6 1115.6 L961.1 1115.2 L961.6 1114.7 L962.1 1114.3 L962.6 1113.8 L963.1 1113.3 L963.6 1112.8 L963.8 1112.6 L964.1 1112.3 L964.6 1111.6 L965.1 1110.9 L965.6 1110.1 L966.1 1109.3 L966.6 1108.4 L967.1 1107.4 L967.6 1106.5 L968.1 1105.5 L968.6 1104.5 L969.1 1103.4 L969.6 1102.5 L970.1 1101.5 L970.6 1100.6 L971.1 1099.7 L971.6 1098.9 L972.1 1098.2 L972.1 1098.2 L972.6 1097.4 L973.1 1096.6 L973.6 1095.8 L974.1 1095 L974.6 1094.2 L975.1 1093.5 L975.6 1092.9 L976.1 1092.3 L976.7 1091.9 L977.2 1091.7 L977.6 1091.6 L977.7 1091.6 L978.2 1091.8 L978.7 1092.2 L979.2 1092.8 L979.7 1093.5 L980.2 1094.4 L980.7 1095.3 L981.2 1096.2 L981.7 1097.2 L982.2 1098 L982.3 1098.2 L982.7 1098.8 L983.2 1099.6 L983.7 1100.5 L984.2 1101.4 L984.7 1102.3 L985.2 1103.3 L985.7 1104.2 L986.2 1105.1 L986.7 1105.9 L987.2 1106.7 L987.7 1107.5 L988.2 1108.1 L988.5 1108.5 L988.7 1108.7 L989.2 1109.3 L989.7 1109.8 L990.2 1110.3 L990.7 1110.9 L991.2 1111.4 L991.7 1111.9 L992.2 1112.4 L992.7 1112.8 L993.2 1113.3 L993.7 1113.7 L994.2 1114.1 L994.7 1114.5 L995.2 1114.9 L995.7 1115.2 L996.2 1115.5 L996.7 1115.8 L997.2 1116.1 L997.7 1116.3 L998.2 1116.5 L998.7 1116.7 L998.8 1116.7 L999.2 1116.8 L999.7 1117 L1000.2 1117.1 L1000.7 1117.2 L1001.2 1117.4 L1001.7 1117.5 L1002.2 1117.6 L1002.7 1117.7 L1003.2 1117.9 L1003.7 1118 L1004.2 1118.1 L1004.7 1118.2 L1005.2 1118.3 L1005.7 1118.4 L1006.2 1118.5 L1006.7 1118.6 L1007.2 1118.7 L1007.8 1118.8 L1008.3 1118.9 L1008.8 1119 L1009.3 1119.1 L1009.8 1119.1 L1010.3 1119.2 L1010.8 1119.3 L1011.3 1119.3 L1011.8 1119.4 L1012.3 1119.5 L1012.8 1119.5 L1013.3 1119.6 L1013.8 1119.6 L1014.3 1119.6 L1014.8 1119.7 L1015.3 1119.7 L1015.8 1119.7 L1016.3 1119.8 L1016.8 1119.8 L1017.3 1119.8 L1017.8 1119.8 L1018.3 1119.8 L1018.4 1119.8 L1018.8 1119.8 L1019.3 1119.8 L1019.8 1119.8 L1020.3 1119.8 L1020.8 1119.8 L1021.3 1119.8 L1021.8 1119.8 L1022.3 1119.8 L1022.8 1119.8 L1023.3 1119.8 L1023.8 1119.8 L1024.3 1119.8 L1024.8 1119.8 L1025.3 1119.8 L1025.8 1119.7 L1026.3 1119.7 L1026.8 1119.7 L1027.3 1119.7 L1027.8 1119.7 L1028.3 1119.7 L1028.8 1119.7 L1029.3 1119.7 L1029.8 1119.6 L1030.3 1119.6 L1030.8 1119.6 L1031.3 1119.6 L1031.8 1119.6 L1032.3 1119.5 L1032.8 1119.5 L1033.3 1119.5 L1033.8 1119.5 L1034.3 1119.4 L1034.8 1119.4 L1035.3 1119.4 L1035.8 1119.3 L1036.3 1119.3 L1036.8 1119.2 L1037.3 1119.2 L1037.8 1119.1 L1038.4 1119.1 L1038.9 1119 L1039.4 1119 L1039.9 1118.9 L1040.4 1118.9 L1040.9 1118.8 L1041.4 1118.8 L1041.9 1118.7 L1042.4 1118.6 L1042.9 1118.6 L1043.4 1118.5 L1043.9 1118.4 L1044.4 1118.3 L1044.9 1118.3 L1045.4 1118.2 L1045.9 1118.1 L1046.4 1118 L1046.9 1117.9 L1047.4 1117.8 L1047.9 1117.7 L1048.4 1117.6 L1048.9 1117.5 L1049.4 1117.4 L1049.9 1117.3 L1050.4 1117.2 L1050.9 1117.1 L1051.4 1116.9 L1051.9 1116.8 L1052.3 1116.7 L1052.4 1116.6 L1052.9 1113 L1053.4 1108.1 L1085.3 1111.6 L1085.8 1107.9 L1086.3 1104.4 L1086.8 1102.4 L1086.9 1102.3 L1087.3 1102 L1087.8 1101.7 L1088.3 1101.5 L1088.8 1101.2 L1089.3 1101 L1089.8 1100.9 L1090.3 1100.8 L1090.8 1100.6 L1091.4 1100.5 L1091.9 1100.5 L1092.4 1100.4 L1092.9 1100.3 L1093.4 1100.2 L1093.9 1100.2 L1094.4 1100.1 L1094.9 1100 L1095.4 1099.9 L1095.9 1099.8 L1096.4 1099.6 L1096.9 1099.5 L1097.4 1099.3 L1097.6 1099.2 L1097.9 1099.1 L1098.4 1098.8 L1098.9 1098.5 L1099.4 1098.2 L1099.9 1097.9 L1100.4 1097.5 L1100.9 1097.1 L1101.4 1096.7 L1101.9 1096.2 L1102.4 1095.8 L1103 1095.3 L1103.5 1094.8 L1104 1094.2 L1104.5 1093.7 L1105 1093.1 L1105.5 1092.5 L1105.9 1092 L1106 1091.9 L1106.5 1091.3 L1107 1090.6 L1107.5 1089.9 L1108 1089.1 L1108.5 1088.3 L1109 1087.4 L1109.5 1086.5 L1110 1085.5 L1110.5 1084.5 L1111 1083.4 L1111.5 1082.3 L1112 1081.1 L1112.5 1079.9 L1113 1078.6 L1113.5 1077.2 L1114 1075.8 L1114.1 1075.6 L1114.5 1074.2 L1115.1 1072.5 L1115.6 1070.6 L1116.1 1068.5 L1116.6 1066.2 L1117.1 1063.8 L1117.6 1061.2 L1118.1 1058.5 L1118.6 1055.6 L1119.1 1052.6 L1119.6 1049.4 L1120.1 1046.1 L1120.3 1044.7 L1120.6 1042.5 L1121.1 1038.3 L1121.6 1033.5 L1122.1 1028.3 L1122.6 1022.8 L1123.1 1017.2 L1123.6 1011.7 L1124.1 1006.3 L1124.4 1003.5 L1124.6 1001.1 L1125.1 996 L1125.6 990.8 L1126.1 985.7 L1126.7 980.5 L1127.2 975.4 L1127.7 970.4 L1128.2 965.5 L1128.5 962.3 L1128.7 960.7 L1129.2 956 L1129.7 951.4 L1130.2 946.8 L1130.7 942.4 L1131.2 938 L1131.7 933.6 L1132.2 929.4 L1132.7 933.3 L1133.2 937.4 L1133.7 941.9 L1134.2 946.7 L1134.7 951.7 L1135.2 957 L1135.7 962.3 L1135.7 962.5 L1136.2 968.5 L1136.7 975.2 L1137.2 982.3 L1137.7 989.5 L1138.2 996.3 L1138.7 1002.7 L1138.8 1003.5 L1139.2 1008.4 L1139.7 1014.2 L1140.2 1019.8 L1140.7 1025.3 L1141.2 1030.5 L1141.7 1035.3 L1142.2 1039.7 L1142.7 1043.6 L1142.9 1044.7 L1143.2 1047 L1143.7 1050.3 L1144.2 1053.4 L1144.8 1056.4 L1145.3 1059.2 L1145.8 1061.9 L1146.3 1064.5 L1146.8 1066.8 L1147.3 1069 L1147.8 1071.1 L1148.3 1072.9 L1148.8 1074.6 L1149.1 1075.6 L1149.3 1076.1 L1149.8 1077.5 L1150.3 1078.9 L1150.8 1080.1 L1151.3 1081.4 L1151.8 1082.6 L1152.3 1083.7 L1152.8 1084.7 L1153.3 1085.8 L1153.8 1086.7 L1154.3 1087.6 L1154.8 1088.5 L1155.3 1089.3 L1155.8 1090 L1156.3 1090.7 L1156.8 1091.4 L1157.3 1092 L1157.3 1092 L1157.8 1092.6 L1158.3 1093.1 L1158.8 1093.7 L1159.3 1094.2 L1159.8 1094.7 L1160.3 1095.1 L1160.8 1095.6 L1161.3 1096 L1161.8 1096.4 L1162.3 1096.8 L1162.8 1097.2 L1163.3 1097.6 L1163.8 1097.9 L1164.3 1098.3 L1164.8 1098.6 L1165.3 1098.9 L1165.8 1099.2 L1166.3 1099.6 L1166.8 1099.9 L1167.3 1100.2 L1167.6 1100.3 L1167.8 1100.4 L1168.4 1100.7 L1168.9 1100.9 L1169.4 1101.1 L1169.9 1101.3 L1170.4 1101.4 L1170.9 1101.6 L1171.4 1101.7 L1171.9 1101.8 L1172.4 1101.9 L1172.9 1102.1 L1173.4 1102.2 L1173.9 1102.3 L1174.4 1102.5 L1174.9 1102.7 L1175.4 1102.9 L1175.9 1103.1 L1176.4 1103.4 L1176.9 1103.7 L1177.4 1104 L1177.9 1104.4 L1178.4 1104.9 L1178.9 1105.4 L1178.9 1105.4 L1179.4 1107.1 L1179.9 1110.3 L1180.4 1113.7 L1180.9 1113.7 L1181.4 1113.6 L1181.9 1113.5 L1182.4 1113.4 L1182.9 1113.3 L1183.4 1113.1 L1183.9 1112.9 L1184.4 1112.7 L1184.9 1112.5 L1185.4 1112.2 L1185.9 1111.9 L1186.4 1111.7 L1186.9 1111.4 L1187.4 1111.1 L1187.9 1110.8 L1188.2 1110.6 L1188.4 1110.5 L1188.9 1110.1 L1189.4 1109.6 L1189.9 1109.1 L1190.4 1108.5 L1190.9 1107.8 L1191.4 1107.1 L1191.9 1106.4 L1192.4 1105.6 L1192.9 1104.9 L1193.4 1104.1 L1193.9 1103.4 L1194.4 1102.7 L1194.9 1102 L1195.4 1101.4 L1195.9 1100.8 L1196.4 1100.3 L1196.4 1100.3 L1196.9 1099.8 L1197.4 1099.2 L1197.9 1098.7 L1198.4 1098.2 L1198.9 1097.7 L1199.4 1097.2 L1199.9 1096.8 L1200.4 1096.5 L1200.9 1096.3 L1201.4 1096.2 L1201.6 1096.2 L1201.9 1096.2 L1202.4 1096.5 L1202.9 1096.8 L1203.4 1097.3 L1203.9 1097.8 L1204.4 1098.5 L1204.9 1099.1 L1205.5 1099.8 L1206 1100.4 L1206.5 1101 L1206.7 1101.3 L1207 1101.6 L1207.5 1102.1 L1208 1102.7 L1208.5 1103.4 L1209 1104 L1209.5 1104.6 L1210 1105.3 L1210.5 1106 L1211 1106.6 L1211.5 1107.2 L1212 1107.8 L1212.5 1108.4 L1213 1108.9 L1213.5 1109.4 L1214 1109.9 L1214.5 1110.3 L1215 1110.6 L1215 1110.6 L1215.5 1110.9 L1216 1111.1 L1216.5 1111.4 L1217 1111.7 L1217.5 1111.9 L1218 1112.2 L1218.5 1112.4 L1219 1112.7 L1219.5 1112.9 L1220 1113.1 L1220.5 1113.3 L1221 1113.5 L1221.5 1113.7 L1222 1113.9 L1222.5 1114.1 L1223 1114.3 L1223.5 1114.4 L1224 1114.6 L1224.5 1114.7 L1225 1114.9 L1225.5 1115 L1226 1115.1 L1226.5 1115.2 L1227 1115.3 L1227.5 1115.4 L1228 1115.5 L1228.5 1115.6 L1229 1115.7 L1229.4 1115.7 L1229.5 1115.7 L1230 1115.8 L1230.5 1115.8 L1231 1115.9 L1231.5 1115.9 L1232 1115.9 L1232.5 1116 L1233 1116 L1233.5 1116.1 L1234 1116.1 L1234.5 1116.1 L1235 1116.2 L1235.5 1116.2 L1236 1116.3 L1236.5 1116.3 L1237 1116.3 L1237.5 1116.4 L1238 1116.4 L1238.5 1116.4 L1239 1116.4 L1239.5 1116.5 L1240 1116.5 L1240.5 1116.5 L1241 1116.5 L1241.5 1116.6 L1242 1116.6 L1242.5 1116.6 L1243 1116.6 L1243.5 1116.6 L1244 1116.6 L1244.5 1116.7 L1245 1116.7 L1245.5 1116.7 L1246 1116.7 L1246.5 1116.7 L1247 1116.7 L1247.5 1116.7 L1247.9 1116.7 L1248 1116.7 L1248.5 1116.7 L1249 1116.6 L1249.5 1116.5 L1250 1116.4 L1250.5 1116.3 L1251 1116.1 L1251.5 1115.9 L1252 1115.7 L1252.5 1115.5 L1253 1115.3 L1253.5 1115 L1254 1114.8 L1254.5 1114.5 L1255.1 1114.2 L1255.6 1114 L1256.1 1113.7 L1256.6 1113.4 L1257.1 1113.2 L1257.6 1112.9 L1258.1 1112.7 L1258.2 1112.6 L1258.6 1112.4 L1259.1 1112.1 L1259.6 1111.8 L1260.1 1111.5 L1260.6 1111.1 L1261.1 1110.7 L1261.6 1110.3 L1262.1 1109.9 L1262.6 1109.6 L1263.1 1109.2 L1263.6 1108.8 L1264.1 1108.5 L1264.6 1108.2 L1265.1 1108 L1265.6 1107.8 L1266.1 1107.6 L1266.6 1107.5 L1267 1107.5 L1267.1 1107.5 L1267.6 1107.6 L1268.1 1107.7 L1268.6 1107.9 L1269.1 1108.1 L1269.6 1108.4 L1270.1 1108.8 L1270.6 1109.1 L1271.1 1109.5 L1271.6 1109.9 L1272.1 1110.2 L1272.6 1110.6 L1272.6 1110.6 L1273.1 1110.9 L1273.6 1111.3 L1274.1 1111.7 L1274.6 1112.1 L1275.1 1112.5 L1275.6 1112.9 L1276.1 1113.3 L1276.6 1113.8 L1277.1 1114.2 L1277.6 1114.7 L1278.1 1115.2 L1278.6 1115.7 L1279.1 1116.2 L1279.6 1116.7 L1280.1 1112.6 L1280.6 1108.9 L1281 1107.5 L1281.1 1107.4 L1281.6 1107.1 L1282.1 1106.9 L1282.6 1106.7 L1283.1 1106.5 L1283.6 1106.3 L1284.1 1106.1 L1284.6 1106 L1285.1 1105.9 L1285.6 1105.8 L1286.1 1105.7 L1286.6 1105.7 L1287.1 1105.6 L1287.6 1105.6 L1288.1 1105.5 L1288.6 1105.4 L1289.1 1105.4 L1289.6 1105.3 L1290.1 1105.3 L1290.6 1105.2 L1291.1 1105.1 L1291.6 1105 L1292.1 1104.9 L1292.6 1104.7 L1293.1 1104.6 L1293.5 1104.4 L1293.6 1104.4 L1294.1 1104.1 L1294.6 1103.9 L1295.1 1103.6 L1295.6 1103.3 L1296.1 1102.9 L1296.6 1102.5 L1297.1 1102.1 L1297.6 1101.7 L1298.1 1101.2 L1298.6 1100.7 L1299.1 1100.2 L1299.6 1099.7 L1300.1 1099.1 L1300.6 1098.5 L1301.1 1097.9 L1301.6 1097.2 L1302.1 1096.6 L1302.6 1095.9 L1303.1 1095.1 L1303.6 1094.4 L1303.8 1094.1 L1304.1 1093.6 L1304.6 1092.7 L1305.1 1091.7 L1305.6 1090.7 L1306.1 1089.5 L1306.6 1088.2 L1307.1 1086.8 L1307.6 1085.4 L1308.1 1083.8 L1308.6 1082.2 L1309.1 1080.6 L1309.6 1078.8 L1310.1 1077 L1310.6 1075.2 L1311.1 1073.3 L1311.6 1071.4 L1312.1 1069.4 L1312.6 1067.3 L1313.1 1065 L1313.6 1062.5 L1314.1 1059.9 L1314.6 1057.1 L1315.1 1054.2 L1315.6 1051.1 L1316.1 1048 L1316.6 1044.9 L1317.1 1041.6 L1317.6 1038.3 L1318.1 1035.1 L1318.2 1034.4 L1318.6 1031.7 L1319.1 1028.2 L1319.6 1024.6 L1320.1 1020.9 L1320.6 1017 L1321.1 1013.1 L1321.6 1009.2 L1322.1 1005.1 L1322.3 1003.5 L1322.6 1001 L1323.1 996.7 L1323.6 992.2 L1324.1 987.5 L1324.6 982.9 L1325.1 978.3 L1325.6 973.9 L1326.1 969.7 L1326.5 966.5 L1326.6 965.7 L1327.1 962 L1327.6 958.3 L1328.1 954.7 L1328.6 951.3 L1329.1 948 L1329.6 944.7 L1330.1 941.7 L1330.6 938.7 L1331.1 940.7 L1331.6 943 L1332.1 945.5 L1332.6 948.3 L1333.1 951.4 L1333.6 954.7 L1334.1 958.1 L1334.6 961.7 L1334.7 962.3 L1335.1 965.6 L1335.6 970.1 L1336.1 975.1 L1336.6 980.4 L1337.1 985.8 L1337.6 991.3 L1338.1 996.7 L1338.6 1001.8 L1338.8 1003.5 L1339.1 1006.7 L1339.6 1011.6 L1340.1 1016.6 L1340.6 1021.6 L1341.1 1026.4 L1341.6 1031 L1342.1 1035.2 L1342.6 1038.9 L1342.9 1040.6 L1343.1 1042.1 L1343.6 1045.1 L1344.1 1047.9 L1344.6 1050.7 L1345.1 1053.2 L1345.6 1055.7 L1346.2 1058 L1346.7 1060.2 L1347.2 1062.3 L1347.7 1064.3 L1348.2 1066.1 L1348.7 1067.9 L1349.1 1069.4 L1349.2 1069.6 L1349.7 1071.2 L1350.2 1072.8 L1350.7 1074.4 L1351.2 1075.9 L1351.7 1077.3 L1352.2 1078.8 L1352.7 1080.1 L1353.2 1081.4 L1353.7 1082.7 L1354.2 1083.9 L1354.7 1085 L1355.2 1086.1 L1355.7 1087.1 L1356.2 1088.1 L1356.7 1089 L1357.2 1089.8 L1357.3 1090 L1357.7 1090.6 L1358.2 1091.4 L1358.7 1092.2 L1359.2 1093 L1359.7 1093.7 L1360.2 1094.5 L1360.7 1095.2 L1361.2 1096 L1361.7 1096.7 L1362.2 1097.3 L1362.7 1098 L1363.2 1098.6 L1363.7 1099.1 L1364.2 1099.6 L1364.7 1100 L1365.2 1100.4 L1365.7 1100.7 L1366.2 1101 L1366.7 1101.2 L1367.2 1101.3 L1367.6 1101.3 L1367.7 1101.3 L1368.2 1101.3 L1368.7 1101.2 L1369.2 1101.1 L1369.7 1101 L1370.2 1100.9 L1370.7 1100.8 L1371.2 1100.6 L1371.7 1100.4 L1372.2 1100.2 L1372.7 1100 L1373.2 1099.7 L1373.7 1099.4 L1374.2 1099.2 L1374.7 1098.9 L1375.2 1098.6 L1375.7 1098.3 L1375.9 1098.2 L1376.3 1097.9 L1376.8 1097.4 L1377.3 1096.8 L1377.8 1096 L1378.3 1095.2 L1378.8 1094.2 L1379.3 1093.2 L1379.8 1092.2 L1380.3 1091.1 L1380.8 1090 L1381.3 1088.9 L1381.8 1087.9 L1382.3 1086.8 L1382.8 1085.9 L1383.3 1085 L1383.8 1084.2 L1384.1 1083.8 L1384.3 1083.6 L1384.8 1083 L1385.3 1082.3 L1385.8 1081.7 L1386.3 1081.2 L1386.8 1080.6 L1387.3 1080.1 L1387.8 1079.6 L1388.3 1079.1 L1388.8 1078.6 L1389.3 1078.1 L1389.8 1077.7 L1390.3 1077.3 L1390.8 1076.9 L1391.3 1076.6 L1391.8 1077.3 L1392.3 1078.1 L1392.8 1078.9 L1393.3 1079.7 L1393.8 1080.6 L1394.3 1081.5 L1394.8 1082.4 L1395.3 1083.4 L1395.8 1084.4 L1396.3 1085.5 L1396.5 1085.9 L1396.8 1086.6 L1397.3 1087.8 L1397.8 1089.1 L1398.3 1090.6 L1398.8 1092.1 L1399.3 1093.6 L1399.8 1095.1 L1400.3 1096.6 L1400.8 1098 L1401.3 1099.4 L1401.8 1100.6 L1402.3 1101.7 L1402.6 1102.3 L1402.8 1102.7 L1403.3 1103.6 L1403.8 1104.5 L1404.3 1105.3 L1404.8 1106.2 L1405.3 1107 L1405.8 1107.8 L1406.3 1108.5 L1406.8 1109.2 L1407.3 1109.9 L1407.8 1110.6 L1408.3 1111.2 L1408.8 1111.8 L1409.3 1112.3 L1409.8 1112.8 L1410.3 1113.2 L1410.8 1113.6 L1410.9 1113.7 L1411.3 1114 L1411.8 1114.4 L1412.3 1114.7 L1412.8 1115 L1413.3 1115.4 L1413.8 1115.7 L1414.3 1116 L1414.8 1116.3 L1415.3 1116.6 L1415.8 1116.8 L1416.3 1117.1 L1416.8 1117.3 L1417.3 1117.6 L1417.8 1117.8 L1418.3 1118 L1418.8 1118.1 L1419.3 1118.3 L1419.8 1118.5 L1420.3 1118.6 L1420.8 1118.7 L1421.2 1118.8 L1421.3 1118.8 L1421.8 1118.9 L1422.3 1119 L1422.8 1119.1 L1423.3 1119.2 L1423.8 1119.2 L1424.3 1119.3 L1424.8 1119.4 L1425.3 1119.5 L1425.8 1119.5 L1426.3 1119.6 L1426.8 1119.6 L1427.3 1119.7 L1427.8 1119.7 L1428.3 1119.8 L1428.8 1119.8 L1429.3 1119.9 L1429.8 1119.9 L1430.3 1120 L1430.8 1120 L1431.3 1120.1 L1431.8 1120.1 L1432.3 1120.1 L1432.8 1120.2 L1433.3 1120.2 L1433.8 1120.3 L1434.3 1120.3 L1434.8 1120.4 L1435.3 1120.4 L1435.8 1120.4 L1436.3 1120.5 L1436.8 1120.6 L1437.3 1120.6 L1437.8 1120.7 L1438.3 1120.7 L1438.8 1120.8 L1439.3 1120.8 L1439.7 1120.9 L1439.8 1120.9 L1440.3 1121 L1440.8 1121.1 L1441.3 1121.2 L1441.8 1121.2 L1442.3 1121.3 L1442.8 1121.4 L1443.3 1121.5 L1443.8 1121.6 L1444.3 1121.7 L1444.8 1121.9 L1445.3 1122 L1445.8 1122.1 L1446.3 1122.2 L1446.8 1122.3 L1447.3 1122.5 L1447.8 1122.6 L1448.3 1122.7 L1448.8 1122.8 L1449.3 1123 L1449.8 1123.1 L1450.3 1123.2 L1450.8 1123.3 L1451.3 1123.5 L1451.8 1123.6 L1452.3 1123.7 L1452.8 1123.9 L1453.3 1124 L1453.8 1124.1 L1454.3 1124.2 L1454.8 1124.3 L1455.3 1124.5 L1455.8 1124.6 L1456.3 1124.7 L1456.8 1124.8 L1457.3 1124.9 L1457.8 1125 L1458.3 1125.1 L1458.8 1125.2 L1459.3 1125.3 L1459.8 1125.4 L1460.3 1125.5 L1460.8 1125.5 L1461.3 1125.6 L1461.8 1125.7 L1462.3 1125.7 L1462.8 1125.8 L1463.3 1125.9 L1463.8 1125.9 L1464.3 1125.9 L1464.8 1126 L1465.3 1126 L1465.8 1126 L1466.3 1126 L1466.5 1126 L1466.8 1126 L1467.3 1126 L1467.9 1126 L1468.4 1126 L1468.9 1126 L1469.4 1126 L1469.9 1126 L1470.4 1125.9 L1470.9 1125.9 L1471.4 1125.9 L1471.9 1125.9 L1472.4 1125.9 L1472.9 1125.8 L1473.4 1125.8 L1473.9 1125.8 L1474.4 1125.7 L1474.9 1125.7 L1475.4 1125.7 L1475.9 1125.6 L1476.4 1125.6 L1476.9 1125.6 L1477.4 1125.5 L1477.9 1125.5 L1478.4 1125.4 L1478.9 1125.4 L1479.4 1125.4 L1479.9 1125.3 L1480.4 1125.3 L1480.9 1125.2 L1481.4 1125.2 L1481.9 1125.1 L1482.4 1125.1 L1482.9 1125 L1482.9 1125 L1483.4 1124.9 L1483.9 1124.8 L1484.4 1124.7 L1484.9 1124.6 L1485.4 1124.4 L1485.9 1124.3 L1486.4 1124.1 L1486.9 1123.9 L1487.4 1123.7 L1487.9 1123.4 L1488.4 1123.2 L1488.9 1123 L1489.4 1122.7 L1489.9 1122.5 L1490.4 1122.2 L1490.9 1121.9 L1491.4 1121.7 L1491.9 1121.4 L1492.4 1121.2 L1492.9 1120.9 L1493.4 1120.7 L1493.9 1120.4 L1494.4 1120.2 L1494.9 1120 L1495.3 1119.8 L1495.4 1119.8 L1495.9 1119.6 L1496.4 1119.3 L1496.9 1119.1 L1497.4 1118.8 L1497.9 1118.6 L1498.4 1118.3 L1498.9 1118.1 L1499.4 1117.9 L1499.9 1117.6 L1500.4 1117.4 L1500.9 1117.2 L1501.4 1117.1 L1501.9 1116.9 L1502.4 1116.8 L1502.9 1116.7 L1503.4 1116.7 L1503.5 1116.7 L1503.9 1116.7 L1504.4 1116.8 L1504.9 1117 L1505.4 1117.2 L1505.9 1117.5 L1506.4 1117.8 L1506.9 1118.2 L1507.4 1118.6 L1507.9 1119 L1508.4 1119.4 L1508.9 1119.8 L1509.4 1120.3 L1509.9 1120.7 L1510.4 1121 L1510.9 1121.4 L1511.4 1121.7 L1511.7 1121.9 L1511.9 1122 L1512.4 1122.3 L1512.9 1122.5 L1513.4 1122.8 L1513.9 1123.1 L1514.4 1123.3 L1514.9 1123.6 L1515.4 1123.8 L1515.9 1124.1 L1516.4 1124.4 L1516.9 1124.6 L1517.4 1124.9 L1517.9 1125.1 L1518.4 1125.4 L1518.9 1125.6 L1519.4 1125.9 L1519.9 1126.1 L1520.4 1126.3 L1520.9 1126.5 L1521.4 1126.8 L1521.9 1127 L1522.4 1127.2 L1522.9 1127.4 L1523.4 1127.6 L1523.9 1127.8 L1524.4 1128 L1524.9 1128.1 L1525.4 1128.3 L1525.9 1128.5 L1526.4 1128.6 L1526.9 1128.8 L1527.4 1128.9 L1527.9 1129 L1528.2 1129.1 L1528.4 1129.1 L1528.9 1129.3 L1529.4 1129.4 L1529.9 1129.5 L1530.4 1129.6 L1530.9 1129.7 L1531.4 1129.8 L1531.9 1129.9 L1532.4 1130 L1532.9 1130.1 L1533.4 1130.3 L1533.9 1130.4 L1534.4 1130.5 L1534.9 1130.6 L1535.4 1130.7 L1535.9 1130.8 L1536.4 1130.9 L1536.9 1131 L1537.4 1131 L1537.9 1131.1 L1538.4 1131.2 L1538.9 1131.3 L1539.4 1131.4 L1539.9 1131.5 L1540.4 1131.5 L1540.9 1131.6 L1541.4 1131.7 L1541.9 1131.7 L1542.4 1131.8 L1542.9 1131.9 L1543.4 1131.9 L1543.9 1132 L1544.4 1132 L1544.9 1132 L1545.4 1132.1 L1545.9 1132.1 L1546.4 1132.1 L1546.9 1132.2 L1547.4 1132.2 L1547.9 1132.2 L1548.4 1132.2 L1548.8 1132.2 L1548.9 1132.2 L1549.4 1132.2 L1549.9 1132.2 L1550.4 1132.2 L1550.9 1132.2 L1551.4 1132.2 L1551.9 1132.2 L1552.4 1132.2 L1552.9 1132.2 L1553.4 1132.2 L1553.9 1132.2 L1554.4 1132.2 L1554.9 1132.2 L1555.4 1132.2 L1555.9 1132.2 L1556.4 1132.2 L1556.9 1132.2 L1557.4 1132.2 L1557.9 1132.2 L1558.4 1132.2 L1558.9 1132.2 L1559.4 1132.2 L1559.9 1132.2 L1560.4 1132.2 L1560.9 1132.2 L1561.4 1132.2 L1561.9 1132.2 L1562.4 1132.2 L1562.9 1132.2 L1563.4 1132.2 L1563.9 1132.2 L1564.4 1132.2 L1564.9 1132.2 L1565.4 1132.2 L1565.9 1132.2 L1566.4 1132.2 L1566.9 1132.2 L1567.4 1132.2 L1567.9 1132.2 L1568.4 1132.2 L1568.9 1132.2 L1569.4 1132.2 L1569.4 1132.2 L1569.9 1132.2 L1570.4 1132.2 L1570.9 1132.2 L1571.4 1132.2 L1571.9 1132.2 L1572.4 1132.1 L1572.9 1132.1 L1573.4 1132.1 L1573.9 1132.1 L1574.4 1132.1 L1574.9 1132 L1575.4 1132 L1575.9 1132 L1576.4 1131.9 L1576.9 1131.9 L1577.4 1131.9 L1577.9 1131.8 L1578.4 1131.8 L1578.9 1131.8 L1579.4 1131.7 L1579.7 1131.7 L1579.9 1131.7 L1580.4 1131.6 L1580.9 1131.6 L1581.4 1131.5 L1581.9 1131.4 L1582.4 1131.3 L1582.9 1131.2 L1583.4 1131.1 L1583.9 1131 L1584.4 1130.8 L1584.9 1130.7 L1585.4 1130.5 L1585.9 1130.3 L1586.4 1130.2 L1586.9 1130 L1587.4 1129.8 L1587.9 1129.6 L1588.4 1129.4 L1588.9 1129.2 L1589.4 1129 L1589.9 1128.8 L1590.4 1128.6 L1590.9 1128.3 L1591.4 1128.1 L1591.9 1127.9 L1592.4 1127.6 L1592.9 1127.4 L1593.4 1127.1 L1593.5 1127.1 L1593.9 1126.9 L1594.4 1126.6 L1594.9 1126.2 L1595.4 1125.8 L1595.9 1125.4 L1596.4 1124.9 L1596.9 1124.5 L1597.4 1124 L1597.9 1123.5 L1598.4 1123 L1598.9 1122.5 L1599.4 1122 L1599.9 1121.5 L1600.4 1121 L1600.9 1120.6 L1601.4 1120.2 L1601.9 1119.8 L1602.3 1119.5 L1602.4 1119.4 L1602.9 1119 L1603.4 1118.7 L1603.9 1118.3 L1604.4 1117.9 L1604.9 1117.5 L1605.4 1117.1 L1605.9 1116.7 L1606.4 1116.4 L1606.9 1116.1 L1607.4 1115.8 L1607.9 1115.5 L1608.4 1115.3 L1608.9 1115.1 L1609.4 1115 L1609.9 1115 L1610 1115 L1610.4 1115 L1610.9 1115.2 L1611.4 1115.4 L1611.9 1115.8 L1612.4 1116.1 L1612.9 1116.6 L1613.4 1117.1 L1613.9 1117.7 L1614.4 1118.2 L1614.9 1118.8 L1615.4 1119.4 L1615.9 1120.1 L1616.4 1120.7 L1616.9 1121.2 L1617.4 1121.8 L1617.9 1122.3 L1618.4 1122.7 L1618.9 1123.1 L1619.1 1123.2 L1619.4 1123.4 L1620 1123.8 L1620.5 1124.1 L1621 1124.4 L1621.5 1124.7 L1622 1125 L1622.5 1125.4 L1623 1125.7 L1623.5 1126 L1624 1126.3 L1624.5 1126.6 L1625 1126.8 L1625.5 1127.1 L1626 1127.4 L1626.5 1127.6 L1627 1127.9 L1627.5 1128.1 L1628 1128.3 L1628.5 1128.5 L1629 1128.6 L1629.5 1128.8 L1630 1128.9 L1630.5 1129 L1631 1129.1 L1631 1129.1 L1631.5 1129.2 L1632 1129.2 L1632.5 1129.3 L1633 1129.4 L1633.5 1129.4 L1634 1129.5 L1634.5 1129.6 L1635 1129.6 L1635.5 1129.7 L1636 1129.7 L1636.5 1129.8 L1637 1129.8 L1637.5 1129.9 L1638 1129.9 L1638.5 1129.9 L1639 1130 L1639.5 1130 L1640 1130 L1640.5 1130.1 L1641 1130.1 L1641.5 1130.1 L1642 1130.1 L1642.5 1130.1 L1642.8 1130.1 L1643 1130.1 L1643.5 1130.1 L1644 1130 L1644.5 1129.9 L1645 1129.8 L1645.5 1129.7 L1646 1129.6 L1646.5 1129.4 L1647 1129.2 L1647.5 1129.1 L1648 1128.8 L1648.5 1128.6 L1649 1128.4 L1649.5 1128.2 L1650 1127.9 L1650.5 1127.7 L1651 1127.4 L1651.5 1127.2 L1652 1126.9 L1652.5 1126.7 L1653 1126.5 L1653.5 1126.2 L1654 1126 L1654.5 1125.8 L1655 1125.6 L1655.5 1125.4 L1656 1125.2 L1656.5 1125.1 L1657 1124.9 L1657.5 1124.8 L1658 1124.7 L1658.5 1124.7 L1659 1124.6 L1659.5 1124.6 L1659.5 1124.6 L1660 1124.6 L1660.5 1124.7 L1661 1124.9 L1661.5 1125.1 L1662 1125.3 L1662.5 1125.6 L1663 1125.9 L1663.5 1126.2 L1664 1126.6 L1664.5 1127 L1665 1127.4 L1665.5 1127.8 L1666 1128.2 L1666.5 1128.6 L1667 1129 L1667.5 1129.4 L1668 1129.7 L1668.5 1130.1 L1669 1130.4 L1669.5 1130.7 L1670 1130.9 L1670.4 1131.1 L1670.5 1131.1 L1671 1131.3 L1671.5 1131.5 L1672 1131.7 L1672.5 1131.9 L1673 1132.1 L1673.5 1132.3 L1674 1132.4 L1674.5 1132.6 L1675 1132.8 L1675.5 1132.9 L1676 1133.1 L1676.5 1133.3 L1677 1133.4 L1677.5 1133.5 L1678 1133.7 L1678.5 1133.8 L1679 1133.9 L1679.5 1134 L1680 1134.1 L1680.5 1134.2 L1681 1134.3 L1681.5 1134.3 L1682 1134.4 L1682.2 1134.4 L1682.5 1134.4 L1683 1134.5 L1683.5 1134.5 L1684 1134.5 L1684.5 1134.6 L1685 1134.6 L1685.5 1134.6 L1686 1134.7 L1686.5 1134.7 L1687 1134.7 L1687.5 1134.8 L1688 1134.8 L1688.5 1134.8 L1689 1134.8 L1689.5 1134.9 L1690 1134.9 L1690.5 1134.9 L1691 1134.9 L1691.5 1134.9 L1692 1134.9 L1692.5 1135 L1693 1135 L1693.5 1135 L1694 1135 L1694.5 1135 L1695 1135 L1695.5 1135 L1696 1135 L1696.5 1133.6 L1697 1132.3 L1697.5 1131.2 L1698 1130.5 L1698.5 1130.2 L1699 1129.8 L1699.5 1129.5 L1700 1129.2 L1700.5 1129 L1701 1128.7 L1701.5 1128.5 L1702 1128.3 L1702.5 1128.1 L1703 1127.9 L1703.5 1127.7 L1704 1127.6 L1704.5 1127.5 L1705 1127.4 L1705.5 1127.3 L1706 1127.2 L1706.5 1127.2 L1707 1127.1 L1707.5 1127.1 L1707.8 1127.1 L1708 1127.1 L1708.5 1127.1 L1709 1127.1 L1709.5 1127.2 L1710 1127.2 L1710.5 1127.2 L1711 1127.3 L1711.5 1127.3 L1712 1127.4 L1712.5 1127.5 L1713 1127.5 L1713.5 1127.6 L1714 1127.7 L1714.5 1127.8 L1715 1127.8 L1715.5 1127.9 L1716 1128 L1716.5 1128.1 L1717 1128.1 L1717.5 1128.2 L1718 1128.3 L1718.5 1128.3 L1719 1128.4 L1719.5 1128.4 L1720 1128.4 L1720.5 1128.5 L1721 1128.5 L1721.5 1128.5 L1721.6 1128.5 L1722 1128.5 L1722.5 1128.5 L1723 1128.4 L1723.5 1128.3 L1724 1128.2 L1724.5 1128.1 L1725 1128 L1725.5 1127.8 L1726 1127.6 L1726.5 1127.5 L1727 1127.3 L1727.5 1127.1 L1728 1126.9 L1728.5 1126.6 L1729 1126.4 L1729.5 1126.2 L1730 1126 L1730.5 1125.7 L1731 1125.3 L1731.5 1124.9 L1732 1124.5 L1732.5 1124.1 L1733 1123.6 L1733.5 1123.1 L1734 1122.5 L1734.5 1122 L1735 1121.4 L1735.5 1120.8 L1736 1120.1 L1736.5 1119.5 L1737 1118.8 L1737.4 1118.3 L1737.5 1118.2 L1738 1117.4 L1738.5 1116.7 L1739 1115.8 L1739.5 1114.9 L1740 1113.9 L1740.5 1112.9 L1741 1111.9 L1741.5 1110.8 L1742 1109.7 L1742.5 1108.6 L1743 1107.5 L1743.5 1106.4 L1744 1105.3 L1744.5 1104.2 L1745 1103.1 L1745.3 1102.5 L1745.5 1102.1 L1746 1101 L1746.5 1099.8 L1747 1098.6 L1747.5 1097.3 L1748 1096.1 L1748.5 1094.9 L1749 1093.7 L1749.5 1092.6 L1750 1091.6 L1750.5 1090.7 L1751 1090 L1751.2 1089.7 L1751.5 1089.3 L1752 1088.7 L1752.5 1088 L1753 1087.4 L1753.5 1086.8 L1754 1086.3 L1754.5 1085.9 L1755 1085.5 L1755.5 1085.3 L1756 1085.2 L1756.1 1085.2 L1756.5 1085.3 L1757 1085.5 L1757.5 1085.9 L1758 1086.3 L1758.5 1086.9 L1759 1087.6 L1759.5 1088.3 L1760 1089.1 L1760.5 1089.8 L1761 1090.6 L1761.1 1090.7 L1761.5 1091.3 L1762 1092.2 L1762.5 1093.1 L1763 1094.1 L1763.5 1095.2 L1764 1096.3 L1764.5 1097.5 L1765 1098.6 L1765.5 1099.7 L1766 1100.7 L1766.5 1101.6 L1767 1102.5 L1767.5 1103.3 L1768 1104.1 L1768.5 1104.9 L1769 1105.6 L1769.5 1106.4 L1770 1107.1 L1770.5 1107.8 L1771 1108.4 L1771.5 1109 L1772 1109.6 L1772.5 1110.1 L1772.9 1110.4 L1773 1110.5 L1773.5 1110.9 L1774 1111.3 L1774.5 1111.7 L1775 1112.1 L1775.5 1112.5 L1776 1112.8 L1776.5 1113.1 L1777 1113.4 L1777.5 1113.7 L1778 1113.9 L1778.5 1114.1 L1779 1114.2 L1779.5 1114.3 L1779.8 1114.3 L1780 1114.3 L1780.5 1114.3 L1781 1114.2 L1781.5 1114.1 L1782 1113.9 L1782.5 1113.7 L1783 1113.5 L1783.5 1113.3 L1784 1113 L1784.5 1112.7 L1785 1112.5 L1785.5 1112.2 L1786 1111.8 L1786.5 1111.5 L1786.7 1111.4 L1787 1111.2 L1787.5 1110.8 L1788 1110.2 L1788.5 1109.6 L1789 1109 L1789.5 1108.3 L1790 1107.5 L1790.5 1106.7 L1791 1105.9 L1791.5 1105.1 L1792 1104.3 L1792.5 1103.5 L1793 1102.7 L1793.5 1101.9 L1794 1101.2 L1794.5 1100.6 L1794.6 1100.5 L1795 1100 L1795.5 1099.4 L1796 1098.7 L1796.5 1098.1 L1797 1097.4 L1797.5 1096.7 L1798 1096.1 L1798.5 1095.5 L1799 1094.9 L1799.5 1094.4 L1800 1093.9 L1800.5 1093.6 L1801 1093.3 L1801.5 1093.1 L1802 1093 L1802.1 1093 L1802.5 1093 L1803 1093.2 L1803.5 1093.4 L1804 1093.7 L1804.5 1094.1 L1805 1094.6 L1805.5 1095.1 L1806 1095.6 L1806.5 1096.2 L1807 1096.8 L1807.5 1097.5 L1808 1098.1 L1808.4 1098.6 L1808.5 1098.7 L1809 1099.4 L1809.5 1100.2 L1810 1101.2 L1810.5 1102.1 L1811 1103.2 L1811.5 1104.3 L1812 1105.4 L1812.5 1106.5 L1813 1107.6 L1813.5 1108.7 L1814 1109.8 L1814.3 1110.4 L1814.5 1110.8 L1815 1111.9 L1815.5 1112.9 L1816 1114.1 L1816.5 1115.2 L1817 1116.3 L1817.5 1117.4 L1818 1118.5 L1818.5 1119.5 L1819 1120.4 L1819.5 1121.2 L1820 1121.9 L1820.2 1122.2 L1820.5 1122.6 L1821 1123.2 L1821.5 1123.8 L1822 1124.4 L1822.5 1125 L1823 1125.5 L1823.5 1126.1 L1824 1126.6 L1824.5 1127 L1825 1127.5 L1825.5 1127.9 L1826 1128.2 L1826.5 1128.5 L1827 1128.8 L1827.5 1128.9 L1828 1129.1 L1828.1 1129.1 L1828.5 1129.2 L1829 1129.2 L1829.5 1129.3 L1830 1129.4 L1830.5 1129.4 L1831 1129.5 L1831.5 1129.6 L1832 1129.6 L1832.5 1129.6 L1833 1129.7 L1833.5 1129.7 L1834 1129.7 L1834.5 1129.8 L1835 1129.8 L1835.5 1129.8 L1836 1129.9 L1836.5 1129.9 L1837 1129.9 L1837.5 1129.9 L1838 1130 L1838.5 1130 L1839 1130 L1839.5 1130.1 L1840 1130.1 L1840.5 1130.1 L1841 1130.2 L1841.5 1130.2 L1842 1130.3 L1842.5 1130.3 L1843 1130.4 L1843.5 1130.5 L1843.8 1130.5 L1844 1130.5 L1844.5 1130.6 L1845 1130.7 L1845.5 1130.8 L1846 1131 L1846.5 1131.1 L1847 1131.3 L1847.5 1131.4 L1848 1131.6 L1848.5 1131.8 L1849 1132 L1849.5 1132.2 L1850 1132.4 L1850.5 1132.6 L1851 1132.9 L1851.5 1133.1 L1852 1133.3 L1852.5 1133.5 L1853 1133.8 L1853.5 1134 L1854 1134.2 L1854.5 1134.5 L1855 1134.7 L1855.5 1134.9 L1855.7 1135 L1856 1135.1 L1856.5 1135.3 L1857 1135.6 L1857.5 1135.8 L1858 1136 L1858.5 1136.2 L1859 1136.4 L1859.5 1136.7 L1860 1136.9 L1860.5 1137.1 L1861 1137.4 L1861.5 1137.6 L1862 1137.9 L1862.5 1138.1 L1863 1138.4 L1863.5 1138.7 L1864 1139 L1864.5 1139.3 L1865 1139.7 L1865.5 1140 L1866 1140.5 L1866.5 1141.1 L1867 1141.6 L1867.5 1141.9 L1868 1142 L1868.5 1142.1 L1869 1142.2 L1869.5 1142.2 L1870 1142.3 L1870.5 1142.4 L1871 1142.5 L1871.5 1142.5 L1872 1142.6 L1872.5 1142.7 L1873 1142.7 L1873.5 1142.8 L1874 1142.8 L1874.5 1142.9 L1875 1142.9 L1875.5 1143 L1876 1143 L1876.5 1143.1 L1877 1143.1 L1877.5 1143.2 L1878 1143.2 L1878.5 1143.3 L1879 1143.3 L1879.5 1143.3 L1880 1143.4 L1880.5 1143.4 L1881 1143.4 L1881.5 1143.5 L1882 1143.5 L1882.5 1143.5 L1883 1143.5 L1883.5 1143.6 L1884 1143.6 L1884.5 1143.6 L1885 1143.6 L1885.5 1143.7 L1886 1143.7 L1886.5 1143.7 L1887 1143.7 L1887.5 1143.7 L1888 1143.7 L1888.5 1143.8 L1889 1143.8 L1889.5 1143.8 L1890 1143.8 L1890.5 1143.8 L1891 1143.8 L1891.5 1143.8 L1892 1143.8 L1892.5 1143.9 L1893 1143.9 L1893.5 1143.9 L1894 1143.9 L1894.5 1143.9 L1895 1143.9 L1895.1 1143.9 L1895.5 1143.9 L1896 1143.9 L1896.5 1143.9 L1897 1143.9 L1897.5 1143.9 L1898 1144 L1898.5 1144 L1899 1144 L1899.5 1144 L1900 1144 L1900.5 1144 L1901 1144 L1901.5 1144 L1902 1144 L1902.5 1144 L1903 1144 L1903.5 1144 L1904 1144.1 L1904.5 1144.1 L1905 1144.1 L1905.5 1144.1 L1906 1144.1 L1906.5 1144.1 L1907 1144.1 L1907.5 1144.1 L1908 1144.1 L1908.5 1144.1 L1909 1144.1 L1909.5 1144.1 L1910 1144.1 L1910.5 1144.1 L1911 1144.1 L1911.5 1144.2 L1912 1144.2 L1912.5 1144.2 L1913 1144.2 L1913.5 1144.2 L1914 1144.2 L1914.5 1144.2 L1915 1144.2 L1915.5 1144.2 L1916 1144.2 L1916.5 1144.2 L1917 1144.2 L1917.5 1144.2 L1918 1144.2 L1918.5 1144.2 L1919 1144.2 L1919.5 1144.2 L1920 1144.2 L1920.5 1144.2 L1921 1144.2 L1921.5 1144.3 L1922 1144.3 L1922.5 1144.3 L1923 1144.3 L1923.5 1144.3 L1924 1144.3 L1924.5 1144.3 L1925 1144.3 L1925.5 1144.3 L1926 1144.3 L1926.5 1144.3 L1927 1144.3 L1927.5 1144.3 L1928 1144.3 L1928.5 1144.3 L1929 1144.3 L1929.5 1144.3 L1930 1144.3 L1930.5 1144.3 L1931 1144.3 L1931.5 1144.3 L1932 1144.3 L1932.5 1144.3 L1933 1144.3 L1933.5 1144.3 L1934 1144.3 L1934.5 1144.3" fill="none" stroke="#078989" stroke-width="5.1" stroke-linejoin="round" stroke-linecap="round"/>
<text x="279.7" y="1563.7" text-anchor="middle" font-size="78">2</text><text x="578.5" y="1563.7" text-anchor="middle" font-size="78">4</text><text x="877.3" y="1563.7" text-anchor="middle" font-size="78">6</text><text x="1176.1" y="1563.7" text-anchor="middle" font-size="78">8</text><text x="1475.0" y="1563.7" text-anchor="middle" font-size="78">10</text><text x="1773.8" y="1563.7" text-anchor="middle" font-size="78">12</text>
<g font-size="83.4">
<text x="513" y="1651.5">Diffraction</text>
<text x="904" y="1651.5">Angle</text>
<text x="1127.3" y="1651.5">2</text>
<text class="i" transform="translate(1221.5 1651.5) scale(1.12 1)" text-anchor="middle" x="0" y="0">θ</text>
<text x="1255" y="1651.5">/</text>
<text x="1297.5" y="1651.5">Degree</text>
<g transform="translate(60 0) rotate(-90)">
<text x="-930.1" y="0">Intensity</text>
<text x="-616.6" y="0">/</text>
<text x="-572.5" y="0">a.u.</text>
</g>
</g>
<g font-size="77">
<text class="i" transform="translate(1380.5 138.1) scale(1.15 1)" text-anchor="middle" x="0" y="0">λ</text>
<text transform="translate(1440.1 140.2) scale(1.14 1)" text-anchor="middle" x="0" y="0">=</text>
<text x="1480.9" y="138.1">0.207090</text>
<text x="1786.5" y="138.1">Å</text>
</g>
<path d="M1357.9 251.6H1511.1" stroke="#078989" stroke-width="6.6" stroke-linecap="round"/>
<circle cx="1434.3" cy="336.3" r="14.8" fill="#fff" stroke="#000" stroke-width="2"/>
<path d="M1356 421.7H1512.4" stroke="#787878" stroke-width="2"/>
<path d="M1434 489.5V524.6" stroke="#111" stroke-width="2" stroke-linecap="round"/>
<text id="l1" x="1528.9" y="273.9" font-size="69.2">calculated</text>
<text id="l2" x="1528.9" y="358.6" font-size="69.2">experimental</text>
<text id="l3" x="1528.9" y="444.1" font-size="69.2">difference</text>
<text id="l4" x="1528.9" y="529.1" font-size="69.2">peak positions</text>
</svg>
</body></html>
